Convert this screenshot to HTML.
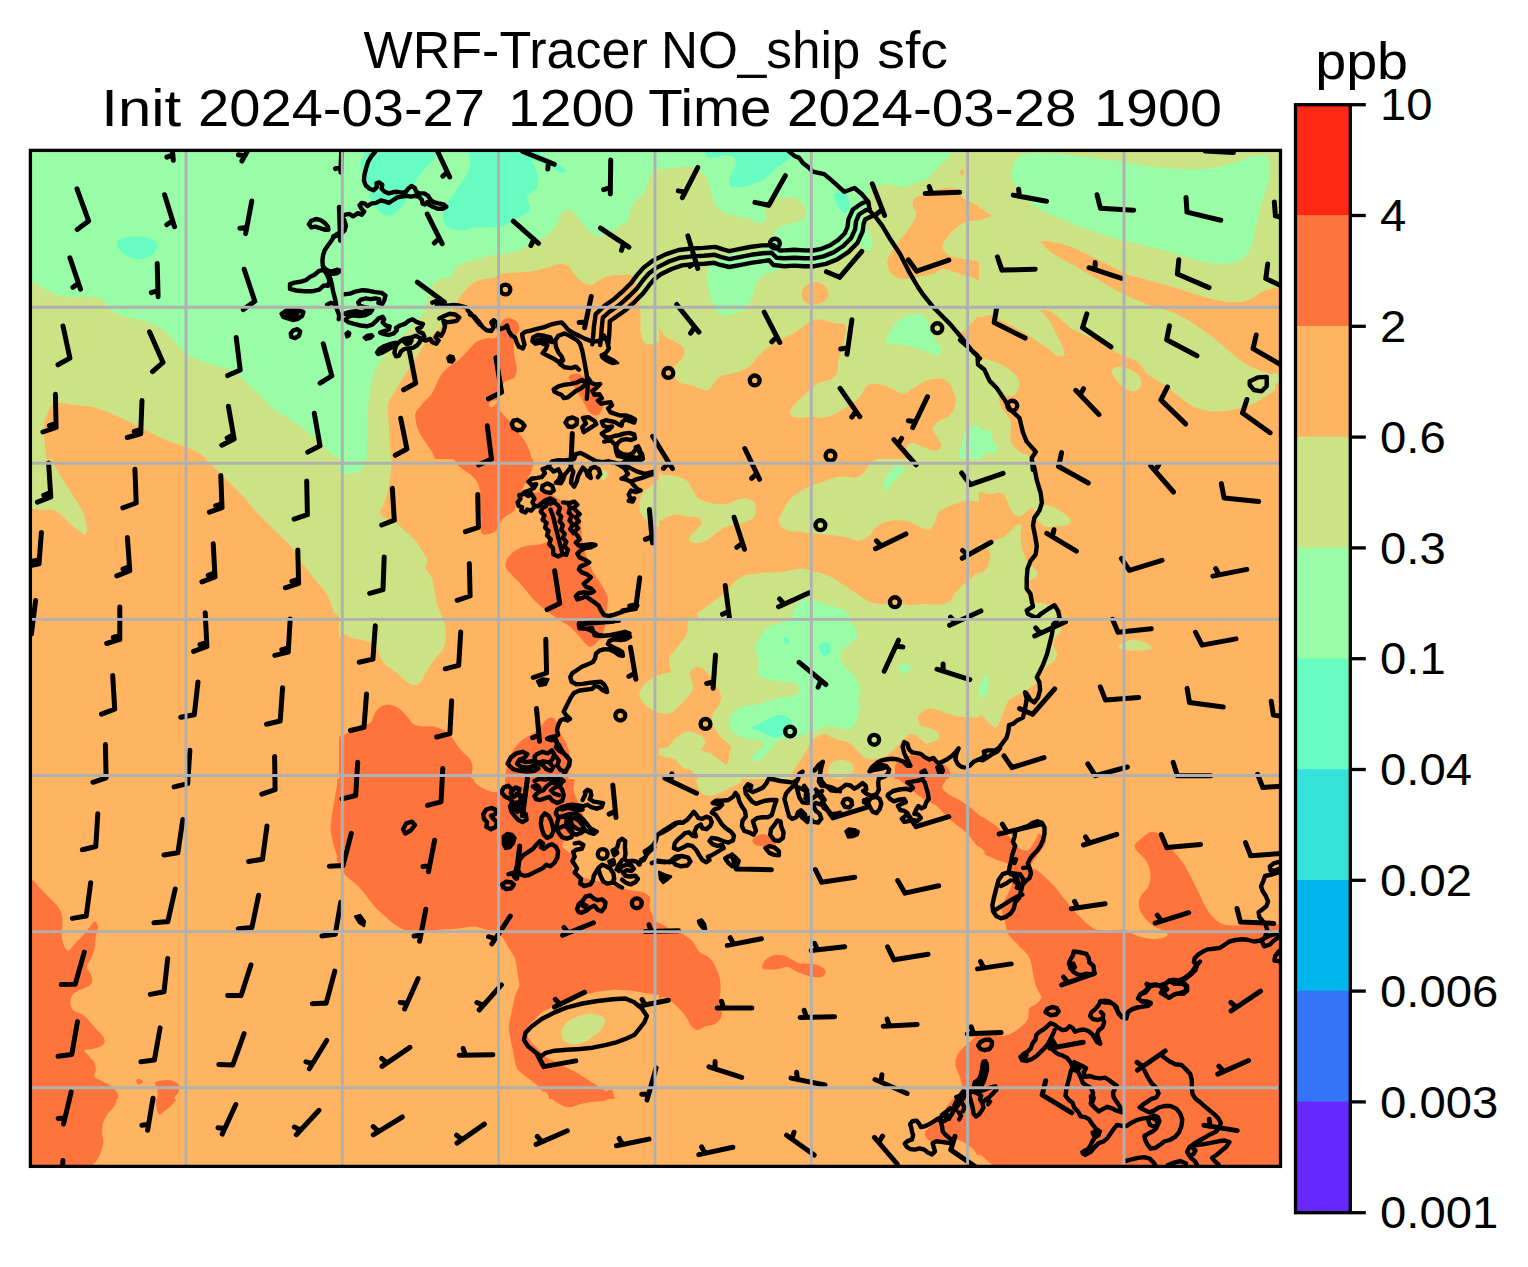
<!DOCTYPE html><html><head><meta charset="utf-8"><title>WRF-Tracer NO_ship sfc</title>
<style>html,body{margin:0;padding:0;background:#fff;}svg{display:block;}text{font-family:"Liberation Sans",sans-serif;fill:#000;}</style></head><body>
<svg width="1528" height="1267" viewBox="0 0 1528 1267">
<defs><clipPath id="c0"><rect x="19.0" y="139.0" width="322.0" height="322.0"/></clipPath><clipPath id="c1"><rect x="19.0" y="459.0" width="322.0" height="322.0"/></clipPath><clipPath id="c2"><rect x="19.0" y="779.0" width="322.0" height="322.0"/></clipPath><clipPath id="c3"><rect x="19.0" y="1099.0" width="322.0" height="82.0"/></clipPath><clipPath id="c4"><rect x="339.0" y="139.0" width="322.0" height="322.0"/></clipPath><clipPath id="c5"><rect x="339.0" y="459.0" width="322.0" height="322.0"/></clipPath><clipPath id="c6"><rect x="339.0" y="779.0" width="322.0" height="322.0"/></clipPath><clipPath id="c7"><rect x="339.0" y="1099.0" width="322.0" height="82.0"/></clipPath><clipPath id="c8"><rect x="659.0" y="139.0" width="322.0" height="322.0"/></clipPath><clipPath id="c9"><rect x="659.0" y="459.0" width="322.0" height="322.0"/></clipPath><clipPath id="c10"><rect x="659.0" y="779.0" width="322.0" height="322.0"/></clipPath><clipPath id="c11"><rect x="659.0" y="1099.0" width="322.0" height="82.0"/></clipPath><clipPath id="c26"><rect x="979.0" y="139.0" width="322.0" height="322.0"/></clipPath><clipPath id="c27"><rect x="979.0" y="459.0" width="322.0" height="322.0"/></clipPath><clipPath id="c28"><rect x="979.0" y="779.0" width="322.0" height="322.0"/></clipPath><clipPath id="c29"><rect x="979.0" y="1099.0" width="322.0" height="82.0"/></clipPath>
<clipPath id="frame"><rect x="30.4" y="150.4" width="1250.1" height="1016.0"/></clipPath></defs>
<rect width="1528" height="1267" fill="#fff"/>
<g clip-path="url(#frame)">
<rect x="30.4" y="150.4" width="1250.1" height="1016.0" fill="#ffb462"/>
<g clip-path="url(#c0)"><g transform="translate(20,140) scale(0.25257)"><rect x="-50" y="-50" width="1400" height="1400" fill="#99fca6"/><path d="M385.0,405.0 C387.0,399.2 389.2,393.8 400.0,390.0 C410.8,386.2 433.3,382.8 450.0,382.0 C466.7,381.2 485.8,382.0 500.0,385.0 C514.2,388.0 528.0,393.3 535.0,400.0 C542.0,406.7 544.2,415.8 542.0,425.0 C539.8,434.2 532.3,447.5 522.0,455.0 C511.7,462.5 493.7,468.3 480.0,470.0 C466.3,471.7 452.5,469.2 440.0,465.0 C427.5,460.8 413.7,451.7 405.0,445.0 C396.3,438.3 391.3,431.7 388.0,425.0 C384.7,418.3 383.0,410.8 385.0,405.0 Z" fill="#66fcc2"/><path d="M-200.0,500.0 C-176.7,290.0 -100.8,529.7 -60.0,540.0 C-19.2,550.3 18.3,553.7 45.0,562.0 C71.7,570.3 82.5,581.2 100.0,590.0 C117.5,598.8 133.3,609.7 150.0,615.0 C166.7,620.3 181.7,621.2 200.0,622.0 C218.3,622.8 241.7,619.5 260.0,620.0 C278.3,620.5 296.7,620.8 310.0,625.0 C323.3,629.2 330.0,635.8 340.0,645.0 C350.0,654.2 356.7,670.8 370.0,680.0 C383.3,689.2 401.7,694.2 420.0,700.0 C438.3,705.8 460.0,709.2 480.0,715.0 C500.0,720.8 521.7,725.8 540.0,735.0 C558.3,744.2 575.0,755.8 590.0,770.0 C605.0,784.2 618.8,807.5 630.0,820.0 C641.2,832.5 645.3,837.0 657.0,845.0 C668.7,853.0 682.8,860.5 700.0,868.0 C717.2,875.5 740.0,883.8 760.0,890.0 C780.0,896.2 801.7,898.3 820.0,905.0 C838.3,911.7 856.7,920.0 870.0,930.0 C883.3,940.0 886.7,951.7 900.0,965.0 C913.3,978.3 933.3,994.2 950.0,1010.0 C966.7,1025.8 981.7,1045.0 1000.0,1060.0 C1018.3,1075.0 1040.0,1086.7 1060.0,1100.0 C1080.0,1113.3 1100.0,1125.0 1120.0,1140.0 C1140.0,1155.0 1161.7,1173.3 1180.0,1190.0 C1198.3,1206.7 1210.0,1223.3 1230.0,1240.0 C1250.0,1256.7 1255.0,1246.7 1300.0,1290.0 C1345.0,1333.3 1466.7,1415.0 1500.0,1500.0 C1533.3,1585.0 1783.3,1750.0 1500.0,1800.0 C1216.7,1850.0 83.3,2016.7 -200.0,1800.0 C-483.3,1583.3 -223.3,710.0 -200.0,500.0 Z" fill="#cce385"/><path d="M95.0,1130.0 C96.2,1111.7 100.8,1101.7 105.0,1090.0 C109.2,1078.3 114.2,1068.3 120.0,1060.0 C125.8,1051.7 126.7,1042.0 140.0,1040.0 C153.3,1038.0 176.7,1045.5 200.0,1048.0 C223.3,1050.5 256.7,1050.5 280.0,1055.0 C303.3,1059.5 320.0,1067.5 340.0,1075.0 C360.0,1082.5 380.0,1090.8 400.0,1100.0 C420.0,1109.2 440.0,1120.0 460.0,1130.0 C480.0,1140.0 500.0,1150.0 520.0,1160.0 C540.0,1170.0 560.0,1181.7 580.0,1190.0 C600.0,1198.3 620.0,1202.5 640.0,1210.0 C660.0,1217.5 680.0,1223.3 700.0,1235.0 C720.0,1246.7 710.0,1235.8 760.0,1280.0 C810.0,1324.2 960.0,1413.3 1000.0,1500.0 C1040.0,1586.7 1133.3,1750.0 1000.0,1800.0 C866.7,1850.0 345.0,1850.0 200.0,1800.0 C55.0,1750.0 145.0,1583.3 130.0,1500.0 C115.0,1416.7 115.3,1350.0 110.0,1300.0 C104.7,1250.0 100.5,1228.3 98.0,1200.0 C95.5,1171.7 93.8,1148.3 95.0,1130.0 Z" fill="#ffb462"/></g></g>
<g clip-path="url(#c1)"><g transform="translate(20,460) scale(0.25257)"><rect x="-50" y="-50" width="1400" height="1400" fill="#ffb462"/><path d="M-50.0,-50.0 C-76.7,-10.0 -65.8,149.7 -50.0,190.0 C-34.2,230.3 21.7,190.3 45.0,192.0 C68.3,193.7 75.8,199.0 90.0,200.0 C104.2,201.0 118.3,195.5 130.0,198.0 C141.7,200.5 150.0,207.2 160.0,215.0 C170.0,222.8 179.2,235.0 190.0,245.0 C200.8,255.0 213.7,266.7 225.0,275.0 C236.3,283.3 251.3,295.8 258.0,295.0 C264.7,294.2 265.0,280.8 265.0,270.0 C265.0,259.2 262.2,243.3 258.0,230.0 C253.8,216.7 247.2,203.3 240.0,190.0 C232.8,176.7 223.3,163.3 215.0,150.0 C206.7,136.7 198.3,123.3 190.0,110.0 C181.7,96.7 173.3,83.3 165.0,70.0 C156.7,56.7 146.7,41.7 140.0,30.0 C133.3,18.3 130.0,13.3 125.0,0.0 C120.0,-13.3 139.2,-41.7 110.0,-50.0 C80.8,-58.3 -23.3,-90.0 -50.0,-50.0 Z" fill="#cce385"/><path d="M740.0,0.0 C748.3,15.0 765.0,25.0 780.0,40.0 C795.0,55.0 813.3,73.3 830.0,90.0 C846.7,106.7 863.3,121.7 880.0,140.0 C896.7,158.3 913.3,181.7 930.0,200.0 C946.7,218.3 963.3,233.3 980.0,250.0 C996.7,266.7 1013.3,283.3 1030.0,300.0 C1046.7,316.7 1066.7,333.3 1080.0,350.0 C1093.3,366.7 1098.3,383.3 1110.0,400.0 C1121.7,416.7 1136.7,433.3 1150.0,450.0 C1163.3,466.7 1178.3,485.0 1190.0,500.0 C1201.7,515.0 1211.7,525.0 1220.0,540.0 C1228.3,555.0 1232.2,576.7 1240.0,590.0 C1247.8,603.3 1223.7,593.3 1267.0,620.0 C1310.3,646.7 1461.2,861.7 1500.0,750.0 C1538.8,638.3 1628.3,83.3 1500.0,-50.0 C1371.7,-183.3 856.7,-58.3 730.0,-50.0 C603.3,-41.7 731.7,-15.0 740.0,0.0 Z" fill="#cce385"/></g></g>
<g clip-path="url(#c2)"><g transform="translate(20,780) scale(0.25257)"><rect x="-50" y="-50" width="1400" height="1400" fill="#ffb462"/><path d="M-50.0,380.0 C-34.2,195.8 24.2,387.5 45.0,395.0 C65.8,402.5 64.2,414.2 75.0,425.0 C85.8,435.8 98.3,448.3 110.0,460.0 C121.7,471.7 135.8,483.3 145.0,495.0 C154.2,506.7 161.2,517.5 165.0,530.0 C168.8,542.5 168.0,556.7 168.0,570.0 C168.0,583.3 164.7,597.5 165.0,610.0 C165.3,622.5 165.8,634.2 170.0,645.0 C174.2,655.8 182.5,674.2 190.0,675.0 C197.5,675.8 205.8,659.2 215.0,650.0 C224.2,640.8 235.8,630.0 245.0,620.0 C254.2,610.0 261.7,600.0 270.0,590.0 C278.3,580.0 288.7,561.7 295.0,560.0 C301.3,558.3 307.2,570.0 308.0,580.0 C308.8,590.0 302.2,605.0 300.0,620.0 C297.8,635.0 298.3,655.0 295.0,670.0 C291.7,685.0 285.0,698.3 280.0,710.0 C275.0,721.7 265.0,730.0 265.0,740.0 C265.0,750.0 276.7,760.0 280.0,770.0 C283.3,780.0 287.5,791.7 285.0,800.0 C282.5,808.3 274.2,814.2 265.0,820.0 C255.8,825.8 240.0,829.2 230.0,835.0 C220.0,840.8 210.0,845.8 205.0,855.0 C200.0,864.2 198.3,880.0 200.0,890.0 C201.7,900.0 206.7,908.3 215.0,915.0 C223.3,921.7 240.0,923.3 250.0,930.0 C260.0,936.7 266.7,945.8 275.0,955.0 C283.3,964.2 291.7,975.8 300.0,985.0 C308.3,994.2 319.2,1001.7 325.0,1010.0 C330.8,1018.3 335.8,1027.5 335.0,1035.0 C334.2,1042.5 328.3,1050.0 320.0,1055.0 C311.7,1060.0 295.8,1062.5 285.0,1065.0 C274.2,1067.5 257.5,1065.8 255.0,1070.0 C252.5,1074.2 263.3,1081.7 270.0,1090.0 C276.7,1098.3 290.0,1110.0 295.0,1120.0 C300.0,1130.0 300.0,1140.8 300.0,1150.0 C300.0,1159.2 290.0,1167.5 295.0,1175.0 C300.0,1182.5 318.3,1188.3 330.0,1195.0 C341.7,1201.7 355.8,1207.5 365.0,1215.0 C374.2,1222.5 380.8,1231.3 385.0,1240.0 C389.2,1248.7 388.3,1223.7 390.0,1267.0 C391.7,1310.3 468.3,1461.2 395.0,1500.0 C321.7,1538.8 24.2,1686.7 -50.0,1500.0 C-124.2,1313.3 -65.8,564.2 -50.0,380.0 Z" fill="#ff743c"/><path d="M1267.0,-50.0 C1242.8,-38.3 1258.7,-1.7 1255.0,20.0 C1251.3,41.7 1248.3,60.0 1245.0,80.0 C1241.7,100.0 1237.5,120.0 1235.0,140.0 C1232.5,160.0 1229.2,181.7 1230.0,200.0 C1230.8,218.3 1235.8,233.3 1240.0,250.0 C1244.2,266.7 1250.5,286.7 1255.0,300.0 C1259.5,313.3 1242.8,316.7 1267.0,330.0 C1291.2,343.3 1377.8,443.3 1400.0,380.0 C1422.2,316.7 1422.2,21.7 1400.0,-50.0 C1377.8,-121.7 1291.2,-61.7 1267.0,-50.0 Z" fill="#ff743c"/><path d="M535.0,1200.0 C537.5,1191.7 549.2,1191.7 560.0,1190.0 C570.8,1188.3 588.3,1186.7 600.0,1190.0 C611.7,1193.3 625.8,1201.7 630.0,1210.0 C634.2,1218.3 628.3,1230.5 625.0,1240.0 C621.7,1249.5 614.2,1240.3 610.0,1267.0 C605.8,1293.7 611.7,1377.8 600.0,1400.0 C588.3,1422.2 549.2,1426.7 540.0,1400.0 C530.8,1373.3 545.8,1273.3 545.0,1240.0 C544.2,1206.7 532.5,1208.3 535.0,1200.0 Z" fill="#ff743c"/><path d="M460.0,1190.0 C460.3,1186.0 467.5,1182.2 472.0,1183.0 C476.5,1183.8 487.3,1191.0 487.0,1195.0 C486.7,1199.0 474.5,1207.8 470.0,1207.0 C465.5,1206.2 459.7,1194.0 460.0,1190.0 Z" fill="#ff743c"/></g></g>
<g clip-path="url(#c3)"><g transform="translate(20,940) scale(0.25257)"><rect x="-50" y="-50" width="1400" height="1400" fill="#ffb462"/><path d="M385.0,590.0 C387.5,600.0 386.7,609.2 385.0,620.0 C383.3,630.8 380.8,644.2 375.0,655.0 C369.2,665.8 357.5,674.2 350.0,685.0 C342.5,695.8 334.2,707.5 330.0,720.0 C325.8,732.5 325.0,746.7 325.0,760.0 C325.0,773.3 330.8,786.7 330.0,800.0 C329.2,813.3 325.0,826.7 320.0,840.0 C315.0,853.3 305.0,870.0 300.0,880.0 C295.0,890.0 293.3,863.3 290.0,900.0 C286.7,936.7 336.7,1066.7 280.0,1100.0 C223.3,1133.3 5.0,1208.3 -50.0,1100.0 C-105.0,991.7 -108.3,558.3 -50.0,450.0 C8.3,341.7 235.0,438.3 300.0,450.0 C365.0,461.7 328.3,501.7 340.0,520.0 C351.7,538.3 362.5,548.3 370.0,560.0 C377.5,571.7 382.5,580.0 385.0,590.0 Z" fill="#ff743c"/><path d="M535.0,580.0 C539.2,570.0 549.2,564.2 560.0,560.0 C570.8,555.8 588.7,552.5 600.0,555.0 C611.3,557.5 623.8,565.0 628.0,575.0 C632.2,585.0 628.8,602.5 625.0,615.0 C621.2,627.5 613.3,640.0 605.0,650.0 C596.7,660.0 584.2,668.3 575.0,675.0 C565.8,681.7 555.8,692.5 550.0,690.0 C544.2,687.5 542.5,671.7 540.0,660.0 C537.5,648.3 535.8,633.3 535.0,620.0 C534.2,606.7 530.8,590.0 535.0,580.0 Z" fill="#ff743c"/></g></g>
<g clip-path="url(#c4)"><g transform="translate(340,140) scale(0.25257)"><rect x="-50" y="-50" width="1400" height="1400" fill="#99fca6"/><path d="M105.0,1400.0 C105.5,1341.7 106.8,1208.3 108.0,1150.0 C109.2,1091.7 109.2,1081.7 112.0,1050.0 C114.8,1018.3 118.7,986.7 125.0,960.0 C131.3,933.3 140.0,910.0 150.0,890.0 C160.0,870.0 173.3,855.0 185.0,840.0 C196.7,825.0 204.2,816.7 220.0,800.0 C235.8,783.3 261.7,760.0 280.0,740.0 C298.3,720.0 318.3,700.0 330.0,680.0 C341.7,660.0 343.3,638.3 350.0,620.0 C356.7,601.7 361.7,581.7 370.0,570.0 C378.3,558.3 388.3,555.0 400.0,550.0 C411.7,545.0 430.8,546.7 440.0,540.0 C449.2,533.3 448.3,518.3 455.0,510.0 C461.7,501.7 467.5,495.8 480.0,490.0 C492.5,484.2 513.3,480.0 530.0,475.0 C546.7,470.0 565.0,463.3 580.0,460.0 C595.0,456.7 606.7,456.7 620.0,455.0 C633.3,453.3 646.7,452.5 660.0,450.0 C673.3,447.5 686.7,445.0 700.0,440.0 C713.3,435.0 725.0,427.5 740.0,420.0 C755.0,412.5 775.0,403.3 790.0,395.0 C805.0,386.7 818.3,380.8 830.0,370.0 C841.7,359.2 851.7,343.3 860.0,330.0 C868.3,316.7 872.5,299.2 880.0,290.0 C887.5,280.8 896.7,275.0 905.0,275.0 C913.3,275.0 920.8,280.8 930.0,290.0 C939.2,299.2 950.0,317.5 960.0,330.0 C970.0,342.5 978.3,356.7 990.0,365.0 C1001.7,373.3 1016.7,380.0 1030.0,380.0 C1043.3,380.0 1056.7,371.7 1070.0,365.0 C1083.3,358.3 1098.3,347.5 1110.0,340.0 C1121.7,332.5 1133.3,330.0 1140.0,320.0 C1146.7,310.0 1145.0,293.3 1150.0,280.0 C1155.0,266.7 1161.7,250.8 1170.0,240.0 C1178.3,229.2 1191.7,226.7 1200.0,215.0 C1208.3,203.3 1214.2,184.2 1220.0,170.0 C1225.8,155.8 1225.8,139.2 1235.0,130.0 C1244.2,120.8 1230.8,120.0 1275.0,115.0 C1319.2,110.0 1462.5,-130.8 1500.0,100.0 C1537.5,330.8 1732.5,1266.7 1500.0,1500.0 C1267.5,1733.3 337.5,1516.7 105.0,1500.0 C-127.5,1483.3 104.5,1458.3 105.0,1400.0 Z" fill="#cce385"/><path d="M210.0,1400.0 C207.5,1341.7 198.3,1208.3 195.0,1150.0 C191.7,1091.7 186.7,1075.0 190.0,1050.0 C193.3,1025.0 205.0,1018.3 215.0,1000.0 C225.0,981.7 237.5,960.0 250.0,940.0 C262.5,920.0 278.3,898.3 290.0,880.0 C301.7,861.7 310.8,845.0 320.0,830.0 C329.2,815.0 335.0,801.7 345.0,790.0 C355.0,778.3 367.5,771.7 380.0,760.0 C392.5,748.3 410.0,731.7 420.0,720.0 C430.0,708.3 434.2,700.0 440.0,690.0 C445.8,680.0 450.0,670.0 455.0,660.0 C460.0,650.0 462.5,641.7 470.0,630.0 C477.5,618.3 490.0,600.8 500.0,590.0 C510.0,579.2 518.3,571.7 530.0,565.0 C541.7,558.3 556.7,553.3 570.0,550.0 C583.3,546.7 598.3,548.3 610.0,545.0 C621.7,541.7 625.0,533.3 640.0,530.0 C655.0,526.7 680.0,526.7 700.0,525.0 C720.0,523.3 740.0,523.3 760.0,520.0 C780.0,516.7 801.7,510.0 820.0,505.0 C838.3,500.0 855.8,490.8 870.0,490.0 C884.2,489.2 895.8,493.3 905.0,500.0 C914.2,506.7 917.5,520.8 925.0,530.0 C932.5,539.2 939.2,547.5 950.0,555.0 C960.8,562.5 978.3,574.2 990.0,575.0 C1001.7,575.8 1008.3,565.8 1020.0,560.0 C1031.7,554.2 1045.0,544.2 1060.0,540.0 C1075.0,535.8 1095.0,535.8 1110.0,535.0 C1125.0,534.2 1140.0,530.8 1150.0,535.0 C1160.0,539.2 1165.0,549.2 1170.0,560.0 C1175.0,570.8 1177.5,585.0 1180.0,600.0 C1182.5,615.0 1183.3,633.3 1185.0,650.0 C1186.7,666.7 1189.2,681.7 1190.0,700.0 C1190.8,718.3 1187.5,743.3 1190.0,760.0 C1192.5,776.7 1198.3,791.7 1205.0,800.0 C1211.7,808.3 1217.5,810.0 1230.0,810.0 C1242.5,810.0 1235.0,801.7 1280.0,800.0 C1325.0,798.3 1463.3,683.3 1500.0,800.0 C1536.7,916.7 1715.0,1383.3 1500.0,1500.0 C1285.0,1616.7 425.0,1516.7 210.0,1500.0 C-5.0,1483.3 212.5,1458.3 210.0,1400.0 Z" fill="#ffb462"/><path d="M300.0,1080.0 C305.0,1068.3 320.0,1051.7 330.0,1040.0 C340.0,1028.3 351.7,1021.7 360.0,1010.0 C368.3,998.3 373.3,983.3 380.0,970.0 C386.7,956.7 391.7,941.7 400.0,930.0 C408.3,918.3 418.3,910.0 430.0,900.0 C441.7,890.0 456.7,881.7 470.0,870.0 C483.3,858.3 498.3,841.7 510.0,830.0 C521.7,818.3 528.3,807.5 540.0,800.0 C551.7,792.5 566.7,788.3 580.0,785.0 C593.3,781.7 610.0,790.8 620.0,780.0 C630.0,769.2 631.7,732.5 640.0,720.0 C648.3,707.5 660.0,705.0 670.0,705.0 C680.0,705.0 693.3,712.5 700.0,720.0 C706.7,727.5 711.7,738.3 710.0,750.0 C708.3,761.7 693.3,773.3 690.0,790.0 C686.7,806.7 688.3,831.7 690.0,850.0 C691.7,868.3 700.0,885.0 700.0,900.0 C700.0,915.0 698.3,930.0 690.0,940.0 C681.7,950.0 658.3,950.0 650.0,960.0 C641.7,970.0 644.2,986.7 640.0,1000.0 C635.8,1013.3 625.0,1026.7 625.0,1040.0 C625.0,1053.3 632.5,1068.3 640.0,1080.0 C647.5,1091.7 660.0,1098.3 670.0,1110.0 C680.0,1121.7 690.0,1136.7 700.0,1150.0 C710.0,1163.3 721.7,1176.7 730.0,1190.0 C738.3,1203.3 745.0,1215.0 750.0,1230.0 C755.0,1245.0 755.0,1235.0 760.0,1280.0 C765.0,1325.0 840.0,1463.3 780.0,1500.0 C720.0,1536.7 466.7,1536.7 400.0,1500.0 C333.3,1463.3 390.0,1330.0 380.0,1280.0 C370.0,1230.0 351.7,1221.7 340.0,1200.0 C328.3,1178.3 316.7,1165.0 310.0,1150.0 C303.3,1135.0 301.7,1121.7 300.0,1110.0 C298.3,1098.3 295.0,1091.7 300.0,1080.0 Z" fill="#ff743c"/><path d="M588.0,1048.0 C588.0,1044.2 594.3,1038.0 600.0,1035.0 C605.7,1032.0 619.0,1028.3 622.0,1030.0 C625.0,1031.7 621.7,1040.3 618.0,1045.0 C614.3,1049.7 605.0,1057.5 600.0,1058.0 C595.0,1058.5 588.0,1051.8 588.0,1048.0 Z" fill="#ffb462"/><path d="M905.0,940.0 C905.0,930.8 920.8,925.8 930.0,925.0 C939.2,924.2 950.0,929.2 960.0,935.0 C970.0,940.8 980.0,949.2 990.0,960.0 C1000.0,970.8 1010.0,988.3 1020.0,1000.0 C1030.0,1011.7 1046.7,1020.0 1050.0,1030.0 C1053.3,1040.0 1045.0,1050.0 1040.0,1060.0 C1035.0,1070.0 1028.3,1086.7 1020.0,1090.0 C1011.7,1093.3 1000.0,1090.0 990.0,1080.0 C980.0,1070.0 970.0,1046.7 960.0,1030.0 C950.0,1013.3 939.2,995.0 930.0,980.0 C920.8,965.0 905.0,949.2 905.0,940.0 Z" fill="#ff743c"/><path d="M81.0,82.0 C84.0,73.7 91.8,72.0 99.0,50.0 C106.2,28.0 76.3,-33.3 124.0,-50.0 C171.7,-66.7 341.5,-66.3 385.0,-50.0 C428.5,-33.7 387.0,28.0 385.0,48.0 C383.0,68.0 379.2,61.2 373.0,70.0 C366.8,78.8 358.3,88.7 348.0,101.0 C337.7,113.3 320.3,130.7 311.0,144.0 C301.7,157.3 298.2,170.7 292.0,181.0 C285.8,191.3 279.2,196.7 274.0,206.0 C268.8,215.3 266.3,226.7 261.0,237.0 C255.7,247.3 249.2,259.2 242.0,268.0 C234.8,276.8 227.2,284.7 218.0,290.0 C208.8,295.3 196.3,300.5 187.0,300.0 C177.7,299.5 170.3,294.3 162.0,287.0 C153.7,279.7 144.3,266.3 137.0,256.0 C129.7,245.7 120.2,234.3 118.0,225.0 C115.8,215.7 126.0,207.3 124.0,200.0 C122.0,192.7 111.2,190.3 106.0,181.0 C100.8,171.7 97.2,157.5 93.0,144.0 C88.8,130.5 83.0,110.3 81.0,100.0 C79.0,89.7 78.0,90.3 81.0,82.0 Z" fill="#66fcc2"/><path d="M522.0,-50.0 C476.3,-26.0 520.2,61.7 516.0,94.0 C511.8,126.3 504.2,129.5 497.0,144.0 C489.8,158.5 481.2,168.5 473.0,181.0 C464.8,193.5 456.3,207.5 448.0,219.0 C439.7,230.5 429.3,239.7 423.0,250.0 C416.7,260.3 412.2,268.7 410.0,281.0 C407.8,293.3 405.8,312.7 410.0,324.0 C414.2,335.3 422.5,343.7 435.0,349.0 C447.5,354.3 468.3,356.5 485.0,356.0 C501.7,355.5 517.3,347.7 535.0,346.0 C552.7,344.3 572.3,347.0 591.0,346.0 C609.7,345.0 631.5,344.7 647.0,340.0 C662.5,335.3 669.5,325.8 684.0,318.0 C698.5,310.2 722.7,301.3 734.0,293.0 C745.3,284.7 750.5,277.3 752.0,268.0 C753.5,258.7 744.0,246.2 743.0,237.0 C742.0,227.8 740.3,220.2 746.0,213.0 C751.7,205.8 770.8,205.5 777.0,194.0 C783.2,182.5 784.5,159.5 783.0,144.0 C781.5,128.5 772.0,111.3 768.0,101.0 C764.0,90.7 754.3,84.2 759.0,82.0 C763.7,79.8 782.7,83.8 796.0,88.0 C809.3,92.2 826.7,100.2 839.0,107.0 C851.3,113.8 861.2,126.0 870.0,129.0 C878.8,132.0 889.8,128.7 892.0,125.0 C894.2,121.3 889.7,113.2 883.0,107.0 C876.3,100.8 864.5,95.3 852.0,88.0 C839.5,80.7 818.3,69.7 808.0,63.0 C797.7,56.3 793.0,66.8 790.0,48.0 C787.0,29.2 834.7,-33.7 790.0,-50.0 C745.3,-66.3 567.7,-74.0 522.0,-50.0 Z" fill="#66fcc2"/></g></g>
<g clip-path="url(#c5)"><g transform="translate(340,460) scale(0.25257)"><rect x="-50" y="-50" width="1400" height="1400" fill="#ffb462"/><path d="M-50.0,-50.0 C-7.5,-171.7 162.5,-58.3 205.0,-50.0 C247.5,-41.7 205.8,-18.3 205.0,0.0 C204.2,18.3 202.5,40.0 200.0,60.0 C197.5,80.0 194.2,101.7 190.0,120.0 C185.8,138.3 180.0,155.0 175.0,170.0 C170.0,185.0 158.3,199.2 160.0,210.0 C161.7,220.8 174.2,228.3 185.0,235.0 C195.8,241.7 213.3,242.5 225.0,250.0 C236.7,257.5 244.2,270.0 255.0,280.0 C265.8,290.0 279.2,298.3 290.0,310.0 C300.8,321.7 310.8,335.8 320.0,350.0 C329.2,364.2 341.7,381.7 345.0,395.0 C348.3,408.3 336.7,417.5 340.0,430.0 C343.3,442.5 359.2,455.0 365.0,470.0 C370.8,485.0 371.7,503.3 375.0,520.0 C378.3,536.7 380.8,555.0 385.0,570.0 C389.2,585.0 395.0,596.7 400.0,610.0 C405.0,623.3 411.7,635.0 415.0,650.0 C418.3,665.0 420.8,684.2 420.0,700.0 C419.2,715.8 415.8,732.5 410.0,745.0 C404.2,757.5 393.3,764.2 385.0,775.0 C376.7,785.8 368.3,797.5 360.0,810.0 C351.7,822.5 342.5,837.5 335.0,850.0 C327.5,862.5 323.3,878.3 315.0,885.0 C306.7,891.7 295.8,893.3 285.0,890.0 C274.2,886.7 261.7,874.2 250.0,865.0 C238.3,855.8 226.7,844.2 215.0,835.0 C203.3,825.8 189.2,819.2 180.0,810.0 C170.8,800.8 165.3,790.0 160.0,780.0 C154.7,770.0 153.8,759.2 148.0,750.0 C142.2,740.8 135.5,731.3 125.0,725.0 C114.5,718.7 98.3,715.3 85.0,712.0 C71.7,708.7 56.7,708.7 45.0,705.0 C33.3,701.3 30.8,694.2 15.0,690.0 C-0.8,685.8 -39.2,803.3 -50.0,680.0 C-60.8,556.7 -92.5,71.7 -50.0,-50.0 Z" fill="#cce385"/><path d="M-50.0,-50.0 C-25.8,-66.7 71.3,-61.7 95.0,-50.0 C118.7,-38.3 95.3,4.2 92.0,20.0 C88.7,35.8 83.7,39.2 75.0,45.0 C66.3,50.8 52.5,54.2 40.0,55.0 C27.5,55.8 15.0,50.8 0.0,50.0 C-15.0,49.2 -41.7,66.7 -50.0,50.0 C-58.3,33.3 -74.2,-33.3 -50.0,-50.0 Z" fill="#99fca6"/><path d="M1267.0,80.0 C1239.5,83.3 1246.2,91.7 1235.0,100.0 C1223.8,108.3 1208.3,118.3 1200.0,130.0 C1191.7,141.7 1186.7,156.7 1185.0,170.0 C1183.3,183.3 1185.0,198.3 1190.0,210.0 C1195.0,221.7 1205.8,231.7 1215.0,240.0 C1224.2,248.3 1236.3,255.8 1245.0,260.0 C1253.7,264.2 1241.2,264.2 1267.0,265.0 C1292.8,265.8 1377.8,295.8 1400.0,265.0 C1422.2,234.2 1422.2,110.8 1400.0,80.0 C1377.8,49.2 1294.5,76.7 1267.0,80.0 Z" fill="#cce385"/><path d="M1267.0,850.0 C1239.5,852.5 1246.2,857.5 1235.0,865.0 C1223.8,872.5 1208.3,884.2 1200.0,895.0 C1191.7,905.8 1185.0,919.2 1185.0,930.0 C1185.0,940.8 1192.5,950.8 1200.0,960.0 C1207.5,969.2 1218.8,978.3 1230.0,985.0 C1241.2,991.7 1238.7,997.5 1267.0,1000.0 C1295.3,1002.5 1377.8,1025.0 1400.0,1000.0 C1422.2,975.0 1422.2,875.0 1400.0,850.0 C1377.8,825.0 1294.5,847.5 1267.0,850.0 Z" fill="#cce385"/><path d="M1032.0,50.0 C1035.3,45.0 1045.3,38.3 1050.0,40.0 C1054.7,41.7 1060.8,53.3 1060.0,60.0 C1059.2,66.7 1050.0,78.3 1045.0,80.0 C1040.0,81.7 1032.2,75.0 1030.0,70.0 C1027.8,65.0 1028.7,55.0 1032.0,50.0 Z" fill="#cce385"/><path d="M440.0,-50.0 C389.2,-40.0 451.7,-5.0 460.0,10.0 C468.3,25.0 480.0,31.7 490.0,40.0 C500.0,48.3 510.8,51.7 520.0,60.0 C529.2,68.3 539.2,78.3 545.0,90.0 C550.8,101.7 553.3,115.0 555.0,130.0 C556.7,145.0 554.2,163.3 555.0,180.0 C555.8,196.7 559.2,211.7 560.0,230.0 C560.8,248.3 553.3,280.0 560.0,290.0 C566.7,300.0 589.2,293.3 600.0,290.0 C610.8,286.7 618.3,278.3 625.0,270.0 C631.7,261.7 634.2,248.3 640.0,240.0 C645.8,231.7 651.7,226.7 660.0,220.0 C668.3,213.3 683.3,210.0 690.0,200.0 C696.7,190.0 695.0,173.3 700.0,160.0 C705.0,146.7 713.3,133.3 720.0,120.0 C726.7,106.7 733.3,93.3 740.0,80.0 C746.7,66.7 755.8,53.3 760.0,40.0 C764.2,26.7 764.2,15.0 765.0,0.0 C765.8,-15.0 819.2,-41.7 765.0,-50.0 C710.8,-58.3 490.8,-60.0 440.0,-50.0 Z" fill="#ff743c"/><path d="M655.0,420.0 C653.3,407.5 662.5,390.8 670.0,380.0 C677.5,369.2 688.3,361.7 700.0,355.0 C711.7,348.3 725.0,343.3 740.0,340.0 C755.0,336.7 776.5,338.2 790.0,335.0 C803.5,331.8 816.8,327.5 821.0,321.0 C825.2,314.5 817.7,306.5 815.0,296.0 C812.3,285.5 807.7,270.5 805.0,258.0 C802.3,245.5 802.7,233.5 799.0,221.0 C795.3,208.5 788.2,194.5 783.0,183.0 C777.8,171.5 771.8,160.3 768.0,152.0 C764.2,143.7 756.3,137.0 760.0,133.0 C763.7,129.0 782.0,128.5 790.0,128.0 C798.0,127.5 799.7,128.0 808.0,130.0 C816.3,132.0 829.5,135.3 840.0,140.0 C850.5,144.7 861.0,153.0 871.0,158.0 C881.0,163.0 890.7,165.8 900.0,170.0 C909.3,174.2 919.5,177.2 927.0,183.0 C934.5,188.8 940.8,196.7 945.0,205.0 C949.2,213.3 950.3,222.2 952.0,233.0 C953.7,243.8 954.0,257.5 955.0,270.0 C956.0,282.5 956.3,295.5 958.0,308.0 C959.7,320.5 962.2,333.0 965.0,345.0 C967.8,357.0 970.0,365.8 975.0,380.0 C980.0,394.2 987.5,415.0 995.0,430.0 C1002.5,445.0 1011.7,456.7 1020.0,470.0 C1028.3,483.3 1038.3,496.7 1045.0,510.0 C1051.7,523.3 1058.3,535.0 1060.0,550.0 C1061.7,565.0 1056.7,583.3 1055.0,600.0 C1053.3,616.7 1052.5,635.0 1050.0,650.0 C1047.5,665.0 1045.0,678.3 1040.0,690.0 C1035.0,701.7 1028.3,711.7 1020.0,720.0 C1011.7,728.3 999.2,740.0 990.0,740.0 C980.8,740.0 973.3,728.3 965.0,720.0 C956.7,711.7 949.2,700.0 940.0,690.0 C930.8,680.0 920.0,668.3 910.0,660.0 C900.0,651.7 890.0,646.7 880.0,640.0 C870.0,633.3 860.0,626.7 850.0,620.0 C840.0,613.3 830.0,607.5 820.0,600.0 C810.0,592.5 800.0,584.2 790.0,575.0 C780.0,565.8 769.2,555.0 760.0,545.0 C750.8,535.0 743.3,525.0 735.0,515.0 C726.7,505.0 719.2,495.0 710.0,485.0 C700.8,475.0 689.2,465.8 680.0,455.0 C670.8,444.2 656.7,432.5 655.0,420.0 Z" fill="#ff743c"/><path d="M-50.0,1100.0 C-41.7,1032.5 -15.0,1099.2 0.0,1095.0 C15.0,1090.8 26.7,1082.5 40.0,1075.0 C53.3,1067.5 66.7,1055.8 80.0,1050.0 C93.3,1044.2 110.0,1048.3 120.0,1040.0 C130.0,1031.7 132.5,1010.8 140.0,1000.0 C147.5,989.2 155.0,980.0 165.0,975.0 C175.0,970.0 188.3,968.3 200.0,970.0 C211.7,971.7 224.2,977.5 235.0,985.0 C245.8,992.5 255.8,1005.0 265.0,1015.0 C274.2,1025.0 279.2,1038.3 290.0,1045.0 C300.8,1051.7 316.7,1053.3 330.0,1055.0 C343.3,1056.7 356.7,1052.5 370.0,1055.0 C383.3,1057.5 398.3,1063.3 410.0,1070.0 C421.7,1076.7 430.8,1085.0 440.0,1095.0 C449.2,1105.0 456.7,1119.2 465.0,1130.0 C473.3,1140.8 481.7,1150.8 490.0,1160.0 C498.3,1169.2 509.2,1175.0 515.0,1185.0 C520.8,1195.0 524.2,1206.3 525.0,1220.0 C525.8,1233.7 521.7,1220.3 520.0,1267.0 C518.3,1313.7 610.0,1461.2 515.0,1500.0 C420.0,1538.8 44.2,1566.7 -50.0,1500.0 C-144.2,1433.3 -58.3,1167.5 -50.0,1100.0 Z" fill="#ff743c"/><path d="M655.0,1267.0 C657.5,1217.0 660.0,1219.5 665.0,1200.0 C670.0,1180.5 675.8,1165.0 685.0,1150.0 C694.2,1135.0 707.5,1120.8 720.0,1110.0 C732.5,1099.2 748.3,1093.3 760.0,1085.0 C771.7,1076.7 780.8,1069.2 790.0,1060.0 C799.2,1050.8 806.7,1036.7 815.0,1030.0 C823.3,1023.3 832.5,1018.3 840.0,1020.0 C847.5,1021.7 855.0,1030.0 860.0,1040.0 C865.0,1050.0 865.0,1068.3 870.0,1080.0 C875.0,1091.7 884.2,1098.3 890.0,1110.0 C895.8,1121.7 900.8,1135.0 905.0,1150.0 C909.2,1165.0 915.0,1183.3 915.0,1200.0 C915.0,1216.7 907.5,1200.0 905.0,1250.0 C902.5,1300.0 942.5,1458.3 900.0,1500.0 C857.5,1541.7 690.8,1538.8 650.0,1500.0 C609.2,1461.2 652.5,1317.0 655.0,1267.0 Z" fill="#ff743c"/></g></g>
<g clip-path="url(#c6)"><g transform="translate(340,780) scale(0.25257)"><rect x="-50" y="-50" width="1400" height="1400" fill="#ffb462"/><path d="M-50.0,-50.0 C45.8,-108.3 428.3,-58.3 525.0,-50.0 C621.7,-41.7 526.7,-11.7 530.0,0.0 C533.3,11.7 536.7,13.3 545.0,20.0 C553.3,26.7 568.3,35.3 580.0,40.0 C591.7,44.7 605.0,48.8 615.0,48.0 C625.0,47.2 633.3,41.3 640.0,35.0 C646.7,28.7 651.7,24.2 655.0,10.0 C658.3,-4.2 618.3,-40.0 660.0,-50.0 C701.7,-60.0 860.8,-65.0 905.0,-50.0 C949.2,-35.0 919.2,18.3 925.0,40.0 C930.8,61.7 934.5,66.7 940.0,80.0 C945.5,93.3 954.7,106.7 958.0,120.0 C961.3,133.3 963.8,147.5 960.0,160.0 C956.2,172.5 945.0,183.3 935.0,195.0 C925.0,206.7 909.2,219.2 900.0,230.0 C890.8,240.8 879.2,250.8 880.0,260.0 C880.8,269.2 897.5,276.7 905.0,285.0 C912.5,293.3 922.5,300.0 925.0,310.0 C927.5,320.0 917.5,334.2 920.0,345.0 C922.5,355.8 930.8,367.5 940.0,375.0 C949.2,382.5 961.7,385.8 975.0,390.0 C988.3,394.2 1002.5,395.0 1020.0,400.0 C1037.5,405.0 1060.0,414.2 1080.0,420.0 C1100.0,425.8 1120.0,430.8 1140.0,435.0 C1160.0,439.2 1185.3,440.0 1200.0,445.0 C1214.7,450.0 1223.8,455.8 1228.0,465.0 C1232.2,474.2 1223.0,487.5 1225.0,500.0 C1227.0,512.5 1233.0,529.2 1240.0,540.0 C1247.0,550.8 1240.3,558.3 1267.0,565.0 C1293.7,571.7 1377.8,532.5 1400.0,580.0 C1422.2,627.5 1422.2,805.0 1400.0,850.0 C1377.8,895.0 1297.0,850.8 1267.0,850.0 C1237.0,849.2 1237.8,847.5 1220.0,845.0 C1202.2,842.5 1180.0,837.5 1160.0,835.0 C1140.0,832.5 1120.0,830.0 1100.0,830.0 C1080.0,830.0 1058.3,832.5 1040.0,835.0 C1021.7,837.5 1006.7,840.8 990.0,845.0 C973.3,849.2 956.7,854.2 940.0,860.0 C923.3,865.8 906.7,873.3 890.0,880.0 C873.3,886.7 855.0,893.3 840.0,900.0 C825.0,906.7 811.7,911.7 800.0,920.0 C788.3,928.3 779.2,940.8 770.0,950.0 C760.8,959.2 750.0,965.0 745.0,975.0 C740.0,985.0 737.5,999.2 740.0,1010.0 C742.5,1020.8 751.7,1030.0 760.0,1040.0 C768.3,1050.0 780.0,1060.0 790.0,1070.0 C800.0,1080.0 808.3,1091.7 820.0,1100.0 C831.7,1108.3 846.7,1113.3 860.0,1120.0 C873.3,1126.7 886.7,1133.3 900.0,1140.0 C913.3,1146.7 928.3,1153.3 940.0,1160.0 C951.7,1166.7 958.3,1172.5 970.0,1180.0 C981.7,1187.5 996.7,1196.7 1010.0,1205.0 C1023.3,1213.3 1037.5,1222.5 1050.0,1230.0 C1062.5,1237.5 1076.7,1205.0 1085.0,1250.0 C1093.3,1295.0 1137.5,1458.3 1100.0,1500.0 C1062.5,1541.7 905.0,1538.8 860.0,1500.0 C815.0,1461.2 840.0,1312.0 830.0,1267.0 C820.0,1222.0 810.0,1241.2 800.0,1230.0 C790.0,1218.8 781.7,1210.0 770.0,1200.0 C758.3,1190.0 741.7,1180.0 730.0,1170.0 C718.3,1160.0 706.7,1151.7 700.0,1140.0 C693.3,1128.3 693.3,1115.0 690.0,1100.0 C686.7,1085.0 683.3,1066.7 680.0,1050.0 C676.7,1033.3 671.7,1015.0 670.0,1000.0 C668.3,985.0 668.3,973.3 670.0,960.0 C671.7,946.7 677.5,931.7 680.0,920.0 C682.5,908.3 682.5,901.7 685.0,890.0 C687.5,878.3 690.8,862.5 695.0,850.0 C699.2,837.5 708.3,826.7 710.0,815.0 C711.7,803.3 706.7,792.5 705.0,780.0 C703.3,767.5 702.5,753.3 700.0,740.0 C697.5,726.7 695.8,713.3 690.0,700.0 C684.2,686.7 673.3,673.3 665.0,660.0 C656.7,646.7 650.8,630.0 640.0,620.0 C629.2,610.0 611.7,605.0 600.0,600.0 C588.3,595.0 581.7,593.3 570.0,590.0 C558.3,586.7 543.3,580.8 530.0,580.0 C516.7,579.2 503.3,583.3 490.0,585.0 C476.7,586.7 465.0,588.8 450.0,590.0 C435.0,591.2 416.7,590.7 400.0,592.0 C383.3,593.3 366.7,596.7 350.0,598.0 C333.3,599.3 315.0,600.5 300.0,600.0 C285.0,599.5 273.3,599.2 260.0,595.0 C246.7,590.8 232.5,583.3 220.0,575.0 C207.5,566.7 196.7,555.0 185.0,545.0 C173.3,535.0 160.8,525.8 150.0,515.0 C139.2,504.2 130.0,492.5 120.0,480.0 C110.0,467.5 100.0,451.7 90.0,440.0 C80.0,428.3 70.0,419.2 60.0,410.0 C50.0,400.8 40.0,395.0 30.0,385.0 C20.0,375.0 13.3,364.2 0.0,350.0 C-13.3,335.8 -41.7,366.7 -50.0,300.0 C-58.3,233.3 -145.8,8.3 -50.0,-50.0 Z" fill="#ff743c"/><path d="M875.0,1000.0 C875.8,990.0 882.5,979.2 890.0,970.0 C897.5,960.8 908.3,951.7 920.0,945.0 C931.7,938.3 946.7,933.3 960.0,930.0 C973.3,926.7 987.5,924.2 1000.0,925.0 C1012.5,925.8 1026.7,930.0 1035.0,935.0 C1043.3,940.0 1050.0,946.7 1050.0,955.0 C1050.0,963.3 1041.7,975.8 1035.0,985.0 C1028.3,994.2 1019.2,1002.5 1010.0,1010.0 C1000.8,1017.5 990.8,1024.2 980.0,1030.0 C969.2,1035.8 956.7,1042.5 945.0,1045.0 C933.3,1047.5 920.0,1047.5 910.0,1045.0 C900.0,1042.5 890.8,1037.5 885.0,1030.0 C879.2,1022.5 874.2,1010.0 875.0,1000.0 Z" fill="#cce385"/></g></g>
<g clip-path="url(#c7)"><g transform="translate(340,940) scale(0.25257)"><rect x="-50" y="-50" width="1400" height="1400" fill="#ffb462"/><path d="M790.0,560.0 C805.0,572.5 816.7,605.0 830.0,620.0 C843.3,635.0 856.7,643.0 870.0,650.0 C883.3,657.0 896.7,662.0 910.0,662.0 C923.3,662.0 935.0,653.7 950.0,650.0 C965.0,646.3 983.3,642.5 1000.0,640.0 C1016.7,637.5 1035.8,640.0 1050.0,635.0 C1064.2,630.0 1080.0,617.5 1085.0,610.0 C1090.0,602.5 1087.5,596.7 1080.0,590.0 C1072.5,583.3 1055.0,576.7 1040.0,570.0 C1025.0,563.3 1006.7,558.3 990.0,550.0 C973.3,541.7 971.7,536.7 940.0,520.0 C908.3,503.3 840.0,461.7 800.0,450.0 C760.0,438.3 710.0,434.2 700.0,450.0 C690.0,465.8 725.0,526.7 740.0,545.0 C755.0,563.3 775.0,547.5 790.0,560.0 Z" fill="#ff743c"/></g></g>
<g clip-path="url(#c8)"><g transform="translate(660,140) scale(0.25257)"><rect x="-50" y="-50" width="1400" height="1400" fill="#cce385"/><path d="M-50.0,-50.0 C-252.5,-24.2 -66.7,78.3 -50.0,105.0 C-33.3,131.7 25.0,110.0 50.0,110.0 C75.0,110.0 83.3,103.3 100.0,105.0 C116.7,106.7 135.8,112.5 150.0,120.0 C164.2,127.5 176.7,136.7 185.0,150.0 C193.3,163.3 195.0,183.3 200.0,200.0 C205.0,216.7 206.7,235.8 215.0,250.0 C223.3,264.2 235.8,276.7 250.0,285.0 C264.2,293.3 283.3,295.8 300.0,300.0 C316.7,304.2 334.2,305.0 350.0,310.0 C365.8,315.0 383.3,330.0 395.0,330.0 C406.7,330.0 416.7,320.0 420.0,310.0 C423.3,300.0 411.7,281.7 415.0,270.0 C418.3,258.3 425.8,247.0 440.0,240.0 C454.2,233.0 482.5,229.3 500.0,228.0 C517.5,226.7 533.3,226.7 545.0,232.0 C556.7,237.3 565.0,249.5 570.0,260.0 C575.0,270.5 577.5,285.0 575.0,295.0 C572.5,305.0 567.5,313.3 555.0,320.0 C542.5,326.7 515.8,329.2 500.0,335.0 C484.2,340.8 469.2,346.7 460.0,355.0 C450.8,363.3 451.7,373.3 445.0,385.0 C438.3,396.7 432.5,415.8 420.0,425.0 C407.5,434.2 390.0,435.8 370.0,440.0 C350.0,444.2 320.0,446.7 300.0,450.0 C280.0,453.3 265.8,454.2 250.0,460.0 C234.2,465.8 215.8,474.2 205.0,485.0 C194.2,495.8 187.5,510.0 185.0,525.0 C182.5,540.0 187.5,558.3 190.0,575.0 C192.5,591.7 195.3,608.8 200.0,625.0 C204.7,641.2 209.7,660.3 218.0,672.0 C226.3,683.7 236.3,692.8 250.0,695.0 C263.7,697.2 285.0,689.5 300.0,685.0 C315.0,680.5 329.2,678.8 340.0,668.0 C350.8,657.2 358.3,636.3 365.0,620.0 C371.7,603.7 373.3,583.3 380.0,570.0 C386.7,556.7 393.3,548.3 405.0,540.0 C416.7,531.7 434.2,525.8 450.0,520.0 C465.8,514.2 481.7,508.3 500.0,505.0 C518.3,501.7 540.0,501.7 560.0,500.0 C580.0,498.3 600.0,499.2 620.0,495.0 C640.0,490.8 662.5,483.3 680.0,475.0 C697.5,466.7 710.8,456.7 725.0,445.0 C739.2,433.3 752.5,408.3 765.0,405.0 C777.5,401.7 789.2,419.2 800.0,425.0 C810.8,430.8 823.3,442.5 830.0,440.0 C836.7,437.5 840.7,421.7 840.0,410.0 C839.3,398.3 830.2,383.3 826.0,370.0 C821.8,356.7 816.8,343.3 815.0,330.0 C813.2,316.7 813.8,303.3 815.0,290.0 C816.2,276.7 819.5,264.2 822.0,250.0 C824.5,235.8 824.5,215.8 830.0,205.0 C835.5,194.2 843.3,190.0 855.0,185.0 C866.7,180.0 882.5,175.0 900.0,175.0 C917.5,175.0 941.7,185.8 960.0,185.0 C978.3,184.2 993.3,175.8 1010.0,170.0 C1026.7,164.2 1045.0,160.0 1060.0,150.0 C1075.0,140.0 1086.7,123.3 1100.0,110.0 C1113.3,96.7 1129.2,81.7 1140.0,70.0 C1150.8,58.3 1160.8,60.0 1165.0,40.0 C1169.2,20.0 1367.5,-35.0 1165.0,-50.0 C962.5,-65.0 152.5,-75.8 -50.0,-50.0 Z" fill="#99fca6"/><path d="M895.0,790.0 C896.7,780.8 906.7,762.5 915.0,750.0 C923.3,737.5 933.3,724.2 945.0,715.0 C956.7,705.8 970.8,699.2 985.0,695.0 C999.2,690.8 1017.5,686.7 1030.0,690.0 C1042.5,693.3 1052.5,703.3 1060.0,715.0 C1067.5,726.7 1069.2,745.8 1075.0,760.0 C1080.8,774.2 1088.3,788.3 1095.0,800.0 C1101.7,811.7 1114.2,821.7 1115.0,830.0 C1115.8,838.3 1109.2,848.3 1100.0,850.0 C1090.8,851.7 1073.3,844.2 1060.0,840.0 C1046.7,835.8 1033.3,829.2 1020.0,825.0 C1006.7,820.8 993.3,817.5 980.0,815.0 C966.7,812.5 952.5,811.7 940.0,810.0 C927.5,808.3 912.5,808.3 905.0,805.0 C897.5,801.7 893.3,799.2 895.0,790.0 Z" fill="#99fca6"/><path d="M1195.0,1300.0 C1170.0,1280.0 1195.0,1206.7 1200.0,1180.0 C1205.0,1153.3 1213.8,1148.3 1225.0,1140.0 C1236.2,1131.7 1246.2,1131.7 1267.0,1130.0 C1287.8,1128.3 1336.2,1101.7 1350.0,1130.0 C1363.8,1158.3 1375.8,1271.7 1350.0,1300.0 C1324.2,1328.3 1220.0,1320.0 1195.0,1300.0 Z" fill="#99fca6"/><path d="M180.0,-50.0 C123.3,-32.5 174.2,35.0 180.0,55.0 C185.8,75.0 201.7,69.2 215.0,70.0 C228.3,70.8 246.7,60.0 260.0,60.0 C273.3,60.0 288.3,63.3 295.0,70.0 C301.7,76.7 301.7,90.0 300.0,100.0 C298.3,110.0 289.2,119.2 285.0,130.0 C280.8,140.8 275.0,155.8 275.0,165.0 C275.0,174.2 275.8,181.7 285.0,185.0 C294.2,188.3 314.2,187.5 330.0,185.0 C345.8,182.5 365.0,175.8 380.0,170.0 C395.0,164.2 408.3,158.3 420.0,150.0 C431.7,141.7 438.3,130.0 450.0,120.0 C461.7,110.0 479.2,98.3 490.0,90.0 C500.8,81.7 510.0,77.5 515.0,70.0 C520.0,62.5 519.2,65.0 520.0,45.0 C520.8,25.0 576.7,-34.2 520.0,-50.0 C463.3,-65.8 236.7,-67.5 180.0,-50.0 Z" fill="#66fcc2"/><path d="M690.0,215.0 C692.5,208.3 702.5,205.0 710.0,205.0 C717.5,205.0 728.3,208.3 735.0,215.0 C741.7,221.7 748.3,235.0 750.0,245.0 C751.7,255.0 748.3,267.5 745.0,275.0 C741.7,282.5 735.8,290.8 730.0,290.0 C724.2,289.2 715.8,277.5 710.0,270.0 C704.2,262.5 698.3,254.2 695.0,245.0 C691.7,235.8 687.5,221.7 690.0,215.0 Z" fill="#66fcc2"/><path d="M562.0,600.0 C564.5,590.8 571.2,581.2 580.0,575.0 C588.8,568.8 603.3,563.0 615.0,563.0 C626.7,563.0 641.2,568.0 650.0,575.0 C658.8,582.0 667.2,595.0 668.0,605.0 C668.8,615.0 663.0,627.5 655.0,635.0 C647.0,642.5 631.7,647.8 620.0,650.0 C608.3,652.2 594.2,651.3 585.0,648.0 C575.8,644.7 568.8,638.0 565.0,630.0 C561.2,622.0 559.5,609.2 562.0,600.0 Z" fill="#ffb462"/><path d="M1400.0,260.0 C1377.8,209.7 1295.3,260.5 1267.0,258.0 C1238.7,255.5 1241.2,249.7 1230.0,245.0 C1218.8,240.3 1209.2,238.3 1200.0,230.0 C1190.8,221.7 1186.7,201.7 1175.0,195.0 C1163.3,188.3 1144.2,189.2 1130.0,190.0 C1115.8,190.8 1103.3,195.8 1090.0,200.0 C1076.7,204.2 1063.3,210.0 1050.0,215.0 C1036.7,220.0 1018.3,222.5 1010.0,230.0 C1001.7,237.5 999.2,250.0 1000.0,260.0 C1000.8,270.0 1015.0,278.3 1015.0,290.0 C1015.0,301.7 1006.7,317.5 1000.0,330.0 C993.3,342.5 984.2,353.3 975.0,365.0 C965.8,376.7 954.2,387.5 945.0,400.0 C935.8,412.5 927.5,426.7 920.0,440.0 C912.5,453.3 901.7,466.7 900.0,480.0 C898.3,493.3 903.3,509.2 910.0,520.0 C916.7,530.8 927.5,540.0 940.0,545.0 C952.5,550.0 970.0,550.8 985.0,550.0 C1000.0,549.2 1014.2,543.3 1030.0,540.0 C1045.8,536.7 1065.0,535.0 1080.0,530.0 C1095.0,525.0 1106.7,511.7 1120.0,510.0 C1133.3,508.3 1146.7,515.8 1160.0,520.0 C1173.3,524.2 1186.7,530.8 1200.0,535.0 C1213.3,539.2 1228.8,541.7 1240.0,545.0 C1251.2,548.3 1240.3,552.5 1267.0,555.0 C1293.7,557.5 1377.8,609.2 1400.0,560.0 C1422.2,510.8 1422.2,310.3 1400.0,260.0 Z" fill="#ffb462"/><path d="M1400.0,315.0 C1377.8,287.7 1296.2,316.8 1267.0,318.0 C1237.8,319.2 1237.8,319.2 1225.0,322.0 C1212.2,324.8 1202.5,327.0 1190.0,335.0 C1177.5,343.0 1161.7,357.5 1150.0,370.0 C1138.3,382.5 1124.2,398.3 1120.0,410.0 C1115.8,421.7 1120.0,431.7 1125.0,440.0 C1130.0,448.3 1139.2,455.3 1150.0,460.0 C1160.8,464.7 1176.7,465.5 1190.0,468.0 C1203.3,470.5 1217.2,473.0 1230.0,475.0 C1242.8,477.0 1238.7,478.8 1267.0,480.0 C1295.3,481.2 1377.8,509.5 1400.0,482.0 C1422.2,454.5 1422.2,342.3 1400.0,315.0 Z" fill="#cce385"/><path d="M1188.0,122.0 C1189.7,119.3 1195.0,117.0 1198.0,118.0 C1201.0,119.0 1206.0,124.3 1206.0,128.0 C1206.0,131.7 1201.0,139.0 1198.0,140.0 C1195.0,141.0 1189.7,137.0 1188.0,134.0 C1186.3,131.0 1186.3,124.7 1188.0,122.0 Z" fill="#ffb462"/><path d="M-50.0,775.0 C-36.7,655.8 11.7,780.8 30.0,785.0 C48.3,789.2 50.0,794.2 60.0,800.0 C70.0,805.8 84.2,811.7 90.0,820.0 C95.8,828.3 97.5,840.0 95.0,850.0 C92.5,860.0 81.7,871.7 75.0,880.0 C68.3,888.3 57.5,890.0 55.0,900.0 C52.5,910.0 54.2,929.2 60.0,940.0 C65.8,950.8 79.2,960.0 90.0,965.0 C100.8,970.0 113.3,966.7 125.0,970.0 C136.7,973.3 149.2,981.7 160.0,985.0 C170.8,988.3 180.8,994.2 190.0,990.0 C199.2,985.8 206.7,969.2 215.0,960.0 C223.3,950.8 229.2,940.8 240.0,935.0 C250.8,929.2 266.7,928.3 280.0,925.0 C293.3,921.7 307.5,920.0 320.0,915.0 C332.5,910.0 344.2,904.2 355.0,895.0 C365.8,885.8 375.8,870.0 385.0,860.0 C394.2,850.0 400.8,842.5 410.0,835.0 C419.2,827.5 428.3,822.5 440.0,815.0 C451.7,807.5 466.7,797.5 480.0,790.0 C493.3,782.5 506.7,777.5 520.0,770.0 C533.3,762.5 546.7,754.2 560.0,745.0 C573.3,735.8 586.7,720.5 600.0,715.0 C613.3,709.5 625.0,710.3 640.0,712.0 C655.0,713.7 674.2,721.2 690.0,725.0 C705.8,728.8 728.3,724.2 735.0,735.0 C741.7,745.8 733.3,772.5 730.0,790.0 C726.7,807.5 719.2,825.0 715.0,840.0 C710.8,855.0 707.5,865.8 705.0,880.0 C702.5,894.2 705.8,913.3 700.0,925.0 C694.2,936.7 681.7,944.2 670.0,950.0 C658.3,955.8 641.7,954.2 630.0,960.0 C618.3,965.8 610.0,976.7 600.0,985.0 C590.0,993.3 580.0,1000.8 570.0,1010.0 C560.0,1019.2 549.2,1029.2 540.0,1040.0 C530.8,1050.8 517.5,1065.8 515.0,1075.0 C512.5,1084.2 517.5,1090.8 525.0,1095.0 C532.5,1099.2 547.5,1100.0 560.0,1100.0 C572.5,1100.0 586.7,1095.0 600.0,1095.0 C613.3,1095.0 626.7,1100.8 640.0,1100.0 C653.3,1099.2 666.7,1095.0 680.0,1090.0 C693.3,1085.0 708.3,1076.7 720.0,1070.0 C731.7,1063.3 738.3,1058.3 750.0,1050.0 C761.7,1041.7 780.0,1030.8 790.0,1020.0 C800.0,1009.2 802.5,994.2 810.0,985.0 C817.5,975.8 823.3,967.5 835.0,965.0 C846.7,962.5 865.8,966.7 880.0,970.0 C894.2,973.3 906.7,979.2 920.0,985.0 C933.3,990.8 946.7,1005.0 960.0,1005.0 C973.3,1005.0 986.7,992.5 1000.0,985.0 C1013.3,977.5 1025.0,966.7 1040.0,960.0 C1055.0,953.3 1075.0,946.7 1090.0,945.0 C1105.0,943.3 1118.3,942.5 1130.0,950.0 C1141.7,957.5 1153.3,975.0 1160.0,990.0 C1166.7,1005.0 1171.7,1023.3 1170.0,1040.0 C1168.3,1056.7 1160.0,1078.3 1150.0,1090.0 C1140.0,1101.7 1121.7,1101.7 1110.0,1110.0 C1098.3,1118.3 1081.7,1128.3 1080.0,1140.0 C1078.3,1151.7 1094.2,1168.3 1100.0,1180.0 C1105.8,1191.7 1116.7,1201.7 1115.0,1210.0 C1113.3,1218.3 1102.5,1229.2 1090.0,1230.0 C1077.5,1230.8 1055.0,1220.0 1040.0,1215.0 C1025.0,1210.0 1010.8,1200.0 1000.0,1200.0 C989.2,1200.0 977.5,1208.3 975.0,1215.0 C972.5,1221.7 979.2,1229.2 985.0,1240.0 C990.8,1250.8 999.2,1236.7 1010.0,1280.0 C1020.8,1323.3 1226.7,1463.3 1050.0,1500.0 C873.3,1536.7 133.3,1620.8 -50.0,1500.0 C-233.3,1379.2 -63.3,894.2 -50.0,775.0 Z" fill="#ffb462"/><path d="M1400.0,695.0 C1377.8,668.3 1292.8,696.7 1267.0,700.0 C1241.2,703.3 1253.7,707.5 1245.0,715.0 C1236.3,722.5 1224.2,736.7 1215.0,745.0 C1205.8,753.3 1192.5,757.5 1190.0,765.0 C1187.5,772.5 1193.3,781.7 1200.0,790.0 C1206.7,798.3 1218.8,805.8 1230.0,815.0 C1241.2,824.2 1238.7,837.5 1267.0,845.0 C1295.3,852.5 1377.8,885.0 1400.0,860.0 C1422.2,835.0 1422.2,721.7 1400.0,695.0 Z" fill="#ffb462"/></g></g>
<g clip-path="url(#c9)"><g transform="translate(660,460) scale(0.25257)"><rect x="-50" y="-50" width="1400" height="1400" fill="#cce385"/><path d="M-50.0,-50.0 C96.7,-163.3 684.2,-61.7 830.0,-50.0 C975.8,-38.3 830.0,2.5 825.0,20.0 C820.0,37.5 809.2,46.7 800.0,55.0 C790.8,63.3 781.7,68.3 770.0,70.0 C758.3,71.7 743.3,65.0 730.0,65.0 C716.7,65.0 703.3,66.7 690.0,70.0 C676.7,73.3 662.5,80.8 650.0,85.0 C637.5,89.2 626.7,90.8 615.0,95.0 C603.3,99.2 592.5,103.3 580.0,110.0 C567.5,116.7 551.7,126.7 540.0,135.0 C528.3,143.3 518.3,150.0 510.0,160.0 C501.7,170.0 496.7,182.5 490.0,195.0 C483.3,207.5 471.7,223.3 470.0,235.0 C468.3,246.7 473.3,257.5 480.0,265.0 C486.7,272.5 496.7,276.7 510.0,280.0 C523.3,283.3 545.0,283.3 560.0,285.0 C575.0,286.7 585.0,288.3 600.0,290.0 C615.0,291.7 633.3,293.3 650.0,295.0 C666.7,296.7 683.3,297.5 700.0,300.0 C716.7,302.5 735.0,306.7 750.0,310.0 C765.0,313.3 776.7,321.7 790.0,320.0 C803.3,318.3 820.0,308.3 830.0,300.0 C840.0,291.7 841.7,278.3 850.0,270.0 C858.3,261.7 868.3,255.0 880.0,250.0 C891.7,245.0 906.7,241.7 920.0,240.0 C933.3,238.3 946.7,238.3 960.0,240.0 C973.3,241.7 988.3,245.8 1000.0,250.0 C1011.7,254.2 1020.0,260.8 1030.0,265.0 C1040.0,269.2 1050.8,276.7 1060.0,275.0 C1069.2,273.3 1079.2,263.3 1085.0,255.0 C1090.8,246.7 1090.8,234.2 1095.0,225.0 C1099.2,215.8 1102.5,206.7 1110.0,200.0 C1117.5,193.3 1128.3,190.0 1140.0,185.0 C1151.7,180.0 1167.2,174.2 1180.0,170.0 C1192.8,165.8 1202.5,160.8 1217.0,160.0 C1231.5,159.2 1236.5,164.2 1267.0,165.0 C1297.5,165.8 1377.8,119.2 1400.0,165.0 C1422.2,210.8 1422.2,393.3 1400.0,440.0 C1377.8,486.7 1295.3,440.0 1267.0,445.0 C1238.7,450.0 1241.2,461.7 1230.0,470.0 C1218.8,478.3 1210.0,485.8 1200.0,495.0 C1190.0,504.2 1178.3,515.0 1170.0,525.0 C1161.7,535.0 1158.3,547.5 1150.0,555.0 C1141.7,562.5 1131.7,567.2 1120.0,570.0 C1108.3,572.8 1093.3,572.0 1080.0,572.0 C1066.7,572.0 1053.3,569.5 1040.0,570.0 C1026.7,570.5 1013.3,575.0 1000.0,575.0 C986.7,575.0 973.3,570.5 960.0,570.0 C946.7,569.5 933.3,572.0 920.0,572.0 C906.7,572.0 893.3,571.2 880.0,570.0 C866.7,568.8 851.7,568.3 840.0,565.0 C828.3,561.7 820.0,555.8 810.0,550.0 C800.0,544.2 790.0,536.7 780.0,530.0 C770.0,523.3 760.0,516.7 750.0,510.0 C740.0,503.3 730.0,496.7 720.0,490.0 C710.0,483.3 700.0,475.8 690.0,470.0 C680.0,464.2 670.0,459.2 660.0,455.0 C650.0,450.8 640.0,447.5 630.0,445.0 C620.0,442.5 610.0,442.5 600.0,440.0 C590.0,437.5 580.0,431.3 570.0,430.0 C560.0,428.7 551.7,430.3 540.0,432.0 C528.3,433.7 513.3,437.8 500.0,440.0 C486.7,442.2 473.3,444.2 460.0,445.0 C446.7,445.8 433.3,444.2 420.0,445.0 C406.7,445.8 393.3,448.3 380.0,450.0 C366.7,451.7 351.7,451.7 340.0,455.0 C328.3,458.3 318.3,464.2 310.0,470.0 C301.7,475.8 296.7,482.5 290.0,490.0 C283.3,497.5 278.3,506.7 270.0,515.0 C261.7,523.3 250.0,532.5 240.0,540.0 C230.0,547.5 220.0,552.5 210.0,560.0 C200.0,567.5 190.0,577.5 180.0,585.0 C170.0,592.5 158.3,597.5 150.0,605.0 C141.7,612.5 163.3,625.8 130.0,630.0 C96.7,634.2 -20.0,743.3 -50.0,630.0 C-80.0,516.7 -196.7,63.3 -50.0,-50.0 Z" fill="#ffb462"/><path d="M-50.0,62.0 C-38.3,31.2 0.0,59.5 20.0,60.0 C40.0,60.5 55.0,60.8 70.0,65.0 C85.0,69.2 100.0,75.8 110.0,85.0 C120.0,94.2 123.3,109.2 130.0,120.0 C136.7,130.8 138.3,141.7 150.0,150.0 C161.7,158.3 181.7,165.8 200.0,170.0 C218.3,174.2 243.3,176.7 260.0,175.0 C276.7,173.3 286.7,163.8 300.0,160.0 C313.3,156.2 328.3,151.2 340.0,152.0 C351.7,152.8 363.3,157.8 370.0,165.0 C376.7,172.2 380.0,184.2 380.0,195.0 C380.0,205.8 376.7,221.7 370.0,230.0 C363.3,238.3 351.7,240.8 340.0,245.0 C328.3,249.2 313.3,251.7 300.0,255.0 C286.7,258.3 273.3,259.2 260.0,265.0 C246.7,270.8 231.7,281.7 220.0,290.0 C208.3,298.3 201.7,308.3 190.0,315.0 C178.3,321.7 162.5,329.2 150.0,330.0 C137.5,330.8 119.2,325.8 115.0,320.0 C110.8,314.2 119.2,303.3 125.0,295.0 C130.8,286.7 143.3,278.3 150.0,270.0 C156.7,261.7 165.0,252.0 165.0,245.0 C165.0,238.0 159.2,231.3 150.0,228.0 C140.8,224.7 123.3,227.2 110.0,225.0 C96.7,222.8 83.3,215.0 70.0,215.0 C56.7,215.0 41.7,220.8 30.0,225.0 C18.3,229.2 13.3,236.7 0.0,240.0 C-13.3,243.3 -41.7,274.7 -50.0,245.0 C-58.3,215.3 -61.7,92.8 -50.0,62.0 Z" fill="#cce385"/><path d="M-50.0,620.0 C-20.8,583.5 98.0,626.2 125.0,628.0 C152.0,629.8 115.2,621.0 112.0,631.0 C108.8,641.0 111.2,672.3 106.0,688.0 C100.8,703.7 89.3,713.7 81.0,725.0 C72.7,736.3 63.3,746.7 56.0,756.0 C48.7,765.3 40.2,771.5 37.0,781.0 C33.8,790.5 35.8,803.5 37.0,813.0 C38.2,822.5 47.0,832.8 44.0,838.0 C41.0,843.2 34.7,842.5 19.0,844.0 C3.3,845.5 -38.5,884.3 -50.0,847.0 C-61.5,809.7 -79.2,656.5 -50.0,620.0 Z" fill="#ffb462"/><path d="M-50.0,1000.0 C-43.7,976.0 -24.5,999.0 -12.0,1000.0 C0.5,1001.0 13.7,1007.0 25.0,1006.0 C36.3,1005.0 46.7,1000.2 56.0,994.0 C65.3,987.8 72.7,977.3 81.0,969.0 C89.3,960.7 98.7,952.3 106.0,944.0 C113.3,935.7 120.8,927.3 125.0,919.0 C129.2,910.7 131.5,903.3 131.0,894.0 C130.5,884.7 124.0,871.8 122.0,863.0 C120.0,854.2 115.3,848.3 119.0,841.0 C122.7,833.7 135.2,821.2 144.0,819.0 C152.8,816.8 163.2,822.3 172.0,828.0 C180.8,833.7 189.8,844.2 197.0,853.0 C204.2,861.8 208.8,871.0 215.0,881.0 C221.2,891.0 229.5,902.5 234.0,913.0 C238.5,923.5 242.5,933.7 242.0,944.0 C241.5,954.3 235.5,966.7 231.0,975.0 C226.5,983.3 219.2,986.7 215.0,994.0 C210.8,1001.3 207.0,1009.7 206.0,1019.0 C205.0,1028.3 205.8,1040.7 209.0,1050.0 C212.2,1059.3 219.2,1066.7 225.0,1075.0 C230.8,1083.3 237.3,1092.7 244.0,1100.0 C250.7,1107.3 258.8,1113.3 265.0,1119.0 C271.2,1124.7 279.3,1127.8 281.0,1134.0 C282.7,1140.2 276.5,1147.7 275.0,1156.0 C273.5,1164.3 274.2,1175.7 272.0,1184.0 C269.8,1192.3 266.7,1204.3 262.0,1206.0 C257.3,1207.7 251.2,1199.2 244.0,1194.0 C236.8,1188.8 227.3,1180.8 219.0,1175.0 C210.7,1169.2 201.8,1162.7 194.0,1159.0 C186.2,1155.3 177.3,1155.5 172.0,1153.0 C166.7,1150.5 161.0,1148.7 162.0,1144.0 C163.0,1139.3 175.8,1131.8 178.0,1125.0 C180.2,1118.2 178.7,1109.2 175.0,1103.0 C171.3,1096.8 163.3,1092.2 156.0,1088.0 C148.7,1083.8 139.3,1080.2 131.0,1078.0 C122.7,1075.8 114.3,1073.3 106.0,1075.0 C97.7,1076.7 89.3,1082.8 81.0,1088.0 C72.7,1093.2 63.3,1098.8 56.0,1106.0 C48.7,1113.2 43.2,1125.7 37.0,1131.0 C30.8,1136.3 27.2,1135.8 19.0,1138.0 C10.8,1140.2 -0.5,1143.0 -12.0,1144.0 C-23.5,1145.0 -43.7,1168.0 -50.0,1144.0 C-56.3,1120.0 -56.3,1024.0 -50.0,1000.0 Z" fill="#ffb462"/><path d="M-50.0,1175.0 C-37.5,1138.0 7.3,1176.5 25.0,1178.0 C42.7,1179.5 47.7,1179.8 56.0,1184.0 C64.3,1188.2 68.7,1197.2 75.0,1203.0 C81.3,1208.8 86.7,1215.3 94.0,1219.0 C101.3,1222.7 112.3,1221.8 119.0,1225.0 C125.7,1228.2 128.8,1232.8 134.0,1238.0 C139.2,1243.2 146.8,1248.8 150.0,1256.0 C153.2,1263.2 153.0,1257.0 153.0,1281.0 C153.0,1305.0 183.8,1380.2 150.0,1400.0 C116.2,1419.8 -16.7,1437.5 -50.0,1400.0 C-83.3,1362.5 -62.5,1212.0 -50.0,1175.0 Z" fill="#ffb462"/><path d="M480.0,1400.0 C333.3,1375.0 508.3,1283.3 520.0,1250.0 C531.7,1216.7 540.0,1216.7 550.0,1200.0 C560.0,1183.3 571.7,1164.2 580.0,1150.0 C588.3,1135.8 592.5,1124.2 600.0,1115.0 C607.5,1105.8 616.0,1100.0 625.0,1095.0 C634.0,1090.0 645.0,1084.5 654.0,1085.0 C663.0,1085.5 669.7,1093.8 679.0,1098.0 C688.3,1102.2 699.5,1106.8 710.0,1110.0 C720.5,1113.2 732.5,1112.8 742.0,1117.0 C751.5,1121.2 759.8,1128.8 767.0,1135.0 C774.2,1141.2 778.8,1147.7 785.0,1154.0 C791.2,1160.3 796.7,1167.8 804.0,1173.0 C811.3,1178.2 819.7,1183.5 829.0,1185.0 C838.3,1186.5 849.5,1184.0 860.0,1182.0 C870.5,1180.0 882.5,1177.7 892.0,1173.0 C901.5,1168.3 908.7,1161.3 917.0,1154.0 C925.3,1146.7 933.7,1137.3 942.0,1129.0 C950.3,1120.7 958.7,1111.3 967.0,1104.0 C975.3,1096.7 983.7,1087.0 992.0,1085.0 C1000.3,1083.0 1009.8,1087.8 1017.0,1092.0 C1024.2,1096.2 1028.8,1104.8 1035.0,1110.0 C1041.2,1115.2 1046.7,1121.8 1054.0,1123.0 C1061.3,1124.2 1070.7,1120.2 1079.0,1117.0 C1087.3,1113.8 1099.8,1109.3 1104.0,1104.0 C1108.2,1098.7 1107.2,1091.2 1104.0,1085.0 C1100.8,1078.8 1093.3,1071.7 1085.0,1067.0 C1076.7,1062.3 1063.3,1060.2 1054.0,1057.0 C1044.7,1053.8 1034.2,1052.7 1029.0,1048.0 C1023.8,1043.3 1023.7,1035.3 1023.0,1029.0 C1022.3,1022.7 1018.8,1017.3 1025.0,1010.0 C1031.2,1002.7 1047.5,988.3 1060.0,985.0 C1072.5,981.7 1086.7,986.7 1100.0,990.0 C1113.3,993.3 1126.7,1000.8 1140.0,1005.0 C1153.3,1009.2 1166.7,1012.5 1180.0,1015.0 C1193.3,1017.5 1205.5,1019.2 1220.0,1020.0 C1234.5,1020.8 1237.0,1020.0 1267.0,1020.0 C1297.0,1020.0 1377.8,956.7 1400.0,1020.0 C1422.2,1083.3 1553.3,1336.7 1400.0,1400.0 C1246.7,1463.3 626.7,1425.0 480.0,1400.0 Z" fill="#ffb462"/><path d="M667.0,1229.0 C668.0,1222.2 670.8,1210.5 676.0,1204.0 C681.2,1197.5 689.2,1192.5 698.0,1190.0 C706.8,1187.5 719.7,1187.7 729.0,1189.0 C738.3,1190.3 747.7,1193.3 754.0,1198.0 C760.3,1202.7 766.0,1210.2 767.0,1217.0 C768.0,1223.8 764.2,1232.8 760.0,1239.0 C755.8,1245.2 750.3,1250.2 742.0,1254.0 C733.7,1257.8 719.5,1261.5 710.0,1262.0 C700.5,1262.5 691.7,1259.8 685.0,1257.0 C678.3,1254.2 673.0,1249.7 670.0,1245.0 C667.0,1240.3 666.0,1235.8 667.0,1229.0 Z" fill="#cce385"/><path d="M930.0,1230.0 C930.0,1195.0 940.0,1200.0 950.0,1190.0 C960.0,1180.0 975.0,1172.5 990.0,1170.0 C1005.0,1167.5 1023.3,1171.7 1040.0,1175.0 C1056.7,1178.3 1075.0,1184.2 1090.0,1190.0 C1105.0,1195.8 1120.0,1201.7 1130.0,1210.0 C1140.0,1218.3 1148.3,1230.5 1150.0,1240.0 C1151.7,1249.5 1148.3,1240.3 1140.0,1267.0 C1131.7,1293.7 1131.7,1377.8 1100.0,1400.0 C1068.3,1422.2 978.3,1428.3 950.0,1400.0 C921.7,1371.7 930.0,1265.0 930.0,1230.0 Z" fill="#ff743c"/><path d="M530.0,600.0 C535.0,590.0 537.5,578.3 545.0,570.0 C552.5,561.7 564.2,552.5 575.0,550.0 C585.8,547.5 597.5,551.7 610.0,555.0 C622.5,558.3 635.0,565.0 650.0,570.0 C665.0,575.0 685.0,580.0 700.0,585.0 C715.0,590.0 730.8,590.8 740.0,600.0 C749.2,609.2 749.2,628.3 755.0,640.0 C760.8,651.7 770.8,660.0 775.0,670.0 C779.2,680.0 784.2,690.0 780.0,700.0 C775.8,710.0 760.0,720.8 750.0,730.0 C740.0,739.2 725.8,745.0 720.0,755.0 C714.2,765.0 712.5,779.2 715.0,790.0 C717.5,800.8 726.7,810.0 735.0,820.0 C743.3,830.0 756.7,840.0 765.0,850.0 C773.3,860.0 780.0,869.2 785.0,880.0 C790.0,890.8 795.0,903.3 795.0,915.0 C795.0,926.7 785.8,937.5 785.0,950.0 C784.2,962.5 790.8,976.7 790.0,990.0 C789.2,1003.3 785.0,1018.3 780.0,1030.0 C775.0,1041.7 770.0,1054.2 760.0,1060.0 C750.0,1065.8 733.3,1065.8 720.0,1065.0 C706.7,1064.2 693.3,1055.8 680.0,1055.0 C666.7,1054.2 651.7,1056.7 640.0,1060.0 C628.3,1063.3 620.0,1070.8 610.0,1075.0 C600.0,1079.2 589.2,1081.7 580.0,1085.0 C570.8,1088.3 563.3,1092.5 555.0,1095.0 C546.7,1097.5 539.2,1098.3 530.0,1100.0 C520.8,1101.7 510.0,1103.3 500.0,1105.0 C490.0,1106.7 480.0,1104.2 470.0,1110.0 C460.0,1115.8 448.3,1130.8 440.0,1140.0 C431.7,1149.2 426.7,1157.5 420.0,1165.0 C413.3,1172.5 407.5,1180.0 400.0,1185.0 C392.5,1190.0 380.8,1196.7 375.0,1195.0 C369.2,1193.3 362.5,1182.5 365.0,1175.0 C367.5,1167.5 382.5,1158.3 390.0,1150.0 C397.5,1141.7 410.0,1131.7 410.0,1125.0 C410.0,1118.3 400.0,1113.3 390.0,1110.0 C380.0,1106.7 363.3,1108.3 350.0,1105.0 C336.7,1101.7 321.7,1096.7 310.0,1090.0 C298.3,1083.3 285.8,1075.0 280.0,1065.0 C274.2,1055.0 273.3,1040.8 275.0,1030.0 C276.7,1019.2 282.5,1008.3 290.0,1000.0 C297.5,991.7 308.3,985.0 320.0,980.0 C331.7,975.0 346.7,972.5 360.0,970.0 C373.3,967.5 386.7,968.3 400.0,965.0 C413.3,961.7 426.7,954.2 440.0,950.0 C453.3,945.8 466.7,942.5 480.0,940.0 C493.3,937.5 508.3,938.3 520.0,935.0 C531.7,931.7 545.8,927.5 550.0,920.0 C554.2,912.5 551.7,896.7 545.0,890.0 C538.3,883.3 522.5,882.5 510.0,880.0 C497.5,877.5 483.3,876.7 470.0,875.0 C456.7,873.3 441.7,872.5 430.0,870.0 C418.3,867.5 407.5,865.8 400.0,860.0 C392.5,854.2 385.8,844.2 385.0,835.0 C384.2,825.8 395.0,815.0 395.0,805.0 C395.0,795.0 387.8,785.0 385.0,775.0 C382.2,765.0 377.2,755.8 378.0,745.0 C378.8,734.2 384.7,720.8 390.0,710.0 C395.3,699.2 401.7,689.2 410.0,680.0 C418.3,670.8 428.3,660.8 440.0,655.0 C451.7,649.2 467.5,649.2 480.0,645.0 C492.5,640.8 506.7,637.5 515.0,630.0 C523.3,622.5 525.0,610.0 530.0,600.0 Z" fill="#99fca6"/><path d="M885.0,110.0 C884.2,103.0 886.7,90.0 890.0,80.0 C893.3,70.0 899.2,58.3 905.0,50.0 C910.8,41.7 916.7,34.7 925.0,30.0 C933.3,25.3 948.3,20.3 955.0,22.0 C961.7,23.7 966.7,32.8 965.0,40.0 C963.3,47.2 951.7,57.5 945.0,65.0 C938.3,72.5 931.7,77.5 925.0,85.0 C918.3,92.5 910.0,103.8 905.0,110.0 C900.0,116.2 898.3,122.0 895.0,122.0 C891.7,122.0 885.8,117.0 885.0,110.0 Z" fill="#99fca6"/><path d="M945.0,830.0 C945.8,823.8 953.3,808.0 960.0,805.0 C966.7,802.0 979.2,808.7 985.0,812.0 C990.8,815.3 996.7,820.3 995.0,825.0 C993.3,829.7 981.7,837.2 975.0,840.0 C968.3,842.8 960.0,843.7 955.0,842.0 C950.0,840.3 944.2,836.2 945.0,830.0 Z" fill="#99fca6"/><path d="M362.0,1060.0 C362.0,1054.2 387.0,1046.7 400.0,1040.0 C413.0,1033.3 428.3,1025.0 440.0,1020.0 C451.7,1015.0 460.0,1010.8 470.0,1010.0 C480.0,1009.2 491.7,1010.8 500.0,1015.0 C508.3,1019.2 518.3,1027.5 520.0,1035.0 C521.7,1042.5 515.0,1051.7 510.0,1060.0 C505.0,1068.3 498.3,1078.3 490.0,1085.0 C481.7,1091.7 470.0,1099.2 460.0,1100.0 C450.0,1100.8 440.0,1094.2 430.0,1090.0 C420.0,1085.8 411.3,1080.0 400.0,1075.0 C388.7,1070.0 362.0,1065.8 362.0,1060.0 Z" fill="#66fcc2"/><path d="M630.0,735.0 C633.3,729.5 647.5,722.0 655.0,722.0 C662.5,722.0 672.5,727.8 675.0,735.0 C677.5,742.2 674.2,758.3 670.0,765.0 C665.8,771.7 655.8,776.7 650.0,775.0 C644.2,773.3 638.3,761.7 635.0,755.0 C631.7,748.3 626.7,740.5 630.0,735.0 Z" fill="#66fcc2"/><path d="M488.0,712.0 C487.7,707.0 496.0,699.5 500.0,700.0 C504.0,700.5 511.7,710.0 512.0,715.0 C512.3,720.0 506.0,730.5 502.0,730.0 C498.0,729.5 488.3,717.0 488.0,712.0 Z" fill="#66fcc2"/></g></g>
<g clip-path="url(#c10)"><g transform="translate(660,780) scale(0.25257)"><rect x="-50" y="-50" width="1400" height="1400" fill="#ffb462"/><path d="M150.0,-50.0 C120.0,-38.3 147.5,3.3 150.0,20.0 C152.5,36.7 156.7,43.0 165.0,50.0 C173.3,57.0 187.5,62.0 200.0,62.0 C212.5,62.0 226.7,55.3 240.0,50.0 C253.3,44.7 266.7,37.5 280.0,30.0 C293.3,22.5 311.7,18.3 320.0,5.0 C328.3,-8.3 358.3,-40.8 330.0,-50.0 C301.7,-59.2 180.0,-61.7 150.0,-50.0 Z" fill="#cce385"/><path d="M-50.0,560.0 C-41.7,513.0 -15.0,563.0 0.0,568.0 C15.0,573.0 25.0,583.0 40.0,590.0 C55.0,597.0 75.0,601.7 90.0,610.0 C105.0,618.3 119.2,628.3 130.0,640.0 C140.8,651.7 145.0,670.0 155.0,680.0 C165.0,690.0 180.0,691.7 190.0,700.0 C200.0,708.3 207.5,716.7 215.0,730.0 C222.5,743.3 230.8,763.3 235.0,780.0 C239.2,796.7 240.0,813.3 240.0,830.0 C240.0,846.7 234.2,863.3 235.0,880.0 C235.8,896.7 247.5,915.8 245.0,930.0 C242.5,944.2 230.8,957.5 220.0,965.0 C209.2,972.5 191.7,970.8 180.0,975.0 C168.3,979.2 159.2,990.0 150.0,990.0 C140.8,990.0 132.5,983.3 125.0,975.0 C117.5,966.7 112.5,950.8 105.0,940.0 C97.5,929.2 89.2,920.0 80.0,910.0 C70.8,900.0 60.0,888.3 50.0,880.0 C40.0,871.7 36.7,865.0 20.0,860.0 C3.3,855.0 -38.3,900.0 -50.0,850.0 C-61.7,800.0 -58.3,607.0 -50.0,560.0 Z" fill="#ff743c"/><path d="M365.0,240.0 C365.8,233.7 376.7,224.2 385.0,220.0 C393.3,215.8 405.0,213.7 415.0,215.0 C425.0,216.3 437.5,222.2 445.0,228.0 C452.5,233.8 460.8,243.8 460.0,250.0 C459.2,256.2 449.2,263.0 440.0,265.0 C430.8,267.0 415.0,263.2 405.0,262.0 C395.0,260.8 386.7,261.7 380.0,258.0 C373.3,254.3 364.2,246.3 365.0,240.0 Z" fill="#ff743c"/><path d="M405.0,735.0 C406.7,728.7 412.5,716.7 420.0,710.0 C427.5,703.3 438.3,697.5 450.0,695.0 C461.7,692.5 478.3,692.5 490.0,695.0 C501.7,697.5 510.0,705.0 520.0,710.0 C530.0,715.0 538.3,722.0 550.0,725.0 C561.7,728.0 576.7,726.3 590.0,728.0 C603.3,729.7 619.2,730.5 630.0,735.0 C640.8,739.5 652.5,747.8 655.0,755.0 C657.5,762.2 652.5,773.8 645.0,778.0 C637.5,782.2 622.5,781.3 610.0,780.0 C597.5,778.7 582.5,774.2 570.0,770.0 C557.5,765.8 545.8,760.0 535.0,755.0 C524.2,750.0 515.8,741.2 505.0,740.0 C494.2,738.8 481.7,746.3 470.0,748.0 C458.3,749.7 445.0,750.0 435.0,750.0 C425.0,750.0 415.0,750.5 410.0,748.0 C405.0,745.5 403.3,741.3 405.0,735.0 Z" fill="#ff743c"/><path d="M929.0,-50.0 C892.2,-46.8 926.8,-38.3 929.0,-31.0 C931.2,-23.7 933.7,-15.3 942.0,-6.0 C950.3,3.3 966.5,14.7 979.0,25.0 C991.5,35.3 1004.5,46.7 1017.0,56.0 C1029.5,65.3 1041.5,73.7 1054.0,81.0 C1066.5,88.3 1081.5,92.7 1092.0,100.0 C1102.5,107.3 1107.7,115.7 1117.0,125.0 C1126.3,134.3 1137.7,146.7 1148.0,156.0 C1158.3,165.3 1167.5,171.7 1179.0,181.0 C1190.5,190.3 1206.5,201.5 1217.0,212.0 C1227.5,222.5 1232.7,233.5 1242.0,244.0 C1251.3,254.5 1246.7,252.3 1273.0,275.0 C1299.3,297.7 1378.8,387.5 1400.0,380.0 C1421.2,372.5 1418.0,266.3 1400.0,230.0 C1382.0,193.7 1316.3,178.5 1292.0,162.0 C1267.7,145.5 1266.5,141.3 1254.0,131.0 C1241.5,120.7 1229.5,109.3 1217.0,100.0 C1204.5,90.7 1191.5,82.3 1179.0,75.0 C1166.5,67.7 1152.3,63.3 1142.0,56.0 C1131.7,48.7 1119.2,39.3 1117.0,31.0 C1114.8,22.7 1124.8,15.3 1129.0,6.0 C1133.2,-3.3 1138.5,-15.7 1142.0,-25.0 C1145.5,-34.3 1185.5,-45.8 1150.0,-50.0 C1114.5,-54.2 965.8,-53.2 929.0,-50.0 Z" fill="#ff743c"/><path d="M1267.0,1010.0 C1239.5,1013.3 1246.2,1021.7 1235.0,1030.0 C1223.8,1038.3 1210.0,1049.2 1200.0,1060.0 C1190.0,1070.8 1180.0,1083.3 1175.0,1095.0 C1170.0,1106.7 1168.3,1117.5 1170.0,1130.0 C1171.7,1142.5 1180.8,1156.7 1185.0,1170.0 C1189.2,1183.3 1194.2,1198.3 1195.0,1210.0 C1195.8,1221.7 1195.8,1230.5 1190.0,1240.0 C1184.2,1249.5 1168.3,1240.3 1160.0,1267.0 C1151.7,1293.7 1100.0,1377.8 1140.0,1400.0 C1180.0,1422.2 1356.7,1465.0 1400.0,1400.0 C1443.3,1335.0 1422.2,1075.0 1400.0,1010.0 C1377.8,945.0 1294.5,1006.7 1267.0,1010.0 Z" fill="#ff743c"/></g></g>
<g clip-path="url(#c11)"><g transform="translate(660,940) scale(0.25257)"><rect x="-50" y="-50" width="1400" height="1400" fill="#ffb462"/><path d="M1215.0,590.0 C1208.3,616.7 1199.2,603.3 1190.0,610.0 C1180.8,616.7 1169.2,621.7 1160.0,630.0 C1150.8,638.3 1142.5,648.3 1135.0,660.0 C1127.5,671.7 1124.2,688.3 1115.0,700.0 C1105.8,711.7 1090.8,720.0 1080.0,730.0 C1069.2,740.0 1053.3,750.0 1050.0,760.0 C1046.7,770.0 1053.3,783.3 1060.0,790.0 C1066.7,796.7 1078.3,799.2 1090.0,800.0 C1101.7,800.8 1116.7,796.7 1130.0,795.0 C1143.3,793.3 1158.3,789.2 1170.0,790.0 C1181.7,790.8 1190.0,795.0 1200.0,800.0 C1210.0,805.0 1221.7,813.3 1230.0,820.0 C1238.3,826.7 1243.8,834.2 1250.0,840.0 C1256.2,845.8 1242.0,845.0 1267.0,855.0 C1292.0,865.0 1377.8,967.5 1400.0,900.0 C1422.2,832.5 1428.3,525.0 1400.0,450.0 C1371.7,375.0 1260.8,426.7 1230.0,450.0 C1199.2,473.3 1221.7,563.3 1215.0,590.0 Z" fill="#ff743c"/></g></g>
<g clip-path="url(#c26)"><g transform="translate(980,140) scale(0.25257)"><rect x="-50" y="-50" width="1400" height="1400" fill="#cce385"/><path d="M125.0,130.0 C125.8,115.0 130.8,92.5 140.0,80.0 C149.2,67.5 161.7,59.7 180.0,55.0 C198.3,50.3 226.7,52.0 250.0,52.0 C273.3,52.0 295.0,52.8 320.0,55.0 C345.0,57.2 373.3,61.7 400.0,65.0 C426.7,68.3 453.3,71.7 480.0,75.0 C506.7,78.3 533.3,80.8 560.0,85.0 C586.7,89.2 613.3,95.8 640.0,100.0 C666.7,104.2 693.3,107.5 720.0,110.0 C746.7,112.5 773.3,114.2 800.0,115.0 C826.7,115.8 855.0,116.7 880.0,115.0 C905.0,113.3 926.7,110.0 950.0,105.0 C973.3,100.0 998.3,91.7 1020.0,85.0 C1041.7,78.3 1063.3,69.2 1080.0,65.0 C1096.7,60.8 1109.2,57.5 1120.0,60.0 C1130.8,62.5 1140.3,68.3 1145.0,80.0 C1149.7,91.7 1149.7,111.7 1148.0,130.0 C1146.3,148.3 1140.5,170.0 1135.0,190.0 C1129.5,210.0 1120.8,230.0 1115.0,250.0 C1109.2,270.0 1105.0,290.0 1100.0,310.0 C1095.0,330.0 1089.2,351.7 1085.0,370.0 C1080.8,388.3 1080.8,405.0 1075.0,420.0 C1069.2,435.0 1062.5,449.2 1050.0,460.0 C1037.5,470.8 1018.3,480.0 1000.0,485.0 C981.7,490.0 960.0,490.8 940.0,490.0 C920.0,489.2 900.0,484.2 880.0,480.0 C860.0,475.8 840.0,470.8 820.0,465.0 C800.0,459.2 780.0,450.8 760.0,445.0 C740.0,439.2 720.0,435.0 700.0,430.0 C680.0,425.0 660.0,420.0 640.0,415.0 C620.0,410.0 600.0,405.0 580.0,400.0 C560.0,395.0 540.0,390.8 520.0,385.0 C500.0,379.2 480.0,371.7 460.0,365.0 C440.0,358.3 420.0,352.5 400.0,345.0 C380.0,337.5 360.0,328.3 340.0,320.0 C320.0,311.7 298.3,303.3 280.0,295.0 C261.7,286.7 245.0,279.2 230.0,270.0 C215.0,260.8 201.7,250.8 190.0,240.0 C178.3,229.2 169.2,216.7 160.0,205.0 C150.8,193.3 140.8,182.5 135.0,170.0 C129.2,157.5 124.2,145.0 125.0,130.0 Z" fill="#99fca6"/><path d="M-50.0,265.0 C-41.7,256.7 -12.5,266.7 0.0,270.0 C12.5,273.3 17.5,280.0 25.0,285.0 C32.5,290.0 45.8,295.8 45.0,300.0 C44.2,304.2 27.5,307.0 20.0,310.0 C12.5,313.0 11.7,316.3 0.0,318.0 C-11.7,319.7 -41.7,328.8 -50.0,320.0 C-58.3,311.2 -58.3,273.3 -50.0,265.0 Z" fill="#ffb462"/><path d="M240.0,402.0 C246.7,400.3 271.7,402.0 290.0,405.0 C308.3,408.0 330.0,413.3 350.0,420.0 C370.0,426.7 390.0,435.8 410.0,445.0 C430.0,454.2 450.0,465.0 470.0,475.0 C490.0,485.0 510.0,495.0 530.0,505.0 C550.0,515.0 570.0,527.5 590.0,535.0 C610.0,542.5 628.3,544.2 650.0,550.0 C671.7,555.8 696.7,563.3 720.0,570.0 C743.3,576.7 768.3,583.3 790.0,590.0 C811.7,596.7 830.0,603.7 850.0,610.0 C870.0,616.3 888.3,623.0 910.0,628.0 C931.7,633.0 958.3,638.0 980.0,640.0 C1001.7,642.0 1023.3,642.5 1040.0,640.0 C1056.7,637.5 1068.3,630.8 1080.0,625.0 C1091.7,619.2 1098.3,610.8 1110.0,605.0 C1121.7,599.2 1136.7,593.3 1150.0,590.0 C1163.3,586.7 1148.3,586.7 1190.0,585.0 C1231.7,583.3 1365.0,522.5 1400.0,580.0 C1435.0,637.5 1435.0,872.5 1400.0,930.0 C1365.0,987.5 1231.7,925.8 1190.0,925.0 C1148.3,924.2 1165.0,927.5 1150.0,925.0 C1135.0,922.5 1118.3,917.5 1100.0,910.0 C1081.7,902.5 1060.0,893.3 1040.0,880.0 C1020.0,866.7 1000.0,846.7 980.0,830.0 C960.0,813.3 941.7,796.7 920.0,780.0 C898.3,763.3 873.3,745.0 850.0,730.0 C826.7,715.0 801.7,700.3 780.0,690.0 C758.3,679.7 740.0,674.7 720.0,668.0 C700.0,661.3 680.0,657.2 660.0,650.0 C640.0,642.8 620.0,634.2 600.0,625.0 C580.0,615.8 560.0,605.8 540.0,595.0 C520.0,584.2 500.0,571.7 480.0,560.0 C460.0,548.3 438.3,535.8 420.0,525.0 C401.7,514.2 386.7,504.5 370.0,495.0 C353.3,485.5 335.8,477.2 320.0,468.0 C304.2,458.8 286.7,448.8 275.0,440.0 C263.3,431.2 255.8,421.3 250.0,415.0 C244.2,408.7 233.3,403.7 240.0,402.0 Z" fill="#ffb462"/><path d="M-50.0,705.0 C-41.7,572.2 -15.2,705.0 0.0,703.0 C15.2,701.0 27.5,691.5 41.0,693.0 C54.5,694.5 67.5,705.5 81.0,712.0 C94.5,718.5 108.5,724.7 122.0,732.0 C135.5,739.3 150.5,749.3 162.0,756.0 C173.5,762.7 181.5,765.8 191.0,772.0 C200.5,778.2 210.2,786.8 219.0,793.0 C227.8,799.2 235.8,803.7 244.0,809.0 C252.2,814.3 260.0,818.8 268.0,825.0 C276.0,831.2 285.2,841.2 292.0,846.0 C298.8,850.8 302.8,852.7 309.0,854.0 C315.2,855.3 324.7,855.3 329.0,854.0 C333.3,852.7 335.0,850.8 335.0,846.0 C335.0,841.2 331.3,831.8 329.0,825.0 C326.7,818.2 324.3,812.3 321.0,805.0 C317.7,797.7 313.2,789.2 309.0,781.0 C304.8,772.8 300.2,764.2 296.0,756.0 C291.8,747.8 288.7,740.0 284.0,732.0 C279.3,724.0 273.3,715.5 268.0,708.0 C262.7,700.5 257.0,692.2 252.0,687.0 C247.0,681.8 237.3,679.3 238.0,677.0 C238.7,674.7 249.7,673.0 256.0,673.0 C262.3,673.0 269.3,674.0 276.0,677.0 C282.7,680.0 288.5,685.2 296.0,691.0 C303.5,696.8 312.8,705.2 321.0,712.0 C329.2,718.8 337.7,726.0 345.0,732.0 C352.3,738.0 357.5,743.3 365.0,748.0 C372.5,752.7 381.8,756.0 390.0,760.0 C398.2,764.0 406.0,768.5 414.0,772.0 C422.0,775.5 429.8,778.2 438.0,781.0 C446.2,783.8 454.3,783.3 463.0,789.0 C471.7,794.7 477.2,806.5 490.0,815.0 C502.8,823.5 526.7,833.3 540.0,840.0 C553.3,846.7 558.3,850.0 570.0,855.0 C581.7,860.0 598.3,863.3 610.0,870.0 C621.7,876.7 631.7,885.8 640.0,895.0 C648.3,904.2 650.0,915.8 660.0,925.0 C670.0,934.2 686.7,941.7 700.0,950.0 C713.3,958.3 726.7,965.0 740.0,975.0 C753.3,985.0 766.7,999.2 780.0,1010.0 C793.3,1020.8 805.0,1030.8 820.0,1040.0 C835.0,1049.2 851.7,1059.2 870.0,1065.0 C888.3,1070.8 910.0,1074.2 930.0,1075.0 C950.0,1075.8 970.0,1073.3 990.0,1070.0 C1010.0,1066.7 1031.7,1060.8 1050.0,1055.0 C1068.3,1049.2 1085.0,1042.5 1100.0,1035.0 C1115.0,1027.5 1128.3,1018.3 1140.0,1010.0 C1151.7,1001.7 1161.7,993.3 1170.0,985.0 C1178.3,976.7 1151.7,965.8 1190.0,960.0 C1228.3,954.2 1365.0,860.0 1400.0,950.0 C1435.0,1040.0 1641.7,1408.3 1400.0,1500.0 C1158.3,1591.7 191.7,1632.5 -50.0,1500.0 C-291.7,1367.5 -58.3,837.8 -50.0,705.0 Z" fill="#ffb462"/><path d="M-50.0,865.0 C-42.0,775.8 -17.5,863.7 -2.0,865.0 C13.5,866.3 28.8,869.0 43.0,873.0 C57.2,877.0 69.5,882.2 83.0,889.0 C96.5,895.8 113.2,905.2 124.0,914.0 C134.8,922.8 142.7,932.7 148.0,942.0 C153.3,951.3 156.0,961.2 156.0,970.0 C156.0,978.8 152.0,988.2 148.0,995.0 C144.0,1001.8 138.7,1008.0 132.0,1011.0 C125.3,1014.0 115.8,1013.2 108.0,1013.0 C100.2,1012.8 90.5,1009.0 85.0,1010.0 C79.5,1011.0 75.3,1011.3 75.0,1019.0 C74.7,1026.7 78.3,1045.2 83.0,1056.0 C87.7,1066.8 96.8,1074.7 103.0,1084.0 C109.2,1093.3 116.8,1101.8 120.0,1112.0 C123.2,1122.2 122.0,1134.2 122.0,1145.0 C122.0,1155.8 119.0,1166.8 120.0,1177.0 C121.0,1187.2 123.3,1197.8 128.0,1206.0 C132.7,1214.2 140.7,1220.0 148.0,1226.0 C155.3,1232.0 163.8,1235.8 172.0,1242.0 C180.2,1248.2 191.5,1236.7 197.0,1263.0 C202.5,1289.3 246.2,1377.2 205.0,1400.0 C163.8,1422.8 -7.5,1489.2 -50.0,1400.0 C-92.5,1310.8 -58.0,954.2 -50.0,865.0 Z" fill="#cce385"/><path d="M522.0,915.0 C522.8,906.3 535.3,899.7 545.0,898.0 C554.7,896.3 568.3,901.3 580.0,905.0 C591.7,908.7 605.3,912.5 615.0,920.0 C624.7,927.5 635.5,939.2 638.0,950.0 C640.5,960.8 636.3,977.5 630.0,985.0 C623.7,992.5 610.8,996.7 600.0,995.0 C589.2,993.3 575.0,982.5 565.0,975.0 C555.0,967.5 547.2,960.0 540.0,950.0 C532.8,940.0 521.2,923.7 522.0,915.0 Z" fill="#cce385"/><path d="M-69.0,1157.0 C-61.8,1135.3 -39.2,1142.7 -26.0,1141.0 C-12.8,1139.3 -1.5,1144.7 10.0,1147.0 C21.5,1149.3 36.8,1149.3 43.0,1155.0 C49.2,1160.7 43.7,1171.8 47.0,1181.0 C50.3,1190.2 59.0,1201.8 63.0,1210.0 C67.0,1218.2 72.3,1225.3 71.0,1230.0 C69.7,1234.7 61.8,1236.7 55.0,1238.0 C48.2,1239.3 38.2,1235.2 30.0,1238.0 C21.8,1240.8 14.7,1249.5 6.0,1255.0 C-2.7,1260.5 -9.5,1268.3 -22.0,1271.0 C-34.5,1273.7 -61.2,1290.0 -69.0,1271.0 C-76.8,1252.0 -76.2,1178.7 -69.0,1157.0 Z" fill="#99fca6"/></g></g>
<g clip-path="url(#c27)"><g transform="translate(980,460) scale(0.25257)"><rect x="-50" y="-50" width="1400" height="1400" fill="#ffb462"/><path d="M-50.0,-50.0 C-5.8,-225.0 170.8,-61.7 215.0,-50.0 C259.2,-38.3 213.3,-1.7 215.0,20.0 C216.7,41.7 220.8,61.7 225.0,80.0 C229.2,98.3 236.7,115.0 240.0,130.0 C243.3,145.0 236.7,160.8 245.0,170.0 C253.3,179.2 275.8,178.3 290.0,185.0 C304.2,191.7 318.3,200.8 330.0,210.0 C341.7,219.2 358.3,231.7 360.0,240.0 C361.7,248.3 350.0,256.3 340.0,260.0 C330.0,263.7 313.3,261.2 300.0,262.0 C286.7,262.8 270.0,267.0 260.0,265.0 C250.0,263.0 246.7,255.0 240.0,250.0 C233.3,245.0 225.0,233.3 220.0,235.0 C215.0,236.7 210.8,249.2 210.0,260.0 C209.2,270.8 212.5,286.7 215.0,300.0 C217.5,313.3 225.0,326.7 225.0,340.0 C225.0,353.3 220.0,368.3 215.0,380.0 C210.0,391.7 195.0,401.7 195.0,410.0 C195.0,418.3 209.5,423.3 215.0,430.0 C220.5,436.7 228.0,443.3 228.0,450.0 C228.0,456.7 221.3,465.0 215.0,470.0 C208.7,475.0 195.0,471.7 190.0,480.0 C185.0,488.3 183.3,506.7 185.0,520.0 C186.7,533.3 193.3,552.5 200.0,560.0 C206.7,567.5 215.8,563.7 225.0,565.0 C234.2,566.3 245.8,565.5 255.0,568.0 C264.2,570.5 272.5,574.7 280.0,580.0 C287.5,585.3 295.0,590.0 300.0,600.0 C305.0,610.0 306.7,626.7 310.0,640.0 C313.3,653.3 321.7,670.0 320.0,680.0 C318.3,690.0 305.0,691.7 300.0,700.0 C295.0,708.3 289.2,718.3 290.0,730.0 C290.8,741.7 305.0,758.3 305.0,770.0 C305.0,781.7 297.5,791.7 290.0,800.0 C282.5,808.3 268.3,811.7 260.0,820.0 C251.7,828.3 245.8,840.0 240.0,850.0 C234.2,860.0 231.7,871.7 225.0,880.0 C218.3,888.3 209.2,893.3 200.0,900.0 C190.8,906.7 180.0,914.2 170.0,920.0 C160.0,925.8 149.2,930.0 140.0,935.0 C130.8,940.0 121.7,942.5 115.0,950.0 C108.3,957.5 105.0,968.3 100.0,980.0 C95.0,991.7 90.8,1006.7 85.0,1020.0 C79.2,1033.3 72.5,1055.8 65.0,1060.0 C57.5,1064.2 47.5,1050.8 40.0,1045.0 C32.5,1039.2 26.7,1030.8 20.0,1025.0 C13.3,1019.2 11.7,1014.2 0.0,1010.0 C-11.7,1005.8 -41.7,1176.7 -50.0,1000.0 C-58.3,823.3 -94.2,125.0 -50.0,-50.0 Z" fill="#cce385"/><path d="M-50.0,135.0 C-35.0,101.7 17.5,135.8 40.0,135.0 C62.5,134.2 74.2,126.7 85.0,130.0 C95.8,133.3 99.5,145.0 105.0,155.0 C110.5,165.0 113.0,180.0 118.0,190.0 C123.0,200.0 128.0,209.7 135.0,215.0 C142.0,220.3 151.7,223.7 160.0,222.0 C168.3,220.3 176.7,210.3 185.0,205.0 C193.3,199.7 204.5,185.8 210.0,190.0 C215.5,194.2 217.2,215.0 218.0,230.0 C218.8,245.0 214.3,263.3 215.0,280.0 C215.7,296.7 222.8,314.2 222.0,330.0 C221.2,345.8 215.3,362.5 210.0,375.0 C204.7,387.5 195.3,404.2 190.0,405.0 C184.7,405.8 182.2,390.8 178.0,380.0 C173.8,369.2 168.0,353.3 165.0,340.0 C162.0,326.7 160.0,313.3 160.0,300.0 C160.0,286.7 166.7,267.5 165.0,260.0 C163.3,252.5 156.7,252.5 150.0,255.0 C143.3,257.5 133.3,267.5 125.0,275.0 C116.7,282.5 109.2,293.3 100.0,300.0 C90.8,306.7 80.0,310.8 70.0,315.0 C60.0,319.2 51.7,322.5 40.0,325.0 C28.3,327.5 15.0,328.3 0.0,330.0 C-15.0,331.7 -41.7,367.5 -50.0,335.0 C-58.3,302.5 -65.0,168.3 -50.0,135.0 Z" fill="#ffb462"/><path d="M-50.0,340.0 C-38.3,322.5 5.0,340.0 20.0,345.0 C35.0,350.0 37.5,359.2 40.0,370.0 C42.5,380.8 39.2,398.3 35.0,410.0 C30.8,421.7 29.2,433.3 15.0,440.0 C0.8,446.7 -39.2,466.7 -50.0,450.0 C-60.8,433.3 -61.7,357.5 -50.0,340.0 Z" fill="#ffb462"/><path d="M-50.0,880.0 C-41.7,870.8 -10.8,888.3 0.0,885.0 C10.8,881.7 10.0,865.8 15.0,860.0 C20.0,854.2 27.2,845.0 30.0,850.0 C32.8,855.0 32.8,877.5 32.0,890.0 C31.2,902.5 30.3,916.7 25.0,925.0 C19.7,933.3 12.5,937.5 0.0,940.0 C-12.5,942.5 -41.7,950.0 -50.0,940.0 C-58.3,930.0 -58.3,889.2 -50.0,880.0 Z" fill="#99fca6"/><path d="M548.0,738.0 C548.0,732.7 564.7,724.3 575.0,720.0 C585.3,715.7 597.5,711.7 610.0,712.0 C622.5,712.3 638.3,716.5 650.0,722.0 C661.7,727.5 680.0,740.0 680.0,745.0 C680.0,750.0 661.7,750.3 650.0,752.0 C638.3,753.7 622.5,755.0 610.0,755.0 C597.5,755.0 585.3,754.8 575.0,752.0 C564.7,749.2 548.0,743.3 548.0,738.0 Z" fill="#cce385"/></g></g>
<g clip-path="url(#c28)"><g transform="translate(980,780) scale(0.25257)"><rect x="-50" y="-50" width="1400" height="1400" fill="#ffb462"/><path d="M-79.0,92.0 C-72.8,75.3 -54.5,106.2 -42.0,114.0 C-29.5,121.8 -16.5,131.3 -4.0,139.0 C8.5,146.7 21.7,152.8 33.0,160.0 C44.3,167.2 54.5,174.7 64.0,182.0 C73.5,189.3 79.5,195.2 90.0,204.0 C100.5,212.8 116.7,224.5 127.0,235.0 C137.3,245.5 142.7,259.7 152.0,267.0 C161.3,274.3 174.7,279.0 183.0,279.0 C191.3,279.0 195.7,274.3 202.0,267.0 C208.3,259.7 215.8,243.8 221.0,235.0 C226.2,226.2 226.8,215.0 233.0,214.0 C239.2,213.0 253.3,223.3 258.0,229.0 C262.7,234.7 263.0,240.7 261.0,248.0 C259.0,255.3 251.7,264.7 246.0,273.0 C240.3,281.3 232.8,289.7 227.0,298.0 C221.2,306.3 215.7,315.7 211.0,323.0 C206.3,330.3 197.3,336.8 199.0,342.0 C200.7,347.2 213.2,348.8 221.0,354.0 C228.8,359.2 237.7,365.7 246.0,373.0 C254.3,380.3 262.7,389.7 271.0,398.0 C279.3,406.3 287.7,413.7 296.0,423.0 C304.3,432.3 312.7,443.7 321.0,454.0 C329.3,464.3 337.7,474.5 346.0,485.0 C354.3,495.5 362.7,507.5 371.0,517.0 C379.3,526.5 387.7,533.7 396.0,542.0 C404.3,550.3 412.7,559.8 421.0,567.0 C429.3,574.2 437.7,580.3 446.0,585.0 C454.3,589.7 460.7,593.0 471.0,595.0 C481.3,597.0 495.5,597.0 508.0,597.0 C520.5,597.0 535.5,595.8 546.0,595.0 C556.5,594.2 560.3,589.2 571.0,592.0 C581.7,594.8 596.8,606.5 610.0,612.0 C623.2,617.5 635.0,622.0 650.0,625.0 C665.0,628.0 685.0,631.2 700.0,630.0 C715.0,628.8 734.2,623.0 740.0,618.0 C745.8,613.0 741.7,605.5 735.0,600.0 C728.3,594.5 711.7,591.7 700.0,585.0 C688.3,578.3 675.0,569.2 665.0,560.0 C655.0,550.8 646.2,541.7 640.0,530.0 C633.8,518.3 628.0,502.5 628.0,490.0 C628.0,477.5 633.8,465.8 640.0,455.0 C646.2,444.2 659.2,436.7 665.0,425.0 C670.8,413.3 674.2,398.3 675.0,385.0 C675.8,371.7 674.2,357.5 670.0,345.0 C665.8,332.5 657.5,320.0 650.0,310.0 C642.5,300.0 631.3,293.3 625.0,285.0 C618.7,276.7 610.3,268.3 612.0,260.0 C613.7,251.7 627.0,242.5 635.0,235.0 C643.0,227.5 652.5,220.0 660.0,215.0 C667.5,210.0 671.7,205.0 680.0,205.0 C688.3,205.0 700.8,208.3 710.0,215.0 C719.2,221.7 726.7,235.0 735.0,245.0 C743.3,255.0 750.8,264.2 760.0,275.0 C769.2,285.8 780.8,298.3 790.0,310.0 C799.2,321.7 807.5,332.5 815.0,345.0 C822.5,357.5 828.3,371.7 835.0,385.0 C841.7,398.3 848.3,411.7 855.0,425.0 C861.7,438.3 868.3,451.7 875.0,465.0 C881.7,478.3 887.5,492.5 895.0,505.0 C902.5,517.5 910.8,530.0 920.0,540.0 C929.2,550.0 939.2,559.2 950.0,565.0 C960.8,570.8 971.7,573.3 985.0,575.0 C998.3,576.7 1014.2,575.8 1030.0,575.0 C1045.8,574.2 1063.3,570.5 1080.0,570.0 C1096.7,569.5 1111.7,572.0 1130.0,572.0 C1148.3,572.0 1145.0,570.3 1190.0,570.0 C1235.0,569.7 1365.0,415.0 1400.0,570.0 C1435.0,725.0 1641.7,1345.0 1400.0,1500.0 C1158.3,1655.0 191.7,1583.3 -50.0,1500.0 C-291.7,1416.7 -58.3,1083.3 -50.0,1000.0 C-41.7,916.7 -18.3,998.3 0.0,1000.0 C18.3,1001.7 43.3,1008.0 60.0,1010.0 C76.7,1012.0 88.3,1013.7 100.0,1012.0 C111.7,1010.3 119.2,1006.2 130.0,1000.0 C140.8,993.8 155.0,984.2 165.0,975.0 C175.0,965.8 185.0,956.7 190.0,945.0 C195.0,933.3 189.2,915.0 195.0,905.0 C200.8,895.0 217.0,892.5 225.0,885.0 C233.0,877.5 242.2,868.3 243.0,860.0 C243.8,851.7 234.2,844.3 230.0,835.0 C225.8,825.7 221.3,815.3 218.0,804.0 C214.7,792.7 212.2,778.5 210.0,767.0 C207.8,755.5 207.3,745.5 205.0,735.0 C202.7,724.5 200.7,713.3 196.0,704.0 C191.3,694.7 184.3,687.3 177.0,679.0 C169.7,670.7 160.3,662.3 152.0,654.0 C143.7,645.7 134.3,637.3 127.0,629.0 C119.7,620.7 112.2,613.3 108.0,604.0 C103.8,594.7 105.0,584.5 102.0,573.0 C99.0,561.5 92.7,546.5 90.0,535.0 C87.3,523.5 85.0,513.3 86.0,504.0 C87.0,494.7 92.3,487.3 96.0,479.0 C99.7,470.7 103.8,462.3 108.0,454.0 C112.2,445.7 117.8,437.3 121.0,429.0 C124.2,420.7 126.5,412.3 127.0,404.0 C127.5,395.7 125.5,387.3 124.0,379.0 C122.5,370.7 120.7,361.8 118.0,354.0 C115.3,346.2 114.8,337.7 108.0,332.0 C101.2,326.3 87.3,324.2 77.0,320.0 C66.7,315.8 55.3,311.2 46.0,307.0 C36.7,302.8 26.2,299.7 21.0,295.0 C15.8,290.3 21.3,285.8 15.0,279.0 C8.7,272.2 -6.5,262.3 -17.0,254.0 C-27.5,245.7 -37.7,235.7 -48.0,229.0 C-58.3,222.3 -73.8,236.8 -79.0,214.0 C-84.2,191.2 -85.2,108.7 -79.0,92.0 Z" fill="#ff743c"/></g></g>
<g clip-path="url(#c29)"><g transform="translate(980,940) scale(0.25257)"><rect x="-50" y="-50" width="1400" height="1400" fill="#ff743c"/><path d="M-50.0,830.0 C-41.7,805.0 -13.3,842.5 0.0,850.0 C13.3,857.5 21.7,866.7 30.0,875.0 C38.3,883.3 46.7,879.2 50.0,900.0 C53.3,920.8 66.7,983.3 50.0,1000.0 C33.3,1016.7 -33.3,1028.3 -50.0,1000.0 C-66.7,971.7 -58.3,855.0 -50.0,830.0 Z" fill="#ffb462"/></g></g>
<path fill="none" stroke="#000" stroke-width="4.4" stroke-linejoin="round" stroke-linecap="round" d="M523.9,1040.1 L525.6,1032.6 L531.9,1026.3 L542.1,1018.7 L554.7,1012.4 L567.3,1007.3 L582.5,1003.5 L597.6,1001.0 L612.8,999.2 L625.4,998.5 L634.2,1002.3 L641.8,1008.6 L646.9,1016.1 L644.3,1022.5 L639.3,1028.8 L634.2,1035.1 L625.4,1038.9 L615.3,1042.7 L605.2,1045.2 L592.6,1047.7 L579.9,1049.0 L567.3,1049.7 L554.7,1050.7 L545.8,1052.8 L540.8,1056.6 L534.5,1051.5 L528.2,1046.5 Z M403.1,829.3 L406.2,823.4 L412.0,821.7 L415.0,825.0 L410.7,830.5 L405.2,833.5 Z M788.8,151.4 L795.1,156.4 L798.9,157.7 L802.7,162.7 L809.0,167.8 L812.8,171.6 L824.2,174.1 L831.7,180.4 L844.4,191.8 L854.5,188.0 L862.1,194.3 L868.4,201.9 L869.6,210.7 L874.7,215.8 L882.3,225.9 L889.8,238.5 L899.9,253.7 L908.8,271.3 L917.6,286.5 L922.7,294.1 L932.8,306.7 L940.3,314.3 L950.4,324.4 L963.1,339.5 L973.2,352.2 L980.0,358.5 M375.2,151.9 L371.3,156.3 L368.1,161.8 L366.1,168.2 L364.5,174.5 L363.9,180.8 L365.8,185.5 L369.7,188.7 L373.7,190.3 L376.8,187.1 L376.5,183.1 L379.2,182.4 L382.3,184.7 L381.6,188.7 L384.7,191.8 L388.7,193.4 L392.6,192.3 L397.3,191.8 L402.1,192.6 L406.0,191.8 L408.1,188.7 L411.5,186.0 L414.7,187.9 L416.3,191.8 L419.4,193.4 L424.2,193.4 L428.1,195.8 L430.5,199.7 L433.6,202.1 L438.4,203.4 L443.9,204.5 L446.3,206.8 L443.1,208.7 L437.6,208.7 L432.9,206.8 L428.9,204.5 L427.3,202.1 L425.0,204.5 L422.6,203.7 L421.8,199.7 L418.7,196.6 L414.7,195.8 L410.8,196.6 L406.8,195.8 L402.1,196.6 L397.3,197.4 L392.6,200.5 L388.7,202.9 L384.7,201.3 L380.8,200.5 L376.0,202.9 L371.3,203.7 L367.3,206.0 L365.0,203.7 L361.8,202.9 L359.5,205.2 L361.8,209.2 L364.2,211.6 L361.8,214.7 L357.9,213.1 L353.1,216.3 L349.2,213.9 L345.2,214.7 L342.9,216.3 L344.5,221.0 L346.0,225.8 L344.5,230.5 L342.1,232.9 L337.4,233.7 L334.2,236.0 L331.4,240.8 L327.9,245.5 L324.7,250.2 L323.1,255.0 L322.4,260.5 L322.8,266.0 L325.5,269.2 L329.5,271.5 L333.4,270.8 L337.4,269.7 L340.2,270.8 L337.4,273.1 L332.6,273.9 L328.7,274.7 L330.3,278.7 L331.8,284.2 L332.9,290.5 L334.5,296.8 L335.8,302.3 L336.6,307.9 M308.9,224.2 L311.3,220.7 L316.0,219.0 L320.8,220.2 L324.7,222.9 L327.9,226.6 L328.4,229.7 L324.7,229.7 L320.0,228.1 L315.3,226.6 L311.3,227.3 Z M290.0,284.2 L294.7,282.6 L300.3,281.8 L305.8,280.2 L309.7,277.1 L314.5,274.7 L319.2,270.8 L323.9,269.7 L327.1,274.7 L329.5,281.0 L327.9,285.8 L323.9,285.4 L319.2,289.7 L312.1,291.3 L304.2,291.3 L296.3,290.5 L290.0,288.9 Z M343.7,294.4 L350.0,293.6 L356.3,291.3 L362.6,290.2 L368.9,290.8 L375.2,292.1 L381.6,292.9 L385.5,295.5 L384.4,300.0 L382.3,303.9 L378.4,302.8 L379.2,299.2 L375.2,298.4 L370.5,299.2 L365.8,298.4 L361.0,299.6 L358.2,302.3 L359.5,305.5 L364.2,307.1 L368.9,307.9 M327.1,304.7 L331.0,302.8 L335.0,303.9 L336.6,307.9 M281.6,313.7 L286.3,310.5 L292.6,309.7 L298.9,310.2 L303.4,312.1 L302.1,316.0 L297.4,319.2 L292.6,320.0 L287.9,318.4 L283.2,316.8 Z M287.1,313.7 L292.6,312.9 L297.4,313.7 L295.0,316.8 L289.5,316.8 Z M290.7,333.4 L293.4,330.3 L297.4,329.1 L300.2,331.4 L298.9,335.8 L295.0,338.1 L291.4,337.0 Z M336.5,307.8 L337.6,311.3 L339.2,315.3 L338.7,319.2 M344.7,313.7 L349.5,312.1 L355.8,311.3 L362.1,312.1 L368.4,311.3 L372.3,309.7 L370.0,312.9 L365.2,315.3 L358.9,316.0 L352.6,315.3 L347.9,316.8 L345.5,320.0 L348.7,322.4 L354.2,323.9 L360.5,325.5 L366.8,326.3 L372.3,324.7 L375.5,321.6 L378.7,318.4 L382.6,316.8 L384.2,319.2 L382.6,322.4 L385.8,325.5 L389.7,326.3 L388.9,329.5 L384.2,331.0 L380.2,332.6 L384.2,334.2 L388.9,335.0 L393.7,333.4 L396.8,330.3 L396.0,327.9 L400.0,325.5 L404.7,323.9 L408.7,320.8 L412.6,319.2 L415.8,321.6 L419.7,323.1 L422.9,323.9 L421.3,327.1 L417.3,328.7 L418.9,331.8 L422.9,333.4 L424.4,336.6 L422.1,338.9 L418.9,337.4 L415.8,335.8 L411.8,337.4 L407.9,338.1 L403.9,338.9 L400.0,341.3 L396.8,344.5 L395.2,348.4 L394.4,353.1 L396.0,356.3 L399.2,355.5 L400.8,351.6 L403.9,349.2 L408.7,348.4 L413.4,347.6 L417.3,345.2 L419.7,342.1 L421.3,338.9 M432.3,302.6 L436.3,301.0 L441.0,304.2 L447.3,305.8 L453.6,305.0 L460.0,305.8 L466.3,307.4 M439.4,318.4 L444.2,316.0 L449.7,313.7 L455.2,314.5 L459.2,317.6 L456.8,320.8 L452.1,321.6 L447.3,322.4 L443.4,320.8 L445.0,326.3 L443.4,331.8 L441.0,335.8 L437.9,333.4 L435.5,337.4 L438.6,340.5 L436.3,343.7 L432.3,342.1 L430.0,338.9 L426.0,340.5 L422.9,339.7 M467.8,310.5 L471.0,313.7 L474.2,317.6 L477.3,321.6 L480.0,324.7 M592.3,344.3 L593.3,334.6 L593.9,326.7 L595.7,314.1 L604.8,305.5 L614.5,298.7 L623.8,290.3 L631.2,283.0 L636.8,275.4 L643.5,267.7 L652.7,260.8 L665.5,254.4 L678.6,250.0 L691.4,248.5 L703.3,247.9 L715.3,246.9 L723.8,249.6 L729.4,251.2 L737.7,249.4 L749.7,247.0 L762.0,245.4 L774.1,245.3 L779.6,250.5 L784.4,250.4 L794.2,249.8 L804.2,250.4 L813.0,250.5 L821.4,248.8 L829.8,245.5 L838.3,239.8 L844.7,233.5 L847.5,227.0 L848.4,219.4 L852.9,209.5 L861.1,203.7 L866.8,201.3 M600.2,345.1 L601.2,335.3 L601.8,327.4 L602.8,317.6 L609.6,311.7 L619.5,304.9 L629.3,296.0 L637.1,288.2 L643.0,280.3 L648.9,273.4 L656.8,267.6 L668.5,261.7 L680.3,257.7 L692.1,256.4 L703.9,255.8 L714.7,254.8 L721.5,257.1 L729.4,259.1 L739.2,257.1 L751.0,254.8 L762.8,253.2 L771.6,252.8 L776.5,257.7 L784.4,258.3 L794.2,257.7 L804.0,258.3 L813.8,258.3 L823.6,256.4 L833.5,252.4 L843.3,246.0 L851.1,238.1 L855.1,229.3 L856.0,221.4 L859.0,214.5 L864.9,210.6 L869.8,208.7 M608.1,345.9 L609.1,336.0 L609.6,328.1 L609.8,321.2 L614.4,318.0 L624.4,311.0 L634.7,301.8 L643.1,293.4 L649.2,285.2 L654.3,279.2 L660.8,274.3 L671.6,269.0 L682.0,265.4 L692.8,264.2 L704.4,263.7 L714.1,262.7 L719.3,264.7 L729.4,267.0 L740.8,264.9 L752.3,262.6 L763.5,261.1 L769.1,260.3 L773.4,265.0 L784.4,266.2 L794.2,265.6 L803.8,266.2 L814.6,266.2 L825.9,263.9 L837.2,259.4 L848.3,252.1 L857.6,242.7 L862.6,231.5 L863.7,223.4 L865.1,219.5 L868.7,217.6 L872.7,216.0 M470.0,314.5 L474.7,316.8 L478.7,321.6 L482.6,327.1 L486.6,330.3 L491.3,331.0 L493.7,327.1 L491.3,322.4 L493.7,320.0 L497.6,323.9 L499.2,329.5 L503.9,327.9 L507.1,325.5 L508.7,331.0 L511.8,335.8 L515.0,337.4 L516.6,342.1 L518.9,346.8 L522.9,348.4 L524.5,344.5 L522.9,338.9 L522.1,334.2 L525.2,331.8 L531.6,330.3 L537.9,328.7 L544.2,327.1 L550.5,324.7 L556.8,323.1 L561.6,322.4 L564.7,325.5 L567.9,329.5 L572.6,332.6 L578.9,335.8 L585.2,338.9 L591.5,341.3 L597.9,341.3 L602.6,338.9 L604.2,335.8 M533.1,337.4 L537.9,335.0 L544.2,335.8 L550.5,337.4 L552.1,342.1 L547.3,340.5 L541.0,339.7 L537.1,340.5 L542.6,343.7 L547.3,345.2 L545.8,349.2 L542.6,353.1 L547.3,355.5 L553.7,358.7 L558.4,361.8 L563.1,360.2 L561.6,356.3 L558.4,352.4 L556.0,346.8 L555.2,340.5 L558.4,335.8 L564.7,333.4 L571.0,336.6 L577.3,340.5 L580.5,344.5 M533.1,337.4 L532.4,341.3 L535.5,343.7 L539.5,342.9 M563.1,360.2 L560.0,364.2 L564.7,367.3 L571.0,368.1 L575.8,366.6 L578.9,369.7 M579.7,342.9 L582.1,350.0 L583.7,357.9 L585.2,365.8 L586.5,373.7 L587.6,381.6 L587.6,389.4 L586.8,398.9 M604.2,335.8 L607.3,342.1 L608.9,348.4 L605.8,353.1 L601.8,355.5 M553.7,389.4 L558.4,386.3 L564.7,384.7 L571.0,383.9 L577.3,382.3 L582.1,380.0 L586.0,382.3 L583.7,386.3 L580.5,388.7 L575.8,391.0 L571.8,394.2 L567.9,397.3 L563.9,398.1 L561.6,395.0 L557.6,393.4 L554.5,391.8 Z M588.4,378.4 L591.5,383.1 L596.3,384.7 L600.2,383.9 L596.3,387.9 L592.3,391.0 L594.7,395.0 L599.4,394.2 L601.8,398.1 L597.9,400.5 L601.0,403.7 L605.8,402.9 L610.5,402.1 L612.1,405.2 L608.1,408.4 L610.5,412.3 L615.2,413.9 L620.0,415.5 L626.3,415.5 L631.0,417.1 L635.0,419.4 L634.2,422.6 L629.4,421.0 L625.5,419.4 L622.3,421.8 L621.5,425.8 L618.4,424.2 L614.4,421.8 L609.7,421.0 L605.8,420.2 L601.8,421.8 L603.4,425.8 L607.3,427.3 L612.1,426.5 L608.9,429.7 L605.0,431.3 L601.8,433.6 L605.0,436.8 L609.7,437.6 L614.4,436.0 L619.2,435.2 L623.9,433.6 L629.4,432.9 L634.2,434.4 L635.0,438.4 L631.0,440.0 L626.3,439.2 L621.5,440.0 L617.6,443.1 L616.0,447.9 L618.4,451.8 L623.1,454.2 L627.9,455.0 L632.6,453.4 L635.7,449.4 L638.1,446.3 L639.7,449.4 L640.5,455.0 L641.3,459.7 L637.3,460.5 L632.6,458.9 L627.9,459.7 L624.7,461.3 M565.5,422.6 L567.9,418.7 L572.6,417.5 L577.0,419.4 L576.6,424.2 L572.6,427.0 L568.2,426.5 Z M582.9,417.9 L588.4,417.1 L594.7,421.0 L596.3,424.2 L590.0,428.1 L583.7,432.1 L582.1,427.3 L586.0,423.4 Z M511.8,424.2 L513.4,420.7 L517.4,419.8 L522.1,422.6 L524.5,425.8 L522.1,429.7 L517.4,430.2 L513.4,428.1 Z M604.2,441.6 L610.5,440.0 L615.2,444.7 L616.0,451.0 L617.6,455.8 L624.7,457.4 L631.0,456.6 L637.3,458.2 L641.3,455.8 L638.9,451.0 L635.8,447.1 L638.9,449.5 L642.1,454.2 L642.9,458.9 L638.9,461.3 L632.6,462.1 L624.7,461.3 L620.0,465.3 L624.7,468.4 L627.9,473.9 L624.7,477.1 L621.5,478.7 L626.3,479.5 L631.0,481.8 L634.2,485.8 L637.3,488.9 L640.5,490.5 L635.8,492.1 L631.0,490.5 L628.7,494.5 L631.0,499.2 L634.2,498.4 L632.6,501.6 L628.7,500.8 M610.5,462.1 L620.0,463.7 L629.4,467.6 L637.3,471.6 L645.2,473.9 L653.9,471.6 M631.0,481.8 L635.8,479.5 L642.1,477.9 L648.4,475.5 L653.9,473.9 M552.1,461.3 L558.4,460.2 L564.7,460.5 L569.5,459.7 L574.2,458.9 L575.8,454.2 L580.5,452.9 L586.0,455.8 L591.6,458.9 L596.3,461.3 L602.6,462.1 L608.9,461.3 L615.2,462.9 L620.0,465.3 M550.5,468.4 L553.7,471.6 L558.4,469.2 L560.8,473.9 L559.2,479.5 L556.0,482.6 L560.8,483.4 L563.1,479.5 L564.7,474.7 L567.9,470.8 L571.0,467.6 L573.4,471.6 L571.8,477.1 L571.0,482.6 L574.2,486.6 L576.6,481.8 L578.1,476.3 L580.5,471.6 L582.9,467.6 L586.0,470.8 L587.6,475.5 L590.8,477.9 L589.2,472.4 L590.8,468.4 L594.7,466.8 L598.7,469.2 L600.2,473.9 L597.9,477.1 M552.1,461.3 L547.4,467.6 L542.6,469.2 L545.0,473.1 L541.8,477.1 L537.1,477.9 L531.6,478.7 L528.4,481.8 L531.6,485.0 L536.3,484.2 L533.9,488.1 L529.2,490.5 L524.5,492.1 L520.5,496.0 M517.7,502.4 L520.5,498.7 L519.3,495.2 L524.5,493.7 L528.4,496.0 L531.3,493.7 L534.4,498.7 L532.4,502.4 L535.0,506.3 L531.3,510.7 L527.2,509.5 L525.3,512.6 L521.3,510.7 L522.1,507.1 L518.6,506.0 Z M542.6,485.8 L547.4,483.4 L552.1,485.8 L553.7,490.5 L550.5,492.9 L545.8,492.1 L541.8,489.7 Z M533.9,505.5 L537.9,506.3 L541.8,503.1 L545.8,500.0 L550.5,498.4 L554.5,500.8 M542.6,507.9 L540.7,511.8 L544.5,515.5 L542.6,519.7 L546.6,522.9 L545.0,527.6 L548.6,530.8 L547.0,535.5 L550.8,539.4 L549.3,544.2 L552.9,548.1 L553.4,554.4 L558.4,556.5 L562.8,554.0 L566.3,554.9 L567.9,549.7 L564.4,546.1 L566.3,541.8 L562.8,537.9 L564.7,533.9 L561.2,530.0 L562.8,525.2 L559.7,521.3 L561.2,516.6 L558.1,512.9 L560.0,507.9 L557.1,504.4 L553.7,501.9 L550.2,503.9 L547.4,502.4 L545.8,506.3 Z M550.5,509.5 L552.9,515.8 L554.5,522.1 L556.0,528.4 L557.6,534.7 L559.2,541.0 L560.8,547.3 L562.4,552.9 M563.1,502.4 L569.5,503.1 L574.2,501.6 L577.3,504.7 L573.4,507.9 L576.6,511.0 L579.7,514.2 L575.8,517.3 L578.9,521.3 L575.0,524.5 L578.1,528.4 L574.2,531.6 L577.3,535.5 L579.7,539.4 L575.8,542.6 L578.9,545.8 L585.2,545.0 L591.6,544.2 L595.5,545.0 L590.8,547.3 L585.2,548.1 L580.5,550.5 L577.3,553.7 L579.7,557.6 L585.2,560.0 L589.2,562.3 L585.2,564.7 L580.5,566.3 L578.9,569.4 L582.1,572.6 L586.8,574.2 L590.8,577.3 L587.6,580.5 L583.7,583.6 L586.0,586.8 L590.8,588.4 L593.9,591.5 L590.0,593.1 L584.5,592.3 L578.9,593.1 L575.8,596.3 L577.3,599.4 L582.1,597.9 L586.0,596.3 L590.0,599.4 L594.7,602.6 L598.7,605.7 L601.0,610.5 L604.2,615.2 L608.9,616.0 L615.2,614.4 L621.5,612.1 L627.9,609.7 L634.2,608.1 L637.3,605.7 M567.9,503.1 L570.2,507.9 L568.7,512.6 L571.8,515.8 L569.5,520.5 L572.6,524.5 L570.2,529.2 L573.4,533.1 M578.9,623.1 L585.2,623.9 L594.7,623.1 L604.2,622.3 L613.7,621.5 M579.7,623.9 L582.1,627.8 L588.4,629.4 L593.1,631.8 L597.9,634.9 L604.2,635.7 L610.5,634.9 L618.4,633.4 L624.7,631.8 L629.4,633.4 L626.3,636.5 L620.0,638.1 L613.7,637.3 M578.7,624.2 L579.5,628.2 L585.8,628.9 L592.1,628.2 L593.7,632.9 L594.5,635.3 L601.6,636.0 L609.5,635.3 L617.3,633.7 L623.7,632.1 L628.4,633.7 L630.0,636.8 L626.0,639.2 L620.5,640.0 L614.2,639.2 L609.5,640.8 L607.9,643.9 L612.6,647.1 L618.1,649.5 L622.1,651.8 L622.9,655.8 L618.9,655.0 L614.2,651.8 L609.5,649.5 L604.7,649.1 L600.0,650.3 L596.0,653.4 L595.2,658.1 L592.9,662.1 L587.4,664.5 L581.8,666.8 L577.1,670.0 L572.4,673.1 L570.3,677.1 L571.6,681.8 L576.3,684.2 L582.6,683.9 L588.9,682.9 L595.2,682.3 L600.8,681.8 L603.9,684.2 L606.3,688.1 L607.1,692.1 L603.1,690.5 L599.2,687.3 L595.2,685.8 L592.1,688.9 L585.8,689.7 L579.5,690.5 L573.9,692.9 L570.8,697.6 L568.4,702.3 L566.0,707.1 L563.7,711.8 L566.0,715.0 L570.0,718.9 L567.6,720.5 L563.7,718.9 L560.5,720.5 L558.2,725.2 L557.0,730.0 L558.2,734.7 L555.0,736.3 L550.3,737.1 L547.1,738.7 L551.0,740.2 L555.8,739.4 L557.4,743.4 L555.8,747.3 L558.9,750.5 L562.9,752.9 L566.8,756.0 L570.0,760.0 L569.2,765.5 L566.8,769.4 L564.5,773.4 M578.7,624.2 L585.8,622.9 L593.7,622.0 L603.1,621.4 L612.6,621.0 L618.9,620.7 M609.5,640.8 L615.8,638.4 L622.1,636.8 L626.0,635.3 M534.5,781.0 L539.2,778.7 L544.7,779.5 L549.5,778.7 L554.2,780.3 L558.9,779.5 L562.1,781.8 L559.7,785.8 L555.0,787.4 L551.0,790.5 L554.2,793.7 L558.9,795.2 M511.6,792.1 L515.5,787.4 L519.5,788.9 L517.9,794.5 L521.8,798.4 L520.3,803.1 L516.3,802.4 L513.9,807.9 L517.9,811.8 M562.1,809.5 L567.6,807.9 L573.1,808.7 L577.9,810.2 L582.6,809.5 M558.9,828.4 L563.7,826.0 L568.4,827.6 M618.9,841.0 L617.3,847.3 L614.2,850.5 M622.1,860.0 L618.9,864.7 L616.5,869.4 M527.4,778.7 L526.6,785.8 L525.0,793.7 L523.9,801.6 L522.9,809.5 L522.0,815.8 M507.6,763.7 L510.8,757.4 L516.3,753.4 L522.6,751.8 L527.4,754.2 L524.2,758.2 L519.5,759.7 L517.1,763.7 L521.0,766.8 L527.4,767.6 L533.7,766.0 L538.4,768.4 L534.5,770.8 L527.4,771.6 L519.5,770.8 L513.1,769.2 Z M536.8,754.2 L542.4,751.8 L547.9,753.4 L551.8,750.3 L554.2,754.2 L552.6,758.9 L549.5,762.9 L553.4,766.8 L551.0,770.8 L546.3,769.2 L543.1,765.3 L539.2,763.7 L535.2,760.5 L534.5,756.6 Z M554.2,740.0 L558.9,744.7 L562.1,751.0 L566.0,755.8 L570.0,760.5 L568.4,766.8 L565.2,771.6 L560.5,770.0 L557.3,765.3 L558.9,760.5 L555.8,756.6 M520.3,760.5 L525.8,762.1 L532.1,761.3 L537.6,762.9 L543.1,761.3 L547.9,762.1 M501.3,792.1 L503.7,787.4 L508.4,785.8 L511.6,788.9 L510.8,793.7 L513.9,796.8 L517.1,793.7 L521.0,795.2 L520.3,801.6 L517.9,806.3 L521.0,811.0 L525.8,814.2 L526.6,819.7 L522.6,822.1 L517.9,819.7 L514.7,815.8 L511.6,811.8 L510.0,806.3 L512.4,801.6 L509.2,798.4 L505.3,796.8 Z M534.5,796.0 L538.4,792.1 L543.1,790.5 L546.3,786.6 L550.2,783.4 L554.2,782.6 L558.9,785.0 L562.1,789.7 L563.7,795.2 L562.1,800.8 L557.3,803.1 L552.6,800.8 L549.5,796.8 L544.7,798.4 L540.0,800.0 L536.0,799.2 Z M532.9,786.6 L536.8,785.0 L539.2,787.4 L536.0,788.9 Z M546.3,779.5 L551.0,777.9 L555.8,779.5 L560.5,778.7 L563.7,781.0 M585.0,792.1 L587.3,789.7 L590.5,791.3 L591.3,795.2 L589.7,799.2 L593.7,801.6 L598.4,802.4 L603.1,803.1 L601.5,807.1 L596.8,808.7 L591.3,807.1 L587.3,804.7 L583.4,806.3 L577.9,805.5 L572.3,804.7 L566.8,805.5 L561.3,807.1 L557.3,809.5 L555.8,813.4 L558.1,817.3 L563.7,815.8 L569.2,814.2 L574.7,813.4 L579.4,815.8 L583.4,819.7 L586.6,823.7 L590.5,828.4 L596.8,831.6 L593.7,833.9 L588.9,832.3 L585.0,830.0 L581.0,833.1 L576.3,834.7 L571.6,833.1 L568.4,829.2 L566.0,824.5 L566.8,819.7 L570.8,818.1 M557.3,822.1 L558.9,817.3 L563.7,816.6 L567.6,818.9 L568.4,823.7 L570.8,828.4 L573.1,833.1 L571.6,837.1 L566.8,838.7 L562.1,837.1 L558.9,833.1 L556.6,827.6 Z M570.0,818.9 L574.7,818.1 L578.7,820.5 L581.8,824.5 L584.2,828.4 L581.0,830.0 L576.3,828.4 L572.3,825.2 Z M582.6,800.0 L585.0,795.2 L585.8,791.3 M540.8,823.7 L541.6,817.3 L544.7,813.4 L548.7,815.8 L551.0,820.5 L552.6,826.0 L553.4,831.6 L551.0,836.3 L547.1,837.9 L543.9,834.7 L541.9,829.2 Z M519.5,860.0 L523.4,855.2 L528.1,852.1 L532.9,848.9 L536.8,844.2 L540.0,841.0 L543.1,843.4 L540.8,847.3 L543.9,848.9 L547.9,845.8 L551.8,844.2 L555.8,846.6 L558.1,851.3 L557.3,857.6 L554.2,863.1 L550.2,866.3 L546.3,864.7 L543.1,867.9 L538.4,870.2 L533.7,872.6 L528.9,875.0 L524.2,875.8 L520.3,874.2 L517.9,869.4 L518.7,864.7 Z M519.5,845.8 L518.7,852.1 L517.9,858.4 L517.1,864.7 L515.5,871.0 L513.9,876.5 L516.3,878.9 M508.4,874.2 L513.1,873.4 L517.1,875.0 M502.1,884.4 L506.0,881.8 L510.8,882.1 L513.9,884.4 L511.6,888.1 L506.8,889.2 L503.4,887.6 Z M483.2,814.2 L486.3,809.5 L491.8,807.9 L496.6,810.2 L495.0,814.2 L491.0,815.8 L493.4,818.9 L497.0,822.1 L495.8,826.8 L491.0,829.2 L486.3,826.8 L487.1,822.1 L483.9,818.9 Z M574.7,843.4 L579.4,842.6 L583.4,845.0 L581.8,848.9 L576.3,849.7 L573.1,852.1 L574.7,856.8 L572.3,860.8 L574.7,864.7 L577.1,868.7 L574.7,872.6 L577.9,875.8 L581.0,878.9 L580.2,883.6 L584.2,886.0 L590.5,884.4 L592.9,880.5 L593.7,875.8 L596.0,871.8 L598.4,867.9 M618.9,841.0 L622.1,838.7 L625.2,841.0 L624.9,847.3 L625.5,853.7 L624.4,859.2 L627.6,861.5 L631.5,860.8 L636.3,861.5 L639.4,864.7 L641.0,860.0 L645.0,857.6 L647.3,853.7 L650.5,850.5 L654.4,847.3 M612.6,850.5 L615.8,848.9 L617.3,852.9 L614.2,855.2 Z M609.4,861.5 L613.4,860.0 L614.2,863.9 L611.0,865.5 Z M598.4,867.9 L602.3,864.7 L606.3,866.3 L610.2,868.7 L613.4,873.4 L614.2,878.9 L611.8,882.9 L607.1,883.6 L603.1,881.3 L600.8,876.5 L599.2,871.8 Z M618.9,871.0 L622.1,866.3 L626.8,864.7 L631.5,865.5 L633.9,868.7 L631.5,871.0 L626.8,870.2 L622.9,872.6 L625.2,875.8 L630.0,876.5 L635.5,875.8 L637.9,878.9 L635.5,882.1 L630.7,884.4 L626.0,882.9 L622.1,879.7 M614.2,882.9 L618.9,886.0 L622.1,887.6 M577.1,908.9 L578.7,904.2 L582.6,901.0 L585.8,896.3 L590.5,895.5 L593.7,898.6 L597.6,900.2 L602.3,899.4 L605.5,902.6 L604.7,907.3 L601.5,911.3 L597.6,909.7 L594.4,905.7 L590.5,907.3 L586.6,910.5 L581.8,912.8 L578.7,912.1 Z M657.6,834.7 L663.1,830.8 L669.4,826.8 L675.7,822.9 L680.0,822.1 M657.6,861.5 L664.7,862.3 L672.6,860.8 L680.0,856.8 M640.0,861.5 L643.9,860.0 L646.3,855.2 L644.7,851.3 L648.7,848.9 L653.4,845.0 L655.8,841.0 L657.4,834.7 L662.9,832.3 L668.4,829.2 L673.1,826.0 L677.1,822.9 L682.6,822.9 L687.4,819.7 L690.5,815.8 L693.7,811.8 L696.0,814.2 L698.4,818.1 L702.4,818.9 L706.3,816.6 L710.2,818.1 L711.8,822.1 L710.2,826.0 L706.3,829.2 L702.4,828.4 L700.8,824.5 L696.8,826.8 L694.5,831.6 L696.0,836.3 L692.1,835.5 L688.9,832.3 L685.0,833.1 L681.8,836.3 L677.9,839.4 L674.7,843.4 L673.9,848.1 L677.9,849.7 L683.4,847.3 L687.4,845.0 L692.1,845.8 L696.0,849.7 L699.2,855.2 L702.4,860.0 L706.3,862.3 L709.5,860.0 L707.9,856.8 L711.8,855.2 L715.8,852.9 L719.7,850.5 L723.7,848.1 L722.1,845.0 L717.3,845.8 L712.6,844.2 L709.5,841.0 L711.8,837.9 L717.3,838.7 L722.9,841.0 L728.4,842.6 L733.1,840.2 L733.9,835.5 L730.8,831.6 L726.0,828.4 L722.1,824.5 L718.9,819.7 L715.8,815.0 L711.8,812.6 L714.2,809.5 L718.9,807.9 L722.1,804.7 L717.3,803.9 L712.6,803.1 L715.8,800.8 L722.1,800.8 L728.4,800.0 L733.1,796.8 L735.5,792.9 L737.9,796.0 L739.4,801.6 L741.8,806.3 L745.0,811.0 L745.8,816.6 L742.6,820.5 L741.8,826.0 L744.2,830.8 L748.9,832.3 L753.7,834.7 L756.0,830.8 L754.4,826.0 L752.9,821.3 L756.8,818.1 L762.3,817.3 L767.9,817.3 L771.8,815.0 L773.4,809.5 L775.0,803.9 L776.5,800.0 L771.0,800.0 L764.7,800.8 L760.0,802.4 L756.0,803.9 L752.1,801.6 L748.9,797.6 L745.8,793.7 L745.0,788.1 L748.1,784.2 L751.3,785.8 L749.7,790.5 L752.9,792.1 L758.4,789.7 L763.1,787.4 L766.3,783.4 L768.7,778.7 L774.2,779.5 L780.5,781.0 L786.8,781.8 L793.1,782.6 L797.9,779.5 L799.4,773.9 L802.6,771.6 M797.9,779.5 L793.9,785.8 L790.0,788.9 L786.0,793.7 L784.4,799.2 L786.0,804.7 L787.6,811.0 L789.2,816.6 L792.3,818.9 L796.3,817.3 L797.9,812.6 L801.0,810.2 L805.0,814.2 L805.7,818.9 L807.3,822.1 M796.3,785.8 L797.9,792.1 L799.4,797.6 L802.6,802.4 L807.3,803.1 L810.5,802.4 M804.2,785.8 L807.3,790.5 L805.7,795.2 L808.9,798.4 M770.2,834.7 L771.0,829.2 L774.2,825.2 L777.3,820.5 L780.5,821.3 L781.3,826.8 L783.6,832.3 L782.9,837.9 L778.9,841.0 L774.2,840.2 Z M765.5,848.1 L769.4,846.1 L774.2,847.3 L778.9,851.3 L778.9,855.2 L774.2,854.9 L769.4,852.9 Z M671.6,860.0 L675.5,856.8 L681.8,856.0 L688.1,857.6 L690.5,861.5 L687.4,865.5 L681.0,866.3 L675.5,864.7 Z M725.2,858.4 L729.2,856.0 L734.7,856.8 L738.7,860.8 L737.1,865.5 L732.3,866.3 L728.4,863.1 Z M651.8,863.1 L657.4,860.8 L663.7,861.5 L670.0,862.3 M815.2,770.0 L818.4,765.3 L822.3,762.1 L820.7,767.6 L820.0,774.7 L821.5,781.0 L825.5,785.8 L831.8,787.4 L837.3,790.5 L840.0,791.3 M816.8,792.1 L821.5,795.2 L824.7,800.0 L821.5,803.1 L823.9,807.9 L828.6,811.0 L831.8,814.2 L837.3,813.4 L840.0,812.6 M814.2,770.5 L818.2,765.8 L822.9,761.8 L821.3,767.4 L819.7,775.2 L818.9,781.6 L821.3,785.5 L826.8,786.3 L830.8,790.2 L836.3,791.0 L841.8,787.9 L845.8,784.7 L850.5,785.5 L854.5,788.7 L858.4,786.3 L862.4,783.1 L865.5,785.5 L866.3,789.5 L863.1,791.0 L867.1,794.2 L871.8,795.8 L876.6,794.2 L878.9,789.5 L878.1,783.1 L878.9,778.4 L883.7,776.8 L887.6,774.5 L889.2,769.7 L886.0,765.8 L881.3,765.0 L875.8,765.8 L871.8,767.4 L869.5,771.3 L874.2,769.7 L880.5,768.9 L885.2,767.4 M886.0,759.5 L891.6,758.7 L897.9,759.5 L903.4,761.8 L907.3,765.8 L910.5,765.8 L907.3,759.5 L904.2,753.1 L902.6,746.8 L904.2,742.1 L907.3,743.7 L908.9,749.2 L912.1,752.4 L916.8,753.1 L920.8,753.9 L924.7,757.1 L929.4,759.5 L933.4,757.9 L935.8,761.0 L938.9,763.4 L942.1,761.8 L946.8,759.5 L951.5,756.3 L955.5,752.4 L958.6,748.4 L956.3,753.9 L955.5,759.5 L957.9,764.2 L961.0,766.6 L964.2,767.4 M869.5,771.3 L871.8,767.4 L877.3,762.6 L882.1,760.3 L886.0,759.5 M969.7,765.8 L973.6,761.8 L978.4,759.5 L983.1,760.3 L987.8,757.1 L992.6,753.9 L997.3,751.6 L1000.0,748.4 M888.4,794.2 L893.1,791.0 L899.4,789.5 L905.8,788.7 L910.5,790.2 L912.9,787.9 L910.5,784.7 L907.3,782.4 L912.1,781.6 L917.6,780.8 L922.3,779.2 L924.7,782.4 L926.3,787.9 L927.9,793.4 L928.7,798.9 L926.3,802.1 L924.7,806.8 L921.5,808.4 L918.4,806.0 L916.0,810.0 L914.4,813.9 L918.4,814.7 L920.8,817.9 L917.6,821.0 L913.7,820.2 L908.9,821.0 L904.2,821.8 L901.8,818.7 L905.0,816.3 L907.3,813.1 L904.2,810.8 L900.2,810.0 L897.9,806.0 L901.8,803.7 L905.8,802.1 L904.2,798.9 L898.7,799.7 L893.9,801.3 L890.0,798.9 L887.6,795.8 Z M921.5,772.1 L924.7,770.5 L926.3,774.5 L923.1,776.0 Z M937.3,767.4 L941.3,766.6 L942.9,770.5 L941.3,774.5 L938.9,772.1 Z M842.6,802.9 L844.2,799.7 L848.1,798.6 L851.3,800.5 L852.1,804.5 L849.3,807.6 L845.0,806.8 Z M867.9,802.1 L871.0,798.1 L875.8,796.6 L879.7,798.9 L881.3,803.7 L879.7,809.2 L876.6,813.1 L872.6,811.6 L870.2,807.6 Z M800.0,787.9 L804.7,790.2 L807.9,794.2 L805.5,798.1 L809.5,800.5 L814.2,797.3 L817.4,794.2 L820.5,797.3 L823.7,801.3 L820.5,804.5 L815.8,802.9 L813.4,806.0 L815.8,810.8 L819.7,813.9 L821.3,818.7 L818.2,822.6 L813.4,821.8 L809.5,817.9 L806.3,821.0 L802.4,817.9 L800.0,814.7 M815.8,789.5 L818.9,792.6 L822.1,791.0 M1015.2,830.8 L1021.6,828.1 L1027.9,826.0 L1032.6,822.9 L1037.3,821.3 L1042.1,822.9 L1044.5,827.6 L1044.5,833.9 L1042.9,840.3 L1040.5,845.8 L1037.3,850.5 L1033.4,854.5 L1030.2,858.4 L1027.9,863.1 L1029.5,867.9 L1031.0,873.4 L1029.5,878.1 L1025.5,881.3 L1022.4,885.2 L1019.2,888.4 M1015.2,831.6 L1014.5,837.1 L1012.9,841.8 L1015.2,845.8 L1013.7,850.5 L1012.1,855.2 L1011.3,860.8 L1009.7,866.3 L1008.9,871.0 L1010.5,874.2 M1002.6,874.2 L1007.4,872.6 L1013.7,873.4 L1020.0,874.2 L1023.1,878.9 L1022.4,885.2 L1020.8,891.6 L1019.2,897.9 L1015.2,902.6 L1013.7,908.9 L1010.5,913.7 L1005.8,916.8 L1001.0,918.4 L996.3,916.0 L993.1,911.3 L992.4,905.0 L993.9,897.9 L995.5,891.6 L997.1,885.2 L998.7,879.7 Z M993.1,911.3 L999.5,907.3 L1005.8,903.4 L1012.1,899.4 L1017.6,896.3 L1022.4,894.7 M1001.0,886.0 L1005.8,883.7 L1010.5,880.5 M1012.1,860.0 L1016.0,859.2 L1014.5,863.1 M1023.1,867.9 L1027.9,867.1 L1030.2,870.2 M1012.1,874.2 L1016.8,877.3 L1015.2,882.1 L1019.2,883.7 L1016.8,887.6 M1073.7,951.5 L1080.0,952.3 L1086.3,953.9 L1088.7,957.9 L1089.4,962.6 L1093.4,965.7 L1094.2,971.3 L1092.6,974.4 L1086.3,973.6 L1081.5,975.2 L1077.6,974.4 L1073.7,972.1 L1070.5,968.1 L1068.9,963.4 L1070.5,959.4 L1072.9,955.5 Z M1200.0,961.6 L1195.7,966.3 L1192.6,971.0 L1188.6,975.0 L1183.9,978.2 L1178.4,980.5 L1172.8,979.7 L1169.7,981.3 L1165.0,983.7 L1160.2,985.3 L1155.5,984.5 L1150.0,985.3 L1146.8,983.7 L1148.4,987.6 L1144.4,991.6 L1140.5,993.9 L1138.1,998.7 L1141.3,1001.0 L1146.8,1001.8 L1150.7,1002.6 L1148.4,1005.8 L1142.9,1006.6 L1137.3,1007.4 L1132.6,1008.9 L1128.7,1011.3 L1127.1,1015.2 L1126.3,1018.4 M1169.7,981.3 L1174.4,983.7 L1181.5,983.7 L1187.1,986.0 L1187.1,990.8 L1183.1,993.9 L1176.8,993.9 L1172.1,995.5 L1168.9,997.9 L1165.7,995.5 L1164.2,991.6 L1167.3,989.2 L1165.0,986.0 M1123.1,1017.6 L1120.0,1014.5 L1117.6,1011.3 L1116.8,1007.4 L1113.7,1004.2 L1109.7,1002.6 L1105.0,1002.6 L1101.0,1001.0 L1098.7,1005.0 L1095.5,1008.9 L1091.6,1012.1 L1090.0,1016.0 L1093.1,1019.2 L1097.9,1020.0 L1102.6,1018.4 L1103.4,1014.5 L1101.0,1012.1 M1102.6,1018.4 L1104.2,1022.4 L1102.6,1027.1 L1098.7,1030.2 L1097.1,1034.2 L1098.7,1038.9 L1100.2,1043.7 L1097.1,1042.1 L1094.7,1038.1 L1092.3,1034.2 L1088.4,1031.0 L1083.7,1029.5 L1078.9,1030.2 L1075.0,1031.8 L1072.6,1027.9 L1069.5,1026.3 L1066.3,1029.5 L1062.4,1030.2 L1058.4,1027.9 L1054.5,1024.7 L1050.5,1023.1 L1047.4,1026.3 L1043.4,1029.5 L1039.5,1031.8 L1036.3,1035.0 L1035.5,1039.7 L1032.4,1043.7 L1030.8,1048.4 L1027.6,1051.6 L1023.7,1053.9 L1020.5,1057.1 L1022.1,1060.2 L1026.8,1061.0 L1032.4,1058.7 L1037.1,1055.5 L1041.0,1051.6 L1045.0,1047.6 L1048.1,1043.7 L1050.5,1038.9 L1052.9,1034.2 L1054.5,1030.2 M1050.5,1046.0 L1053.7,1050.8 L1057.6,1053.9 L1062.4,1055.5 L1067.1,1057.9 L1070.2,1061.8 L1073.4,1065.8 L1077.3,1064.2 L1082.1,1065.8 L1086.0,1068.1 L1083.7,1072.1 L1085.2,1076.8 L1090.0,1076.0 L1094.7,1077.6 L1100.2,1078.4 L1105.0,1077.6 L1108.9,1080.0 L1112.9,1083.1 L1116.8,1085.5 M1050.5,1038.9 L1049.7,1043.7 L1050.5,1046.0 M1073.4,1065.8 L1071.0,1070.5 L1069.5,1076.8 L1067.9,1083.1 L1066.3,1089.4 L1065.5,1095.8 L1068.7,1099.7 L1072.6,1102.9 L1074.2,1107.6 L1078.1,1111.5 L1080.5,1116.3 L1085.2,1117.1 L1089.2,1119.4 L1092.3,1124.2 L1095.5,1128.1 L1099.4,1131.3 L1098.7,1135.2 L1094.7,1137.6 L1092.3,1141.5 L1090.0,1146.3 L1086.8,1150.2 L1082.9,1153.4 L1085.2,1154.9 L1090.8,1151.8 L1094.7,1147.1 L1098.7,1143.1 L1103.4,1141.5 L1107.3,1138.4 L1110.5,1133.6 L1113.7,1128.9 L1116.8,1125.0 L1120.8,1125.7 L1124.7,1126.5 M1077.3,1070.5 L1080.5,1076.8 L1082.9,1083.1 L1086.8,1085.5 L1090.8,1087.9 L1093.1,1092.6 L1091.6,1098.1 L1090.8,1103.6 L1094.7,1107.6 L1098.7,1111.5 L1102.6,1109.2 L1107.3,1106.8 L1112.1,1108.4 L1116.8,1110.7 L1122.3,1112.3 L1120.0,1106.8 L1116.8,1102.1 L1113.7,1097.3 L1112.9,1092.6 L1115.2,1088.7 M1162.6,1056.3 L1168.9,1061.0 L1175.2,1064.2 L1181.5,1065.0 L1185.5,1068.9 L1190.2,1073.7 L1191.8,1080.0 L1191.8,1087.9 L1192.6,1094.2 L1195.7,1098.9 L1200.0,1102.1 M1144.4,1070.5 L1147.6,1076.8 L1151.5,1083.1 L1156.3,1087.9 L1158.6,1093.4 L1156.3,1097.3 L1151.5,1098.9 L1146.8,1102.1 L1142.1,1105.2 L1139.7,1107.6 L1144.4,1110.0 L1149.2,1112.3 L1153.9,1110.7 L1158.6,1107.6 L1164.2,1106.0 L1170.5,1106.0 L1176.0,1108.4 L1180.0,1113.1 L1182.3,1119.4 L1181.5,1125.7 L1179.2,1132.1 L1175.2,1136.8 L1169.7,1140.0 L1164.2,1141.5 L1160.2,1144.7 L1155.5,1147.8 L1150.7,1148.6 L1147.6,1144.7 L1145.2,1140.0 L1144.4,1136.0 L1148.4,1133.6 L1153.1,1131.3 L1156.3,1128.1 L1157.9,1124.2 L1156.3,1120.2 L1152.3,1117.9 L1147.6,1117.9 L1142.1,1118.6 L1136.5,1120.2 L1131.8,1122.6 L1127.1,1125.7 M1148.4,1121.0 L1150.0,1117.1 L1153.9,1115.5 L1157.9,1117.1 L1159.4,1121.0 L1157.9,1125.0 L1153.9,1126.5 L1150.0,1125.0 Z M1200.0,1141.5 L1194.2,1143.9 L1189.4,1147.1 L1187.1,1151.8 L1189.4,1155.7 L1193.4,1154.2 M1045.5,1012.1 L1047.4,1008.9 L1052.1,1007.0 L1056.8,1008.1 L1058.7,1011.3 L1056.0,1014.5 L1050.5,1015.2 Z M1125.3,1015.7 L1129.2,1011.0 L1133.9,1008.6 L1139.5,1007.1 L1145.0,1006.3 L1150.5,1003.9 L1147.4,1001.5 L1141.8,1001.5 L1137.9,998.4 L1140.3,994.4 L1145.8,992.1 L1148.9,988.1 L1146.6,984.2 L1150.5,986.5 L1155.2,985.0 L1160.0,985.7 L1164.7,984.2 L1169.5,980.2 L1174.2,982.6 L1180.5,981.8 L1186.8,977.9 L1191.6,973.9 L1195.5,970.0 L1197.1,965.2 L1193.9,962.1 L1194.7,958.1 L1198.7,954.2 L1202.6,951.8 L1207.3,949.4 L1213.7,948.7 L1220.0,947.9 L1224.7,944.7 L1229.4,941.5 L1235.8,940.0 L1242.1,939.2 L1248.4,940.0 L1253.9,941.5 L1259.4,940.8 L1264.2,938.4 L1268.9,936.0 L1273.6,934.4 L1279.2,933.7 M1160.0,985.7 L1163.1,989.7 L1160.8,992.8 L1164.7,995.2 L1169.5,997.6 L1174.2,994.4 L1180.5,992.8 L1185.2,991.3 L1186.8,985.7 L1183.7,982.6 M1100.0,1001.5 L1104.7,1000.7 L1109.5,1001.5 L1114.2,1004.7 L1116.6,1009.4 L1118.9,1014.2 L1122.1,1017.3 M1279.2,861.8 L1273.6,863.4 L1269.7,866.6 L1270.5,870.5 L1275.2,870.5 L1279.2,868.9 M1279.2,872.1 L1272.1,874.5 L1265.0,876.0 L1263.4,880.8 L1261.0,886.3 L1262.6,891.0 L1265.7,895.8 L1268.1,901.3 L1266.5,906.0 L1262.6,909.2 L1258.6,912.3 L1259.4,917.1 L1262.6,921.0 L1265.7,925.0 L1267.3,930.5 L1265.0,936.8 L1261.8,941.5 L1264.2,946.3 L1269.7,944.7 L1273.6,940.8 L1279.2,936.8 M1279.2,951.0 L1275.2,955.8 L1274.4,960.5 L1279.2,961.3 M1199.9,1102.1 L1204.2,1105.8 L1209.7,1110.5 L1214.4,1114.4 L1218.4,1118.4 L1220.8,1123.1 L1219.2,1127.9 L1216.0,1131.8 L1210.5,1134.2 L1205.0,1137.3 L1199.4,1140.5 L1193.9,1143.6 M1194.7,1145.2 L1202.6,1144.4 L1210.5,1142.9 L1218.4,1141.3 L1224.7,1140.5 L1229.4,1142.1 L1226.3,1146.8 L1221.5,1150.7 L1216.8,1154.7 L1212.1,1157.9 L1214.4,1161.0 L1218.4,1164.2 M1193.3,1154.2 L1195.5,1150.7 L1193.1,1148.4 M1190.8,1157.9 L1194.7,1161.0 L1197.1,1165.0 M1167.9,1165.0 L1174.2,1162.6 L1180.5,1161.0 L1186.0,1163.4 M1125.3,1161.0 L1131.6,1159.4 L1137.9,1157.9 L1144.2,1157.1 L1149.7,1158.6 L1153.7,1162.6 L1155.2,1165.0 M910.1,1124.2 L912.5,1121.2 L916.6,1120.6 L919.0,1123.6 L920.8,1127.1 L925.5,1126.0 L930.3,1123.6 L935.0,1120.6 L938.5,1118.3 L940.9,1121.8 L942.1,1126.5 L942.7,1131.3 L945.6,1134.8 L949.2,1137.8 L952.7,1140.8 L950.4,1143.1 L945.6,1142.5 L940.9,1141.9 L936.2,1141.3 L932.6,1143.1 L933.8,1147.3 L935.0,1151.4 L932.0,1154.4 L927.9,1152.6 L924.3,1149.6 L919.6,1148.4 L914.9,1149.6 L910.1,1149.0 L906.6,1146.7 L904.8,1143.7 L907.8,1140.8 L911.9,1139.6 L913.1,1135.4 L911.9,1131.3 L911.3,1127.7 Z M939.7,1120.6 L942.1,1114.7 L946.8,1111.2 L950.4,1108.2 L953.9,1110.0 L951.6,1114.7 L948.6,1118.3 L945.0,1120.6 L942.1,1121.8 Z M955.1,1110.0 L958.1,1105.2 L961.0,1101.7 L964.0,1097.0 L965.8,1092.8 L963.4,1091.0 L959.8,1095.8 L956.9,1100.5 L954.5,1105.2 Z M956.3,1097.0 L959.8,1095.8 L962.2,1098.1 M958.7,1112.3 L961.0,1115.9 L959.3,1119.4 M962.2,1102.9 L964.6,1107.6 L962.8,1111.2 M945.6,1117.1 L947.4,1115.3 L949.8,1116.5 L949.2,1118.9 L946.8,1119.4 Z M970.5,1091.0 L974.1,1092.2 L977.6,1093.4 L981.2,1095.8 L980.0,1099.3 L982.3,1102.9 L983.5,1107.6 L981.2,1111.2 L978.8,1114.7 L975.8,1116.5 L973.5,1113.5 L972.9,1108.8 L971.7,1104.1 L970.5,1099.3 L969.3,1095.8 Z M980.0,1091.0 L984.7,1089.8 L990.6,1087.5 L995.4,1086.3 L996.5,1089.8 L993.0,1093.4 L989.4,1097.0 L985.9,1099.3 L983.5,1101.7 M985.9,1099.3 L990.0,1101.7 L988.3,1104.1 M978.2,1045.5 L980.6,1041.9 L984.7,1039.9 L989.4,1039.5 L992.0,1041.9 L991.8,1045.5 L989.4,1049.0 L984.7,1050.2 L980.6,1049.0 Z M960.0,340.0 L969.1,348.1 L977.5,355.4 L978.0,364.5 L984.5,369.8 L989.6,380.9 L996.9,388.3 L1005.0,400.4 L1010.3,409.7 L1019.4,417.8 L1022.9,432.2 L1026.7,441.6 L1035.8,451.7 L1031.8,458.0 L1032.8,469.9 M1249.7,381.2 L1257.8,377.4 L1266.7,376.9 L1266.7,386.3 L1261.6,391.3 L1254.0,390.0 L1249.7,385.0 Z M1031.8,460.0 L1034.3,467.6 L1036.8,480.2 L1040.6,492.8 L1041.9,502.9 L1039.4,510.5 L1034.3,518.1 L1033.0,525.7 L1035.1,535.8 L1036.8,545.9 L1035.6,554.7 L1030.5,561.0 L1027.5,568.6 L1026.7,578.7 L1026.7,588.8 L1030.5,593.9 L1031.8,601.4 L1033.0,606.5 L1026.7,610.3 L1028.0,614.1 L1036.8,617.9 L1040.6,614.1 L1048.2,609.0 L1054.5,605.2 L1058.3,611.5 L1059.6,617.9 L1053.2,624.2 L1052.0,634.3 L1049.5,644.4 L1046.9,654.5 L1043.1,664.6 L1039.4,672.2 L1036.8,677.2 L1039.4,682.3 L1040.1,689.8 L1038.1,697.4 L1034.3,702.5 L1030.5,699.9 L1026.7,693.6 L1025.0,692.4 L1026.7,698.7 L1025.5,706.3 L1024.2,712.6 L1022.9,717.6 L1017.9,720.1 L1012.8,723.9 L1009.0,725.2 L1008.3,731.5 L1006.5,737.8 L1002.7,742.9 L998.9,747.9 L995.2,750.4 L987.6,750.4 L983.8,751.7 L985.1,755.5 L980.0,759.3"/>
<path fill="#000" stroke="#000" stroke-width="2.5" stroke-linejoin="round" d="M537.0,681.0 L542.1,678.5 L548.4,679.2 L545.8,684.8 L539.5,686.0 Z M355.2,916.4 L360.2,915.1 L364.8,921.4 L364.0,926.0 L358.9,922.7 Z M697.9,920.9 L701.7,919.4 L705.0,924.0 L706.0,929.0 L702.4,928.5 L699.1,924.5 Z M345.5,333.4 L347.9,331.4 L350.2,332.9 L349.5,336.1 L346.6,337.4 Z M363.7,337.4 L366.8,335.0 L371.6,334.2 L373.4,336.1 L370.8,338.6 L366.0,339.9 Z M376.0,352.4 L378.7,348.4 L384.2,345.2 L390.5,342.9 L396.0,341.8 L397.1,344.0 L392.9,347.6 L387.3,350.8 L381.8,353.9 L377.9,355.0 Z M447.3,357.9 L449.7,355.5 L453.3,356.3 L454.4,359.8 L452.1,362.6 L448.6,361.8 Z M403.1,342.1 L407.9,339.7 L412.6,340.5 L411.0,343.7 L406.3,345.2 Z M601.0,354.7 L607.3,356.3 L613.6,359.5 L618.1,362.9 L612.1,363.9 L605.8,361.0 L601.8,357.9 Z M502.9,836.3 L506.8,833.1 L512.4,833.9 L515.5,837.9 L513.9,843.4 L510.0,848.1 L505.3,848.9 L502.9,844.2 Z M659.2,871.8 L663.9,874.2 L671.0,876.5 L667.8,879.7 L663.1,882.9 L660.0,878.9 Z M581.0,905.7 L584.2,903.4 L587.3,905.0 L585.0,908.1 Z M845.5,831.3 L848.9,828.6 L854.5,829.2 L858.7,831.3 L857.6,835.2 L852.9,837.1 L848.1,837.6 Z M863.1,799.7 L867.1,798.1 L869.5,801.3 L866.3,804.5 L863.1,802.9 Z M1013.7,877.3 L1017.6,876.6 L1018.7,880.5 L1016.0,883.7 L1013.4,881.3 Z M1068.9,964.2 L1073.7,962.6 L1076.0,967.3 L1072.9,971.3 L1069.7,968.9 Z M1019.7,1056.3 L1023.7,1053.9 L1027.6,1054.7 L1026.0,1059.4 L1022.1,1061.0 Z M1070.2,1064.2 L1074.2,1061.0 L1078.9,1063.4 L1080.5,1068.1 L1077.3,1072.1 L1072.6,1070.5 Z M1090.0,1095.8 L1093.1,1093.4 L1094.7,1098.1 L1093.1,1102.9 L1090.3,1101.3 Z M1081.3,1151.8 L1084.5,1149.4 L1086.8,1151.8 L1084.5,1154.9 Z M1091.6,1132.1 L1096.3,1129.7 L1101.0,1131.3 L1097.9,1135.2 L1093.1,1136.0 Z M982.9,1060.8 L985.9,1060.3 L987.7,1063.8 L988.0,1069.7 L986.5,1075.6 L984.7,1081.6 L982.3,1086.3 L978.8,1089.8 L974.6,1090.4 L972.9,1086.3 L974.1,1081.6 L977.6,1079.2 L980.0,1074.5 L981.2,1068.5 L981.7,1063.8 Z M955.1,1102.9 L958.7,1098.1 L962.2,1095.8 L961.0,1101.7 L958.1,1106.4 Z"/>
<path fill="none" stroke="#000" stroke-width="5.0" stroke-linejoin="round" stroke-linecap="round" d="M77.0,188.9 L88.6,220.9 M88.6,220.9 L77.2,229.6 M164.6,194.7 L174.5,226.8 M172.6,220.7 L166.8,224.7 M170.6,130.3 L173.3,160.3 M172.8,154.7 L166.9,157.1 M251.8,201.0 L245.6,233.6 M246.8,227.5 L239.9,228.3 M69.9,257.8 L80.5,289.1 M78.5,283.3 L72.9,287.3 M157.2,263.4 L158.1,296.7 M158.0,290.5 L151.4,292.7 M244.2,269.2 L254.8,301.3 M254.8,301.3 L243.3,309.5 M63.0,326.0 L69.9,358.1 M69.9,358.1 L58.0,364.8 M149.5,331.8 L163.0,362.4 M163.0,362.4 L152.5,371.6 M236.2,337.4 L240.2,369.9 M240.2,369.9 L227.7,375.6 M323.2,343.7 L331.8,375.8 M331.8,375.8 L320.1,383.2 M55.4,394.2 L56.1,427.5 M56.1,427.5 L42.9,432.0 M56.0,423.4 L49.4,425.6 M142.0,400.5 L140.7,433.8 M140.7,433.8 L127.3,437.5 M140.9,429.7 L134.2,431.5 M228.4,406.3 L234.1,438.9 M234.1,438.9 L221.8,445.2 M233.4,434.8 L227.2,438.0 M314.3,413.2 L320.0,445.7 M320.0,445.7 L307.7,452.1 M257.2,134.0 L241.9,161.1 M244.8,156.0 L238.4,154.7 M48.6,462.9 L50.8,497.0 M50.8,497.0 L37.4,502.1 M50.5,492.7 L43.8,495.3 M134.9,469.2 L136.2,503.0 M136.2,503.0 L122.8,507.8 M220.8,475.6 L222.0,507.6 M222.0,507.6 L209.4,512.1 M221.9,503.6 L215.6,505.8 M306.7,481.1 L307.4,514.7 M307.4,514.7 L294.1,519.1 M41.4,532.4 L39.0,563.7 M39.0,563.7 L26.2,566.6 M39.3,559.7 L32.9,561.2 M127.4,537.4 L129.8,570.7 M129.8,570.7 L116.8,575.9 M129.5,566.6 L123.0,569.1 M213.2,543.7 L215.0,577.0 M215.0,577.0 L201.9,581.9 M214.7,572.9 L208.2,575.3 M297.8,550.1 L298.6,583.4 M298.6,583.4 L285.3,587.8 M298.5,579.2 L291.9,581.4 M35.6,600.6 L31.4,633.9 M31.4,633.9 L17.6,636.4 M119.8,606.9 L119.8,639.4 M119.8,639.4 L106.7,643.5 M119.8,635.4 L113.3,637.4 M205.2,612.7 L206.9,646.5 M206.9,646.5 L193.6,651.4 M206.7,642.3 L200.0,644.7 M290.2,619.0 L288.2,652.1 M288.2,652.1 L274.8,655.4 M288.5,647.9 L281.8,649.6 M112.7,675.6 L114.7,709.1 M114.7,709.1 L101.5,714.1 M198.0,681.9 L194.3,714.7 M194.3,714.7 L180.7,717.3 M282.6,687.7 L280.2,721.0 M280.2,721.0 L266.5,724.2 M105.4,744.5 L106.1,777.8 M106.1,777.8 L92.9,782.3 M189.9,750.3 L187.7,783.6 M187.7,783.6 L174.1,786.9 M274.6,756.4 L275.1,789.7 M275.1,789.7 L261.8,794.1 M97.8,813.7 L95.8,846.5 M95.8,846.5 L82.4,849.8 M182.8,819.5 L177.9,852.8 M177.9,852.8 L164.0,855.0 M267.0,825.9 L262.5,859.2 M262.5,859.2 L248.6,861.5 M90.7,882.7 L86.2,916.0 M86.2,916.0 L72.3,918.4 M175.2,889.0 L167.8,921.6 M167.8,921.6 L153.9,922.7 M258.6,895.3 L251.9,927.4 M251.9,927.4 L238.3,928.7 M84.3,952.1 L75.2,984.2 M75.2,984.2 L61.2,984.6 M167.7,958.5 L164.0,991.8 M164.0,991.8 L150.2,994.4 M251.0,964.8 L241.1,995.6 M241.1,995.6 L227.6,995.5 M334.8,971.1 L326.2,1003.1 M326.2,1003.1 L312.3,1003.7 M77.5,1021.6 L71.8,1054.4 M71.8,1054.4 L58.0,1056.2 M160.1,1027.9 L154.4,1060.0 M154.4,1060.0 L140.9,1061.7 M244.1,1033.7 L232.8,1065.0 M232.8,1065.0 L218.8,1064.4 M326.7,1040.5 L309.4,1068.8 M312.6,1063.5 L305.9,1061.8 M340.7,902.4 L335.3,934.2 M335.3,934.2 L321.9,936.0 M71.2,1091.9 L63.5,1124.0 M65.0,1118.0 L58.1,1118.4 M153.0,1098.2 L147.6,1130.3 M148.6,1124.3 L141.9,1125.2 M235.8,1104.5 L222.2,1134.1 M224.8,1128.6 L218.0,1127.7 M319.0,1110.3 L296.3,1134.7 M300.6,1130.1 L294.3,1127.1 M62.9,1160.6 L61.7,1192.2 M437.4,151.0 L449.7,177.0 M447.4,172.1 L442.9,176.2 M427.3,214.1 L442.1,243.7 M439.3,238.2 L434.3,243.0 M513.3,221.1 L538.5,243.3 M533.8,239.1 L530.9,245.5 M522.7,151.5 L554.3,164.3 M548.4,161.9 L547.8,169.1 M610.7,160.1 L610.3,193.9 M610.3,187.6 L603.6,189.6 M600.5,228.1 L628.9,247.1 M623.5,243.6 L621.5,250.4 M417.4,282.2 L444.5,302.2 M439.4,298.4 L437.1,305.1 M591.2,296.5 L584.6,327.8 M585.8,321.9 L579.1,322.5 M409.5,351.3 L415.7,383.3 M415.7,383.3 L403.6,389.8 M495.9,357.6 L501.6,392.2 M501.6,392.2 L488.5,398.8 M400.7,418.2 L406.9,449.0 M406.9,449.0 L395.3,455.3 M392.3,488.2 L394.3,520.2 M394.3,520.2 L381.7,525.0 M477.7,494.5 L478.4,527.3 M478.4,527.3 L465.4,531.7 M384.2,556.9 L383.0,589.7 M383.0,589.7 L369.7,593.3 M469.3,563.4 L470.1,596.0 M470.1,596.0 L457.1,600.3 M554.7,570.8 L559.7,603.6 M559.7,603.6 L547.2,609.6 M639.7,577.8 L635.6,608.6 M635.6,608.6 L622.7,610.8 M636.1,604.8 L629.7,605.9 M649.4,509.6 L652.4,542.9 M651.8,536.7 L645.4,539.4 M375.3,625.8 L372.9,659.1 M372.9,659.1 L359.2,662.3 M460.7,632.1 L458.7,665.4 M458.7,665.4 L445.2,668.8 M545.8,639.2 L546.6,673.0 M546.6,673.0 L533.2,677.5 M630.5,647.3 L635.9,679.3 M634.9,673.3 L628.9,676.4 M366.5,694.0 L364.0,727.3 M364.0,727.3 L350.4,730.5 M451.6,700.8 L449.9,733.6 M449.9,733.6 L436.6,737.0 M536.5,708.4 L539.5,741.2 M538.9,735.1 L532.6,737.7 M487.3,425.8 L491.5,459.1 M491.5,459.1 L478.7,464.9 M572.3,433.4 L570.9,465.9 M571.1,459.8 L564.5,461.6 M357.7,762.2 L355.7,795.5 M355.7,795.5 L342.1,798.9 M442.8,768.5 L441.0,801.8 M441.0,801.8 L427.5,805.3 M351.3,833.4 L343.1,865.5 M343.1,865.5 L329.3,866.2 M434.6,840.3 L428.5,871.8 M429.6,865.9 L422.9,866.6 M519.8,846.6 L516.8,878.1 M517.4,872.2 L510.9,873.6 M527.4,778.4 L522.7,815.5 M523.5,808.5 L515.8,809.9 M612.8,784.9 L616.0,817.5 M615.4,811.4 L609.1,814.1 M425.8,909.2 L419.6,941.2 M420.8,935.2 L414.0,936.0 M510.3,916.2 L491.8,943.8 M495.2,938.7 L488.5,936.7 M593.5,922.8 L562.6,935.2 M568.4,932.9 L564.0,927.5 M418.1,978.6 L404.6,1009.0 M407.1,1003.3 L400.2,1002.5 M501.4,984.9 L479.2,1010.0 M483.3,1005.3 L476.9,1002.5 M584.6,992.3 L554.5,1007.1 M560.2,1004.4 L555.3,999.3 M409.9,1047.4 L382.0,1066.4 M387.2,1062.9 L381.7,1058.5 M492.9,1054.8 L459.1,1055.3 M465.4,1055.2 L463.2,1048.5 M575.8,1060.9 L543.7,1066.6 M543.7,1066.6 L537.4,1054.5 M402.3,1117.0 L373.2,1134.8 M378.6,1131.4 L373.3,1126.7 M484.4,1124.1 L457.0,1143.1 M462.1,1139.5 L456.6,1135.2 M567.4,1130.8 L536.1,1144.4 M542.0,1141.9 L537.3,1136.5 M649.0,1139.1 L616.4,1145.8 M622.5,1144.5 L619.2,1138.4 M656.1,1067.9 L647.0,1100.0 M648.7,1094.0 L641.7,1094.2 M697.7,167.6 L682.4,197.7 M685.3,192.1 L678.3,190.9 M785.3,175.7 L768.8,205.3 M768.8,205.3 L754.9,202.4 M687.9,235.9 L697.8,268.4 M695.9,262.3 L690.0,266.3 M861.8,251.4 L839.6,277.3 M839.6,277.3 L826.4,271.7 M872.3,183.8 L884.6,215.4 M882.3,209.5 L876.8,213.9 M959.6,192.3 L925.1,193.5 M931.6,193.3 L929.2,186.5 M948.8,260.1 L916.7,271.2 M916.7,271.2 L908.3,259.8 M676.7,304.5 L698.9,332.1 M694.7,327.0 L690.6,333.1 M764.2,312.1 L779.8,342.5 M776.9,336.8 L771.8,341.8 M851.9,319.7 L847.0,354.3 M847.9,347.8 L840.7,349.0 M840.1,388.3 L859.8,416.7 M856.1,411.4 L851.7,417.1 M927.5,396.7 L912.7,427.6 M915.5,421.8 L908.4,420.7 M652.6,436.3 L672.4,468.5 M668.7,462.5 L663.5,468.4 M744.8,448.5 L759.6,479.3 M756.8,473.6 L751.6,478.4 M734.1,517.2 L744.5,549.3 M742.5,543.3 L736.8,547.3 M905.9,533.9 L875.5,548.7 M881.2,546.0 L876.4,540.8 M725.2,585.4 L729.4,617.5 M728.6,611.4 L722.5,614.3 M809.2,592.8 L778.6,606.8 M784.3,604.2 L779.6,598.9 M916.1,464.8 L893.9,439.6 M898.1,444.3 L901.7,438.3 M884.2,671.3 L898.5,640.2 M895.8,646.0 L902.9,646.9 M969.8,679.6 L936.9,669.2 M943.1,671.2 L943.1,664.0 M715.5,654.9 L713.1,688.2 M713.5,681.9 L706.7,683.5 M799.2,662.3 L825.9,684.5 M820.9,680.4 L818.1,687.1 M696.5,793.2 L664.9,778.2 M670.8,781.0 L671.9,773.7 M771.5,869.7 L736.2,868.9 M736.2,868.9 L732.1,854.7 M866.7,807.4 L832.9,817.8 M832.9,817.8 L824.5,805.5 M948.8,816.7 L916.0,826.6 M916.0,826.6 L907.9,814.7 M854.8,877.3 L821.5,882.2 M821.5,882.2 L815.4,869.5 M938.7,885.7 L904.9,893.1 M904.9,893.1 L897.7,880.5 M761.4,938.7 L727.3,945.4 M733.7,944.1 L730.2,937.7 M844.7,946.7 L811.2,950.4 M817.5,949.7 L814.6,943.3 M928.1,954.3 L894.0,959.8 M894.0,959.8 L887.6,946.8 M751.8,1008.1 L717.2,1008.1 M723.7,1008.1 L721.5,1001.2 M834.6,1016.7 L800.1,1017.4 M806.5,1017.3 L804.2,1010.4 M917.2,1024.5 L883.2,1026.2 M889.5,1025.9 L887.1,1019.2 M741.7,1077.4 L708.9,1066.8 M715.0,1068.8 L715.1,1061.5 M825.0,1085.0 L791.0,1078.1 M797.4,1079.4 L796.6,1072.2 M907.1,1093.5 L875.0,1079.5 M881.1,1082.1 L881.9,1074.8 M668.4,1000.3 L639.7,1006.0 M645.1,1004.9 L642.1,999.5 M678.5,930.8 L645.0,931.5 M651.3,931.4 L649.0,924.7 M732.9,1147.2 L698.8,1154.6 M705.2,1153.2 L701.6,1146.9 M814.2,1155.0 L786.6,1135.2 M791.8,1138.9 L794.0,1132.2 M897.2,1164.0 L874.4,1137.3 M878.7,1142.3 L882.6,1136.1 M978.4,1168.8 L950.8,1149.9 M950.8,1149.9 L954.9,1136.4 M339.3,207.2 L340.5,240.4 M340.3,234.2 L333.7,236.5 M341.8,144.9 L340.8,172.2 M341.0,167.1 L335.5,168.6 M1046.5,201.3 L1013.2,195.1 M1019.5,196.3 L1018.6,189.2 M1133.7,210.2 L1100.4,208.2 M1100.4,208.2 L1097.0,194.7 M1220.8,220.2 L1187.0,212.1 M1187.0,212.1 L1186.0,197.5 M1307.9,223.3 L1275.4,215.9 M1275.4,215.9 L1274.3,201.9 M1035.2,269.3 L1001.9,270.1 M1001.9,270.1 L997.4,256.8 M1121.6,278.3 L1089.0,267.7 M1095.1,269.7 L1095.2,262.5 M1209.0,287.6 L1177.4,274.0 M1177.4,274.0 L1178.8,259.7 M1297.4,293.4 L1265.8,278.6 M1265.8,278.6 L1267.7,264.1 M1025.1,338.1 L994.2,322.5 M994.2,322.5 L996.6,308.2 M1111.0,346.9 L1082.6,327.6 M1082.6,327.6 L1086.8,313.9 M1196.9,355.8 L1166.7,339.7 M1166.7,339.7 L1169.4,325.7 M1281.7,365.3 L1253.1,348.6 M1253.1,348.6 L1256.2,335.0 M1098.9,414.5 L1075.7,390.3 M1080.1,394.9 L1083.5,388.7 M1185.6,423.9 L1160.9,399.9 M1160.9,399.9 L1167.4,387.0 M1270.1,432.7 L1242.5,413.0 M1242.5,413.0 L1246.9,399.5 M1205.2,151.1 L1233.4,152.6 M1003.1,473.3 L970.3,484.6 M970.3,484.6 L961.6,472.9 M1088.3,483.0 L1058.6,466.5 M1058.6,466.5 L1061.6,452.6 M1173.5,492.0 L1150.7,465.9 M1155.0,470.8 L1158.8,464.6 M1258.7,501.6 L1224.1,497.9 M1224.1,497.9 L1221.3,483.6 M991.0,542.3 L962.2,558.3 M967.6,555.3 L962.6,550.5 M1076.4,551.2 L1046.8,533.4 M1052.3,536.8 L1054.0,529.7 M1162.0,560.4 L1129.4,570.3 M1129.4,570.3 L1121.4,558.5 M1246.8,569.4 L1212.8,576.1 M1219.1,574.9 L1215.7,568.5 M1065.5,621.8 L1034.7,635.9 M1040.4,633.2 L1035.7,627.9 M980.9,610.9 L949.6,625.3 M955.4,622.6 L950.6,617.2 M1151.3,628.8 L1118.0,632.2 M1118.0,632.2 L1112.5,619.3 M1236.0,638.9 L1202.1,645.1 M1202.1,645.1 L1195.5,632.3 M1054.7,688.9 L1032.5,714.3 M1032.5,714.3 L1019.6,708.6 M1138.7,697.4 L1105.4,699.9 M1105.4,699.9 L1100.3,686.9 M1223.3,707.0 L1189.5,702.5 M1189.5,702.5 L1187.1,688.4 M1306.7,720.1 L1273.4,715.1 M1273.4,715.1 L1271.2,701.2 M1044.0,757.6 L1012.0,767.5 M1012.0,767.5 L1004.0,755.9 M1127.4,767.0 L1095.3,775.6 M1095.3,775.6 L1087.8,763.9 M1210.7,775.7 L1177.4,775.7 M1177.4,775.7 L1173.2,762.4 M1041.7,823.8 L999.1,834.0 M1007.1,832.0 L1002.4,824.2 M1296.6,785.1 L1262.8,787.5 M1262.8,787.5 L1257.6,774.3 M1116.8,834.4 L1083.4,845.0 M1089.7,843.0 L1085.5,837.0 M1200.6,844.4 L1166.8,847.6 M1166.8,847.6 L1161.3,834.5 M1283.9,853.3 L1250.6,855.7 M1250.6,855.7 L1245.5,842.7 M1105.1,903.8 L1071.3,908.8 M1077.7,907.8 L1074.6,901.4 M1188.7,912.7 L1155.2,923.1 M1161.5,921.1 L1157.3,915.1 M1273.8,923.4 L1240.5,922.0 M1240.5,922.0 L1237.0,908.5 M1011.2,963.9 L977.4,968.9 M983.7,967.9 L980.6,961.5 M1094.5,973.3 L1061.7,984.9 M1067.9,982.8 L1063.5,976.9 M1260.5,991.1 L1231.1,1010.9 M1236.6,1007.2 L1230.9,1002.5 M1001.1,1032.6 L967.3,1033.8 M973.6,1033.6 L971.2,1026.9 M1083.2,1042.2 L1049.8,1048.2 M1056.1,1047.0 L1052.8,1040.8 M1165.1,1051.0 L1137.4,1070.2 M1142.6,1066.6 L1137.0,1062.3 M1248.6,1060.5 L1217.8,1074.1 M1223.6,1071.5 L1218.9,1066.2 M1071.8,1112.8 L1042.2,1094.8 M1042.2,1094.8 L1045.7,1080.7 M1237.2,1130.6 L1203.9,1125.2 M1210.2,1126.2 L1209.2,1119.2"/>
<circle cx="505.4" cy="289.5" r="4.9" fill="none" stroke="#000" stroke-width="4.4"/>
<circle cx="620.3" cy="715.6" r="4.9" fill="none" stroke="#000" stroke-width="4.4"/>
<circle cx="602.7" cy="854.0" r="4.9" fill="none" stroke="#000" stroke-width="4.4"/>
<circle cx="636.8" cy="903.3" r="4.9" fill="none" stroke="#000" stroke-width="4.4"/>
<circle cx="774.9" cy="243.6" r="4.9" fill="none" stroke="#000" stroke-width="4.4"/>
<circle cx="668.3" cy="372.9" r="4.9" fill="none" stroke="#000" stroke-width="4.4"/>
<circle cx="754.7" cy="380.4" r="4.9" fill="none" stroke="#000" stroke-width="4.4"/>
<circle cx="937.3" cy="328.2" r="4.9" fill="none" stroke="#000" stroke-width="4.4"/>
<circle cx="830.5" cy="455.7" r="4.9" fill="none" stroke="#000" stroke-width="4.4"/>
<circle cx="820.4" cy="525.2" r="4.9" fill="none" stroke="#000" stroke-width="4.4"/>
<circle cx="894.9" cy="602.2" r="4.9" fill="none" stroke="#000" stroke-width="4.4"/>
<circle cx="705.5" cy="723.9" r="4.9" fill="none" stroke="#000" stroke-width="4.4"/>
<circle cx="790.1" cy="731.5" r="4.9" fill="none" stroke="#000" stroke-width="4.4"/>
<circle cx="874.2" cy="739.8" r="4.9" fill="none" stroke="#000" stroke-width="4.4"/>
<circle cx="1012.3" cy="405.7" r="4.9" fill="none" stroke="#000" stroke-width="4.4"/>
<path d="M186.0,150.4 V1166.4 M342.3,150.4 V1166.4 M498.6,150.4 V1166.4 M655.0,150.4 V1166.4 M811.3,150.4 V1166.4 M967.6,150.4 V1166.4 M1124.0,150.4 V1166.4 M30.4,307.2 H1280.5 M30.4,463.3 H1280.5 M30.4,619.4 H1280.5 M30.4,775.5 H1280.5 M30.4,931.6 H1280.5 M30.4,1087.7 H1280.5 " stroke="#b0b0b0" stroke-width="2.9" fill="none"/>
</g>
<rect x="30.4" y="150.4" width="1250.1" height="1016.0" fill="none" stroke="#000" stroke-width="3.3"/>
<rect x="1295.5" y="104.40" width="54.8" height="111.40" fill="#ff2814"/>
<rect x="1295.5" y="215.20" width="54.8" height="111.40" fill="#ff743c"/>
<rect x="1295.5" y="326.00" width="54.8" height="111.40" fill="#ffb462"/>
<rect x="1295.5" y="436.80" width="54.8" height="111.40" fill="#cce385"/>
<rect x="1295.5" y="547.60" width="54.8" height="111.40" fill="#99fca6"/>
<rect x="1295.5" y="658.40" width="54.8" height="111.40" fill="#66fcc2"/>
<rect x="1295.5" y="769.20" width="54.8" height="111.40" fill="#33e3d9"/>
<rect x="1295.5" y="880.00" width="54.8" height="111.40" fill="#00b4ec"/>
<rect x="1295.5" y="990.80" width="54.8" height="111.40" fill="#3374f8"/>
<rect x="1295.5" y="1101.60" width="54.8" height="111.40" fill="#6628fe"/>
<rect x="1295.5" y="104.7" width="54.8" height="1108.0" fill="none" stroke="#000" stroke-width="3.3"/>
<path d="M1351.9,104.7 H1365.8" stroke="#000" stroke-width="3.3"/>
<text transform="translate(1380.0,120.3) scale(1.05,1)" font-size="45">10</text>
<path d="M1351.9,215.5 H1365.8" stroke="#000" stroke-width="3.3"/>
<text transform="translate(1380.0,231.1) scale(1.05,1)" font-size="45">4</text>
<path d="M1351.9,326.3 H1365.8" stroke="#000" stroke-width="3.3"/>
<text transform="translate(1380.0,341.9) scale(1.05,1)" font-size="45">2</text>
<path d="M1351.9,437.1 H1365.8" stroke="#000" stroke-width="3.3"/>
<text transform="translate(1380.0,452.7) scale(1.05,1)" font-size="45">0.6</text>
<path d="M1351.9,547.9 H1365.8" stroke="#000" stroke-width="3.3"/>
<text transform="translate(1380.0,563.5) scale(1.05,1)" font-size="45">0.3</text>
<path d="M1351.9,658.7 H1365.8" stroke="#000" stroke-width="3.3"/>
<text transform="translate(1380.0,674.3) scale(1.05,1)" font-size="45">0.1</text>
<path d="M1351.9,769.5 H1365.8" stroke="#000" stroke-width="3.3"/>
<text transform="translate(1380.0,785.1) scale(1.05,1)" font-size="45">0.04</text>
<path d="M1351.9,880.3 H1365.8" stroke="#000" stroke-width="3.3"/>
<text transform="translate(1380.0,895.9) scale(1.05,1)" font-size="45">0.02</text>
<path d="M1351.9,991.1 H1365.8" stroke="#000" stroke-width="3.3"/>
<text transform="translate(1380.0,1006.7) scale(1.05,1)" font-size="45">0.006</text>
<path d="M1351.9,1101.9 H1365.8" stroke="#000" stroke-width="3.3"/>
<text transform="translate(1380.0,1117.5) scale(1.05,1)" font-size="45">0.003</text>
<path d="M1351.9,1212.7 H1365.8" stroke="#000" stroke-width="3.3"/>
<text transform="translate(1380.0,1228.3) scale(1.05,1)" font-size="45">0.001</text>
<text transform="translate(1315.2,79.2) scale(1.092,1)" font-size="51">ppb</text>
<text transform="translate(363.50,67.9) scale(0.9921,1)" font-size="52.5">WRF-Tracer</text>
<text transform="translate(660.90,67.9) scale(0.9770,1)" font-size="52.5">NO_ship</text>
<text transform="translate(877.19,67.9) scale(1.0571,1)" font-size="52.5">sfc</text>
<text transform="translate(101.31,126.0) scale(1.1403,1)" font-size="52.5">Init</text>
<text transform="translate(198.10,126.0) scale(1.0683,1)" font-size="52.5">2024-03-27</text>
<text transform="translate(507.91,126.0) scale(1.0870,1)" font-size="52.5">1200</text>
<text transform="translate(648.17,126.0) scale(1.0754,1)" font-size="52.5">Time</text>
<text transform="translate(787.07,126.0) scale(1.0783,1)" font-size="52.5">2024-03-28</text>
<text transform="translate(1094.08,126.0) scale(1.0951,1)" font-size="52.5">1900</text>
</svg></body></html>
